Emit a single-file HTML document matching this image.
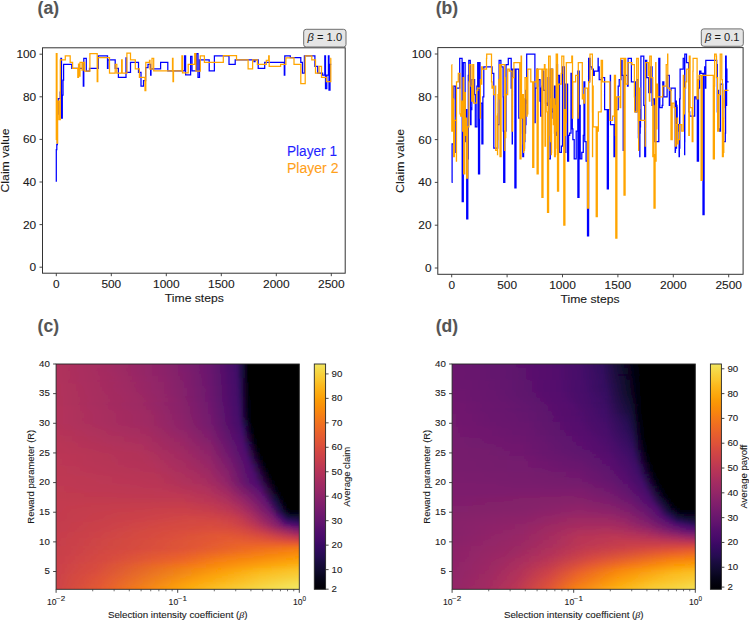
<!DOCTYPE html>
<html><head><meta charset="utf-8"><title>Figure</title>
<style>html,body{margin:0;padding:0;background:#fff;width:749px;height:620px;overflow:hidden}svg{display:block}</style>
</head><body><svg width="749" height="620" viewBox="0 0 749 620" font-family='"Liberation Sans", sans-serif'><defs><filter id="hblur" x="-5%" y="-5%" width="110%" height="110%"><feGaussianBlur stdDeviation="1.1"/></filter><clipPath id="clip0"><rect x="56.10" y="364.00" width="243.20" height="225.30"/></clipPath><linearGradient id="g1" gradientUnits="userSpaceOnUse" x1="56.10" y1="0" x2="299.30" y2="0"><stop offset="0.0021" stop-color="#b0315b"/><stop offset="0.2119" stop-color="#a32c61"/><stop offset="0.4342" stop-color="#8c2369"/><stop offset="0.5453" stop-color="#7a1d6d"/><stop offset="0.6317" stop-color="#69166e"/><stop offset="0.7428" stop-color="#400a67"/><stop offset="0.7675" stop-color="#180c3c"/><stop offset="0.7922" stop-color="#000004"/><stop offset="0.9979" stop-color="#000004"/></linearGradient><linearGradient id="g2" gradientUnits="userSpaceOnUse" x1="56.10" y1="0" x2="299.30" y2="0"><stop offset="0.0021" stop-color="#b0315b"/><stop offset="0.2119" stop-color="#a32c61"/><stop offset="0.4342" stop-color="#8c2369"/><stop offset="0.5453" stop-color="#7a1d6d"/><stop offset="0.6317" stop-color="#69166e"/><stop offset="0.7428" stop-color="#400a67"/><stop offset="0.7675" stop-color="#180c3c"/><stop offset="0.7922" stop-color="#000004"/><stop offset="0.9979" stop-color="#000004"/></linearGradient><linearGradient id="g3" gradientUnits="userSpaceOnUse" x1="56.10" y1="0" x2="299.30" y2="0"><stop offset="0.0021" stop-color="#b0315b"/><stop offset="0.2243" stop-color="#a22b62"/><stop offset="0.4342" stop-color="#8d2369"/><stop offset="0.5453" stop-color="#7c1d6d"/><stop offset="0.6317" stop-color="#69166e"/><stop offset="0.7428" stop-color="#400a67"/><stop offset="0.7675" stop-color="#180c3c"/><stop offset="0.7922" stop-color="#000004"/><stop offset="0.9979" stop-color="#000004"/></linearGradient><linearGradient id="g4" gradientUnits="userSpaceOnUse" x1="56.10" y1="0" x2="299.30" y2="0"><stop offset="0.0021" stop-color="#b0315b"/><stop offset="0.2243" stop-color="#a22b62"/><stop offset="0.4342" stop-color="#8d2369"/><stop offset="0.5329" stop-color="#7d1e6d"/><stop offset="0.6317" stop-color="#69166e"/><stop offset="0.7428" stop-color="#400a67"/><stop offset="0.7675" stop-color="#190c3e"/><stop offset="0.7922" stop-color="#000004"/><stop offset="0.9979" stop-color="#000004"/></linearGradient><linearGradient id="g5" gradientUnits="userSpaceOnUse" x1="56.10" y1="0" x2="299.30" y2="0"><stop offset="0.0021" stop-color="#b0315b"/><stop offset="0.2366" stop-color="#a22b62"/><stop offset="0.4342" stop-color="#8d2369"/><stop offset="0.5329" stop-color="#7f1e6c"/><stop offset="0.6317" stop-color="#69166e"/><stop offset="0.7428" stop-color="#420a68"/><stop offset="0.7675" stop-color="#190c3e"/><stop offset="0.7922" stop-color="#000004"/><stop offset="0.9979" stop-color="#000004"/></linearGradient><linearGradient id="g6" gradientUnits="userSpaceOnUse" x1="56.10" y1="0" x2="299.30" y2="0"><stop offset="0.0021" stop-color="#b0315b"/><stop offset="0.2366" stop-color="#a22b62"/><stop offset="0.4342" stop-color="#8d2369"/><stop offset="0.5329" stop-color="#7f1e6c"/><stop offset="0.6317" stop-color="#6a176e"/><stop offset="0.7428" stop-color="#420a68"/><stop offset="0.7675" stop-color="#190c3e"/><stop offset="0.7922" stop-color="#000004"/><stop offset="0.9979" stop-color="#000004"/></linearGradient><linearGradient id="g7" gradientUnits="userSpaceOnUse" x1="56.10" y1="0" x2="299.30" y2="0"><stop offset="0.0021" stop-color="#b0315b"/><stop offset="0.2490" stop-color="#a22b62"/><stop offset="0.4342" stop-color="#8f2469"/><stop offset="0.5329" stop-color="#7f1e6c"/><stop offset="0.6317" stop-color="#6a176e"/><stop offset="0.7428" stop-color="#420a68"/><stop offset="0.7675" stop-color="#190c3e"/><stop offset="0.7922" stop-color="#000004"/><stop offset="0.9979" stop-color="#000004"/></linearGradient><linearGradient id="g8" gradientUnits="userSpaceOnUse" x1="56.10" y1="0" x2="299.30" y2="0"><stop offset="0.0021" stop-color="#b0315b"/><stop offset="0.2490" stop-color="#a22b62"/><stop offset="0.4342" stop-color="#8f2469"/><stop offset="0.5329" stop-color="#7f1e6c"/><stop offset="0.6317" stop-color="#6a176e"/><stop offset="0.7428" stop-color="#420a68"/><stop offset="0.7551" stop-color="#2f0a5b"/><stop offset="0.7922" stop-color="#000004"/><stop offset="0.9979" stop-color="#000004"/></linearGradient><linearGradient id="g9" gradientUnits="userSpaceOnUse" x1="56.10" y1="0" x2="299.30" y2="0"><stop offset="0.0021" stop-color="#b0315b"/><stop offset="0.2613" stop-color="#a02a63"/><stop offset="0.4342" stop-color="#8f2469"/><stop offset="0.5329" stop-color="#801f6c"/><stop offset="0.6317" stop-color="#6a176e"/><stop offset="0.7428" stop-color="#420a68"/><stop offset="0.7551" stop-color="#2f0a5b"/><stop offset="0.7922" stop-color="#000004"/><stop offset="0.9979" stop-color="#000004"/></linearGradient><linearGradient id="g10" gradientUnits="userSpaceOnUse" x1="56.10" y1="0" x2="299.30" y2="0"><stop offset="0.0021" stop-color="#b0315b"/><stop offset="0.2613" stop-color="#a22b62"/><stop offset="0.4342" stop-color="#902568"/><stop offset="0.5329" stop-color="#801f6c"/><stop offset="0.6317" stop-color="#6a176e"/><stop offset="0.7428" stop-color="#420a68"/><stop offset="0.7551" stop-color="#310a5c"/><stop offset="0.7922" stop-color="#000004"/><stop offset="0.9979" stop-color="#000004"/></linearGradient><linearGradient id="g11" gradientUnits="userSpaceOnUse" x1="56.10" y1="0" x2="299.30" y2="0"><stop offset="0.0021" stop-color="#b1325a"/><stop offset="0.2737" stop-color="#a02a63"/><stop offset="0.4342" stop-color="#902568"/><stop offset="0.5329" stop-color="#801f6c"/><stop offset="0.6317" stop-color="#6a176e"/><stop offset="0.7428" stop-color="#440a68"/><stop offset="0.7551" stop-color="#310a5c"/><stop offset="0.7922" stop-color="#010005"/><stop offset="0.9979" stop-color="#000004"/></linearGradient><linearGradient id="g12" gradientUnits="userSpaceOnUse" x1="56.10" y1="0" x2="299.30" y2="0"><stop offset="0.0021" stop-color="#b1325a"/><stop offset="0.2737" stop-color="#a02a63"/><stop offset="0.4342" stop-color="#902568"/><stop offset="0.5329" stop-color="#801f6c"/><stop offset="0.6317" stop-color="#6c186e"/><stop offset="0.7428" stop-color="#440a68"/><stop offset="0.7551" stop-color="#310a5c"/><stop offset="0.7922" stop-color="#010005"/><stop offset="0.8169" stop-color="#000004"/><stop offset="0.9979" stop-color="#000004"/></linearGradient><linearGradient id="g13" gradientUnits="userSpaceOnUse" x1="56.10" y1="0" x2="299.30" y2="0"><stop offset="0.0021" stop-color="#b1325a"/><stop offset="0.2860" stop-color="#a02a63"/><stop offset="0.4342" stop-color="#902568"/><stop offset="0.5329" stop-color="#82206c"/><stop offset="0.6317" stop-color="#6c186e"/><stop offset="0.7428" stop-color="#440a68"/><stop offset="0.7551" stop-color="#320a5e"/><stop offset="0.7922" stop-color="#010005"/><stop offset="0.8045" stop-color="#000004"/><stop offset="0.9979" stop-color="#000004"/></linearGradient><linearGradient id="g14" gradientUnits="userSpaceOnUse" x1="56.10" y1="0" x2="299.30" y2="0"><stop offset="0.0021" stop-color="#b1325a"/><stop offset="0.2860" stop-color="#a02a63"/><stop offset="0.4342" stop-color="#922568"/><stop offset="0.5329" stop-color="#82206c"/><stop offset="0.6317" stop-color="#6c186e"/><stop offset="0.7428" stop-color="#440a68"/><stop offset="0.7551" stop-color="#320a5e"/><stop offset="0.7922" stop-color="#010005"/><stop offset="0.8045" stop-color="#000004"/><stop offset="0.9979" stop-color="#000004"/></linearGradient><linearGradient id="g15" gradientUnits="userSpaceOnUse" x1="56.10" y1="0" x2="299.30" y2="0"><stop offset="0.0021" stop-color="#b1325a"/><stop offset="0.2984" stop-color="#a02a63"/><stop offset="0.4342" stop-color="#922568"/><stop offset="0.5329" stop-color="#82206c"/><stop offset="0.6317" stop-color="#6c186e"/><stop offset="0.7428" stop-color="#440a68"/><stop offset="0.7551" stop-color="#320a5e"/><stop offset="0.7922" stop-color="#010106"/><stop offset="0.8045" stop-color="#000004"/><stop offset="0.9979" stop-color="#000004"/></linearGradient><linearGradient id="g16" gradientUnits="userSpaceOnUse" x1="56.10" y1="0" x2="299.30" y2="0"><stop offset="0.0021" stop-color="#b1325a"/><stop offset="0.3107" stop-color="#9f2a63"/><stop offset="0.4465" stop-color="#902568"/><stop offset="0.5329" stop-color="#82206c"/><stop offset="0.6317" stop-color="#6c186e"/><stop offset="0.7428" stop-color="#440a68"/><stop offset="0.7551" stop-color="#340a5f"/><stop offset="0.7922" stop-color="#010106"/><stop offset="0.8045" stop-color="#000004"/><stop offset="0.9979" stop-color="#000004"/></linearGradient><linearGradient id="g17" gradientUnits="userSpaceOnUse" x1="56.10" y1="0" x2="299.30" y2="0"><stop offset="0.0021" stop-color="#b1325a"/><stop offset="0.3230" stop-color="#9f2a63"/><stop offset="0.4835" stop-color="#8c2369"/><stop offset="0.6317" stop-color="#6d186e"/><stop offset="0.7428" stop-color="#450a69"/><stop offset="0.7551" stop-color="#340a5f"/><stop offset="0.7922" stop-color="#010108"/><stop offset="0.8045" stop-color="#000004"/><stop offset="0.9979" stop-color="#000004"/></linearGradient><linearGradient id="g18" gradientUnits="userSpaceOnUse" x1="56.10" y1="0" x2="299.30" y2="0"><stop offset="0.0021" stop-color="#b1325a"/><stop offset="0.3230" stop-color="#9f2a63"/><stop offset="0.4712" stop-color="#8f2469"/><stop offset="0.6070" stop-color="#741a6e"/><stop offset="0.6564" stop-color="#64156e"/><stop offset="0.7428" stop-color="#450a69"/><stop offset="0.7551" stop-color="#360961"/><stop offset="0.7922" stop-color="#010108"/><stop offset="0.8045" stop-color="#000004"/><stop offset="0.9979" stop-color="#000004"/></linearGradient><linearGradient id="g19" gradientUnits="userSpaceOnUse" x1="56.10" y1="0" x2="299.30" y2="0"><stop offset="0.0021" stop-color="#b1325a"/><stop offset="0.3354" stop-color="#9f2a63"/><stop offset="0.4959" stop-color="#8c2369"/><stop offset="0.6317" stop-color="#6d186e"/><stop offset="0.7428" stop-color="#450a69"/><stop offset="0.7551" stop-color="#380962"/><stop offset="0.7922" stop-color="#02010a"/><stop offset="0.8045" stop-color="#000004"/><stop offset="0.9979" stop-color="#000004"/></linearGradient><linearGradient id="g20" gradientUnits="userSpaceOnUse" x1="56.10" y1="0" x2="299.30" y2="0"><stop offset="0.0021" stop-color="#b1325a"/><stop offset="0.3477" stop-color="#9d2964"/><stop offset="0.5206" stop-color="#87216b"/><stop offset="0.6317" stop-color="#6f196e"/><stop offset="0.7428" stop-color="#450a69"/><stop offset="0.7551" stop-color="#380962"/><stop offset="0.7922" stop-color="#02010a"/><stop offset="0.8045" stop-color="#000004"/><stop offset="0.9979" stop-color="#000004"/></linearGradient><linearGradient id="g21" gradientUnits="userSpaceOnUse" x1="56.10" y1="0" x2="299.30" y2="0"><stop offset="0.0021" stop-color="#b1325a"/><stop offset="0.3477" stop-color="#9d2964"/><stop offset="0.5206" stop-color="#87216b"/><stop offset="0.6317" stop-color="#6f196e"/><stop offset="0.7428" stop-color="#450a69"/><stop offset="0.7551" stop-color="#390963"/><stop offset="0.7922" stop-color="#02020c"/><stop offset="0.8045" stop-color="#000004"/><stop offset="0.9979" stop-color="#000004"/></linearGradient><linearGradient id="g22" gradientUnits="userSpaceOnUse" x1="56.10" y1="0" x2="299.30" y2="0"><stop offset="0.0021" stop-color="#b3325a"/><stop offset="0.3601" stop-color="#9d2964"/><stop offset="0.5206" stop-color="#88226a"/><stop offset="0.6317" stop-color="#6f196e"/><stop offset="0.7428" stop-color="#470b6a"/><stop offset="0.7551" stop-color="#390963"/><stop offset="0.7922" stop-color="#02020c"/><stop offset="0.8045" stop-color="#000004"/><stop offset="0.9979" stop-color="#000004"/></linearGradient><linearGradient id="g23" gradientUnits="userSpaceOnUse" x1="56.10" y1="0" x2="299.30" y2="0"><stop offset="0.0021" stop-color="#b3325a"/><stop offset="0.3601" stop-color="#9d2964"/><stop offset="0.5206" stop-color="#88226a"/><stop offset="0.6317" stop-color="#71196e"/><stop offset="0.7428" stop-color="#470b6a"/><stop offset="0.7551" stop-color="#3b0964"/><stop offset="0.7922" stop-color="#02020e"/><stop offset="0.8045" stop-color="#000004"/><stop offset="0.9979" stop-color="#000004"/></linearGradient><linearGradient id="g24" gradientUnits="userSpaceOnUse" x1="56.10" y1="0" x2="299.30" y2="0"><stop offset="0.0021" stop-color="#b3325a"/><stop offset="0.3601" stop-color="#9f2a63"/><stop offset="0.5206" stop-color="#88226a"/><stop offset="0.6317" stop-color="#71196e"/><stop offset="0.7428" stop-color="#470b6a"/><stop offset="0.7551" stop-color="#3b0964"/><stop offset="0.7922" stop-color="#02020e"/><stop offset="0.8045" stop-color="#000004"/><stop offset="0.9979" stop-color="#000004"/></linearGradient><linearGradient id="g25" gradientUnits="userSpaceOnUse" x1="56.10" y1="0" x2="299.30" y2="0"><stop offset="0.0021" stop-color="#b3325a"/><stop offset="0.3601" stop-color="#9f2a63"/><stop offset="0.5206" stop-color="#88226a"/><stop offset="0.6317" stop-color="#71196e"/><stop offset="0.7428" stop-color="#470b6a"/><stop offset="0.7551" stop-color="#3d0965"/><stop offset="0.7922" stop-color="#030210"/><stop offset="0.8045" stop-color="#000004"/><stop offset="0.9979" stop-color="#000004"/></linearGradient><linearGradient id="g26" gradientUnits="userSpaceOnUse" x1="56.10" y1="0" x2="299.30" y2="0"><stop offset="0.0021" stop-color="#b3325a"/><stop offset="0.3724" stop-color="#9f2a63"/><stop offset="0.5206" stop-color="#8a226a"/><stop offset="0.6317" stop-color="#721a6e"/><stop offset="0.7428" stop-color="#470b6a"/><stop offset="0.7551" stop-color="#3d0965"/><stop offset="0.7922" stop-color="#040312"/><stop offset="0.8045" stop-color="#000004"/><stop offset="0.9979" stop-color="#000004"/></linearGradient><linearGradient id="g27" gradientUnits="userSpaceOnUse" x1="56.10" y1="0" x2="299.30" y2="0"><stop offset="0.0021" stop-color="#b3325a"/><stop offset="0.3724" stop-color="#9f2a63"/><stop offset="0.5206" stop-color="#8a226a"/><stop offset="0.6317" stop-color="#721a6e"/><stop offset="0.7428" stop-color="#490b6a"/><stop offset="0.7551" stop-color="#3e0966"/><stop offset="0.7922" stop-color="#040312"/><stop offset="0.8045" stop-color="#000004"/><stop offset="0.9979" stop-color="#000004"/></linearGradient><linearGradient id="g28" gradientUnits="userSpaceOnUse" x1="56.10" y1="0" x2="299.30" y2="0"><stop offset="0.0021" stop-color="#b3325a"/><stop offset="0.3724" stop-color="#9f2a63"/><stop offset="0.5206" stop-color="#8a226a"/><stop offset="0.6317" stop-color="#741a6e"/><stop offset="0.7428" stop-color="#490b6a"/><stop offset="0.7551" stop-color="#400a67"/><stop offset="0.7922" stop-color="#050417"/><stop offset="0.8045" stop-color="#000004"/><stop offset="0.9979" stop-color="#000004"/></linearGradient><linearGradient id="g29" gradientUnits="userSpaceOnUse" x1="56.10" y1="0" x2="299.30" y2="0"><stop offset="0.0021" stop-color="#b3325a"/><stop offset="0.3724" stop-color="#9f2a63"/><stop offset="0.5206" stop-color="#8c2369"/><stop offset="0.6317" stop-color="#741a6e"/><stop offset="0.7428" stop-color="#490b6a"/><stop offset="0.7551" stop-color="#420a68"/><stop offset="0.7798" stop-color="#160b39"/><stop offset="0.7922" stop-color="#07051b"/><stop offset="0.8045" stop-color="#000004"/><stop offset="0.9979" stop-color="#000004"/></linearGradient><linearGradient id="g30" gradientUnits="userSpaceOnUse" x1="56.10" y1="0" x2="299.30" y2="0"><stop offset="0.0021" stop-color="#b3325a"/><stop offset="0.3724" stop-color="#a02a63"/><stop offset="0.5206" stop-color="#8c2369"/><stop offset="0.6317" stop-color="#741a6e"/><stop offset="0.7551" stop-color="#440a68"/><stop offset="0.7798" stop-color="#190c3e"/><stop offset="0.8045" stop-color="#000004"/><stop offset="0.9979" stop-color="#000004"/></linearGradient><linearGradient id="g31" gradientUnits="userSpaceOnUse" x1="56.10" y1="0" x2="299.30" y2="0"><stop offset="0.0021" stop-color="#b43359"/><stop offset="0.3724" stop-color="#a02a63"/><stop offset="0.5206" stop-color="#8d2369"/><stop offset="0.6317" stop-color="#751b6e"/><stop offset="0.7551" stop-color="#450a69"/><stop offset="0.7798" stop-color="#1c0c43"/><stop offset="0.8045" stop-color="#010005"/><stop offset="0.8169" stop-color="#000004"/><stop offset="0.9979" stop-color="#000004"/></linearGradient><linearGradient id="g32" gradientUnits="userSpaceOnUse" x1="56.10" y1="0" x2="299.30" y2="0"><stop offset="0.0021" stop-color="#b43359"/><stop offset="0.3724" stop-color="#a22b62"/><stop offset="0.5206" stop-color="#8d2369"/><stop offset="0.6317" stop-color="#771c6d"/><stop offset="0.7551" stop-color="#470b6a"/><stop offset="0.7675" stop-color="#360961"/><stop offset="0.8045" stop-color="#010108"/><stop offset="0.8169" stop-color="#000004"/><stop offset="0.9979" stop-color="#000004"/></linearGradient><linearGradient id="g33" gradientUnits="userSpaceOnUse" x1="56.10" y1="0" x2="299.30" y2="0"><stop offset="0.0021" stop-color="#b43359"/><stop offset="0.3724" stop-color="#a32c61"/><stop offset="0.5329" stop-color="#8d2369"/><stop offset="0.6317" stop-color="#781c6d"/><stop offset="0.7551" stop-color="#490b6a"/><stop offset="0.7675" stop-color="#380962"/><stop offset="0.8045" stop-color="#02020c"/><stop offset="0.8169" stop-color="#000004"/><stop offset="0.9979" stop-color="#000004"/></linearGradient><linearGradient id="g34" gradientUnits="userSpaceOnUse" x1="56.10" y1="0" x2="299.30" y2="0"><stop offset="0.0021" stop-color="#b63458"/><stop offset="0.3724" stop-color="#a32c61"/><stop offset="0.5329" stop-color="#8f2469"/><stop offset="0.6317" stop-color="#7a1d6d"/><stop offset="0.7551" stop-color="#4a0c6b"/><stop offset="0.7675" stop-color="#3b0964"/><stop offset="0.8045" stop-color="#030210"/><stop offset="0.8169" stop-color="#000004"/><stop offset="0.9979" stop-color="#000004"/></linearGradient><linearGradient id="g35" gradientUnits="userSpaceOnUse" x1="56.10" y1="0" x2="299.30" y2="0"><stop offset="0.0021" stop-color="#b63458"/><stop offset="0.3724" stop-color="#a52c60"/><stop offset="0.5329" stop-color="#902568"/><stop offset="0.6317" stop-color="#7c1d6d"/><stop offset="0.7551" stop-color="#4c0c6b"/><stop offset="0.7675" stop-color="#3e0966"/><stop offset="0.8045" stop-color="#050417"/><stop offset="0.8169" stop-color="#000004"/><stop offset="0.9979" stop-color="#000004"/></linearGradient><linearGradient id="g36" gradientUnits="userSpaceOnUse" x1="56.10" y1="0" x2="299.30" y2="0"><stop offset="0.0021" stop-color="#b63458"/><stop offset="0.3601" stop-color="#a62d60"/><stop offset="0.5206" stop-color="#932667"/><stop offset="0.6317" stop-color="#7d1e6d"/><stop offset="0.7551" stop-color="#4d0d6c"/><stop offset="0.7675" stop-color="#420a68"/><stop offset="0.8169" stop-color="#000004"/><stop offset="0.9979" stop-color="#000004"/></linearGradient><linearGradient id="g37" gradientUnits="userSpaceOnUse" x1="56.10" y1="0" x2="299.30" y2="0"><stop offset="0.0021" stop-color="#b73557"/><stop offset="0.3601" stop-color="#a82e5f"/><stop offset="0.5206" stop-color="#952667"/><stop offset="0.6317" stop-color="#7f1e6c"/><stop offset="0.7551" stop-color="#4d0d6c"/><stop offset="0.7675" stop-color="#450a69"/><stop offset="0.8169" stop-color="#010106"/><stop offset="0.8292" stop-color="#000004"/><stop offset="0.9979" stop-color="#000004"/></linearGradient><linearGradient id="g38" gradientUnits="userSpaceOnUse" x1="56.10" y1="0" x2="299.30" y2="0"><stop offset="0.0021" stop-color="#b73557"/><stop offset="0.3601" stop-color="#a92e5e"/><stop offset="0.5206" stop-color="#972766"/><stop offset="0.6317" stop-color="#801f6c"/><stop offset="0.7551" stop-color="#4f0d6c"/><stop offset="0.7675" stop-color="#490b6a"/><stop offset="0.8169" stop-color="#02010a"/><stop offset="0.8292" stop-color="#000004"/><stop offset="0.9979" stop-color="#000004"/></linearGradient><linearGradient id="g39" gradientUnits="userSpaceOnUse" x1="56.10" y1="0" x2="299.30" y2="0"><stop offset="0.0021" stop-color="#b73557"/><stop offset="0.3601" stop-color="#a92e5e"/><stop offset="0.5206" stop-color="#982766"/><stop offset="0.6317" stop-color="#82206c"/><stop offset="0.7305" stop-color="#5c126e"/><stop offset="0.7675" stop-color="#4c0c6b"/><stop offset="0.8169" stop-color="#02020e"/><stop offset="0.8292" stop-color="#000004"/><stop offset="0.9979" stop-color="#000004"/></linearGradient><linearGradient id="g40" gradientUnits="userSpaceOnUse" x1="56.10" y1="0" x2="299.30" y2="0"><stop offset="0.0021" stop-color="#b93556"/><stop offset="0.3601" stop-color="#ab2f5e"/><stop offset="0.5206" stop-color="#9a2865"/><stop offset="0.6317" stop-color="#84206b"/><stop offset="0.7305" stop-color="#5c126e"/><stop offset="0.7675" stop-color="#4d0d6c"/><stop offset="0.7922" stop-color="#240c4f"/><stop offset="0.8169" stop-color="#040314"/><stop offset="0.8292" stop-color="#000004"/><stop offset="0.9979" stop-color="#000004"/></linearGradient><linearGradient id="g41" gradientUnits="userSpaceOnUse" x1="56.10" y1="0" x2="299.30" y2="0"><stop offset="0.0021" stop-color="#b93556"/><stop offset="0.3477" stop-color="#ad305d"/><stop offset="0.5206" stop-color="#9a2865"/><stop offset="0.6317" stop-color="#87216b"/><stop offset="0.7181" stop-color="#64156e"/><stop offset="0.7675" stop-color="#4f0d6c"/><stop offset="0.7798" stop-color="#3e0966"/><stop offset="0.8292" stop-color="#000004"/><stop offset="0.9979" stop-color="#000004"/></linearGradient><linearGradient id="g42" gradientUnits="userSpaceOnUse" x1="56.10" y1="0" x2="299.30" y2="0"><stop offset="0.0021" stop-color="#b93556"/><stop offset="0.3477" stop-color="#ae305c"/><stop offset="0.5206" stop-color="#9b2964"/><stop offset="0.6317" stop-color="#88226a"/><stop offset="0.7181" stop-color="#65156e"/><stop offset="0.7675" stop-color="#510e6c"/><stop offset="0.7798" stop-color="#420a68"/><stop offset="0.8292" stop-color="#010106"/><stop offset="0.8416" stop-color="#000004"/><stop offset="0.9979" stop-color="#000004"/></linearGradient><linearGradient id="g43" gradientUnits="userSpaceOnUse" x1="56.10" y1="0" x2="299.30" y2="0"><stop offset="0.0021" stop-color="#ba3655"/><stop offset="0.3477" stop-color="#ae305c"/><stop offset="0.5206" stop-color="#9d2964"/><stop offset="0.6317" stop-color="#8a226a"/><stop offset="0.7181" stop-color="#67166e"/><stop offset="0.7675" stop-color="#510e6c"/><stop offset="0.7798" stop-color="#450a69"/><stop offset="0.8292" stop-color="#02020c"/><stop offset="0.8416" stop-color="#000004"/><stop offset="0.9979" stop-color="#000004"/></linearGradient><linearGradient id="g44" gradientUnits="userSpaceOnUse" x1="56.10" y1="0" x2="299.30" y2="0"><stop offset="0.0021" stop-color="#ba3655"/><stop offset="0.3477" stop-color="#b0315b"/><stop offset="0.5206" stop-color="#9f2a63"/><stop offset="0.6317" stop-color="#8c2369"/><stop offset="0.7181" stop-color="#69166e"/><stop offset="0.7675" stop-color="#520e6d"/><stop offset="0.7798" stop-color="#4a0c6b"/><stop offset="0.8292" stop-color="#040312"/><stop offset="0.8416" stop-color="#000004"/><stop offset="0.9979" stop-color="#000004"/></linearGradient><linearGradient id="g45" gradientUnits="userSpaceOnUse" x1="56.10" y1="0" x2="299.30" y2="0"><stop offset="0.0021" stop-color="#ba3655"/><stop offset="0.3477" stop-color="#b1325a"/><stop offset="0.5206" stop-color="#a02a63"/><stop offset="0.6317" stop-color="#8d2369"/><stop offset="0.7181" stop-color="#6a176e"/><stop offset="0.7798" stop-color="#4d0d6c"/><stop offset="0.8416" stop-color="#000004"/><stop offset="0.9979" stop-color="#000004"/></linearGradient><linearGradient id="g46" gradientUnits="userSpaceOnUse" x1="56.10" y1="0" x2="299.30" y2="0"><stop offset="0.0021" stop-color="#bc3754"/><stop offset="0.3601" stop-color="#b1325a"/><stop offset="0.5206" stop-color="#a22b62"/><stop offset="0.6317" stop-color="#8f2469"/><stop offset="0.7181" stop-color="#6c186e"/><stop offset="0.7798" stop-color="#4f0d6c"/><stop offset="0.8416" stop-color="#010106"/><stop offset="0.8539" stop-color="#000004"/><stop offset="0.9979" stop-color="#000004"/></linearGradient><linearGradient id="g47" gradientUnits="userSpaceOnUse" x1="56.10" y1="0" x2="299.30" y2="0"><stop offset="0.0021" stop-color="#bc3754"/><stop offset="0.3724" stop-color="#b1325a"/><stop offset="0.5329" stop-color="#a02a63"/><stop offset="0.6317" stop-color="#902568"/><stop offset="0.7058" stop-color="#741a6e"/><stop offset="0.7798" stop-color="#510e6c"/><stop offset="0.7922" stop-color="#420a68"/><stop offset="0.8416" stop-color="#02020c"/><stop offset="0.8539" stop-color="#000004"/><stop offset="0.9979" stop-color="#000004"/></linearGradient><linearGradient id="g48" gradientUnits="userSpaceOnUse" x1="56.10" y1="0" x2="299.30" y2="0"><stop offset="0.0021" stop-color="#bc3754"/><stop offset="0.3724" stop-color="#b1325a"/><stop offset="0.5329" stop-color="#a22b62"/><stop offset="0.6317" stop-color="#922568"/><stop offset="0.7058" stop-color="#771c6d"/><stop offset="0.7798" stop-color="#520e6d"/><stop offset="0.7922" stop-color="#450a69"/><stop offset="0.8416" stop-color="#040312"/><stop offset="0.8539" stop-color="#000004"/><stop offset="0.9979" stop-color="#000004"/></linearGradient><linearGradient id="g49" gradientUnits="userSpaceOnUse" x1="56.10" y1="0" x2="299.30" y2="0"><stop offset="0.0021" stop-color="#bc3754"/><stop offset="0.3848" stop-color="#b1325a"/><stop offset="0.5329" stop-color="#a32c61"/><stop offset="0.6317" stop-color="#932667"/><stop offset="0.7058" stop-color="#781c6d"/><stop offset="0.7798" stop-color="#540f6d"/><stop offset="0.7922" stop-color="#4a0c6b"/><stop offset="0.8539" stop-color="#010005"/><stop offset="0.9979" stop-color="#000004"/></linearGradient><linearGradient id="g50" gradientUnits="userSpaceOnUse" x1="56.10" y1="0" x2="299.30" y2="0"><stop offset="0.0021" stop-color="#bc3754"/><stop offset="0.3848" stop-color="#b3325a"/><stop offset="0.5453" stop-color="#a32c61"/><stop offset="0.6317" stop-color="#952667"/><stop offset="0.7058" stop-color="#7a1d6d"/><stop offset="0.7922" stop-color="#4d0d6c"/><stop offset="0.8539" stop-color="#02010a"/><stop offset="0.8663" stop-color="#000004"/><stop offset="0.9979" stop-color="#000004"/></linearGradient><linearGradient id="g51" gradientUnits="userSpaceOnUse" x1="56.10" y1="0" x2="299.30" y2="0"><stop offset="0.0021" stop-color="#bc3754"/><stop offset="0.3971" stop-color="#b3325a"/><stop offset="0.5453" stop-color="#a32c61"/><stop offset="0.6317" stop-color="#972766"/><stop offset="0.7058" stop-color="#7d1e6d"/><stop offset="0.7922" stop-color="#510e6c"/><stop offset="0.8169" stop-color="#2f0a5b"/><stop offset="0.8539" stop-color="#030210"/><stop offset="0.8663" stop-color="#000004"/><stop offset="0.9979" stop-color="#000004"/></linearGradient><linearGradient id="g52" gradientUnits="userSpaceOnUse" x1="56.10" y1="0" x2="299.30" y2="0"><stop offset="0.0021" stop-color="#bd3853"/><stop offset="0.3971" stop-color="#b3325a"/><stop offset="0.5453" stop-color="#a52c60"/><stop offset="0.6317" stop-color="#982766"/><stop offset="0.7058" stop-color="#7f1e6c"/><stop offset="0.7922" stop-color="#520e6d"/><stop offset="0.8045" stop-color="#470b6a"/><stop offset="0.8663" stop-color="#000004"/><stop offset="0.9979" stop-color="#000004"/></linearGradient><linearGradient id="g53" gradientUnits="userSpaceOnUse" x1="56.10" y1="0" x2="299.30" y2="0"><stop offset="0.0021" stop-color="#bd3853"/><stop offset="0.3971" stop-color="#b43359"/><stop offset="0.5576" stop-color="#a52c60"/><stop offset="0.6317" stop-color="#9a2865"/><stop offset="0.7058" stop-color="#801f6c"/><stop offset="0.7922" stop-color="#520e6d"/><stop offset="0.8045" stop-color="#4a0c6b"/><stop offset="0.8663" stop-color="#010108"/><stop offset="0.8786" stop-color="#000004"/><stop offset="0.9979" stop-color="#000004"/></linearGradient><linearGradient id="g54" gradientUnits="userSpaceOnUse" x1="56.10" y1="0" x2="299.30" y2="0"><stop offset="0.0021" stop-color="#bd3853"/><stop offset="0.3971" stop-color="#b43359"/><stop offset="0.5576" stop-color="#a62d60"/><stop offset="0.6317" stop-color="#9b2964"/><stop offset="0.7058" stop-color="#84206b"/><stop offset="0.7922" stop-color="#540f6d"/><stop offset="0.8045" stop-color="#4f0d6c"/><stop offset="0.8663" stop-color="#030210"/><stop offset="0.8786" stop-color="#000004"/><stop offset="0.9979" stop-color="#000004"/></linearGradient><linearGradient id="g55" gradientUnits="userSpaceOnUse" x1="56.10" y1="0" x2="299.30" y2="0"><stop offset="0.0021" stop-color="#bd3853"/><stop offset="0.3971" stop-color="#b63458"/><stop offset="0.5576" stop-color="#a82e5f"/><stop offset="0.6317" stop-color="#9d2964"/><stop offset="0.7058" stop-color="#85216b"/><stop offset="0.7922" stop-color="#550f6d"/><stop offset="0.8045" stop-color="#510e6c"/><stop offset="0.8169" stop-color="#440a68"/><stop offset="0.8786" stop-color="#000004"/><stop offset="0.9979" stop-color="#000004"/></linearGradient><linearGradient id="g56" gradientUnits="userSpaceOnUse" x1="56.10" y1="0" x2="299.30" y2="0"><stop offset="0.0021" stop-color="#bd3853"/><stop offset="0.3971" stop-color="#b73557"/><stop offset="0.5700" stop-color="#a82e5f"/><stop offset="0.6317" stop-color="#9f2a63"/><stop offset="0.7058" stop-color="#87216b"/><stop offset="0.7922" stop-color="#57106e"/><stop offset="0.8045" stop-color="#510e6c"/><stop offset="0.8169" stop-color="#470b6a"/><stop offset="0.8786" stop-color="#010108"/><stop offset="0.8909" stop-color="#000004"/><stop offset="0.9979" stop-color="#000004"/></linearGradient><linearGradient id="g57" gradientUnits="userSpaceOnUse" x1="56.10" y1="0" x2="299.30" y2="0"><stop offset="0.0021" stop-color="#bf3952"/><stop offset="0.3971" stop-color="#b73557"/><stop offset="0.5700" stop-color="#a92e5e"/><stop offset="0.6317" stop-color="#a02a63"/><stop offset="0.6934" stop-color="#8f2469"/><stop offset="0.7922" stop-color="#57106e"/><stop offset="0.8045" stop-color="#520e6d"/><stop offset="0.8169" stop-color="#4c0c6b"/><stop offset="0.8786" stop-color="#030210"/><stop offset="0.8909" stop-color="#000004"/><stop offset="0.9979" stop-color="#000004"/></linearGradient><linearGradient id="g58" gradientUnits="userSpaceOnUse" x1="56.10" y1="0" x2="299.30" y2="0"><stop offset="0.0021" stop-color="#bf3952"/><stop offset="0.4095" stop-color="#b73557"/><stop offset="0.5947" stop-color="#a82e5f"/><stop offset="0.6440" stop-color="#9f2a63"/><stop offset="0.6934" stop-color="#902568"/><stop offset="0.8045" stop-color="#540f6d"/><stop offset="0.8169" stop-color="#4f0d6c"/><stop offset="0.8909" stop-color="#000004"/><stop offset="0.9979" stop-color="#000004"/></linearGradient><linearGradient id="g59" gradientUnits="userSpaceOnUse" x1="56.10" y1="0" x2="299.30" y2="0"><stop offset="0.0021" stop-color="#bf3952"/><stop offset="0.4095" stop-color="#b93556"/><stop offset="0.6070" stop-color="#a82e5f"/><stop offset="0.6564" stop-color="#9d2964"/><stop offset="0.7058" stop-color="#8d2369"/><stop offset="0.7922" stop-color="#5a116e"/><stop offset="0.8169" stop-color="#510e6c"/><stop offset="0.8292" stop-color="#450a69"/><stop offset="0.8909" stop-color="#02010a"/><stop offset="0.9033" stop-color="#000004"/><stop offset="0.9979" stop-color="#000004"/></linearGradient><linearGradient id="g60" gradientUnits="userSpaceOnUse" x1="56.10" y1="0" x2="299.30" y2="0"><stop offset="0.0021" stop-color="#bf3952"/><stop offset="0.4095" stop-color="#b93556"/><stop offset="0.6070" stop-color="#a92e5e"/><stop offset="0.6564" stop-color="#a02a63"/><stop offset="0.7058" stop-color="#902568"/><stop offset="0.7922" stop-color="#5d126e"/><stop offset="0.8169" stop-color="#520e6d"/><stop offset="0.8292" stop-color="#4a0c6b"/><stop offset="0.8909" stop-color="#030210"/><stop offset="0.9033" stop-color="#000004"/><stop offset="0.9979" stop-color="#000004"/></linearGradient><linearGradient id="g61" gradientUnits="userSpaceOnUse" x1="56.10" y1="0" x2="299.30" y2="0"><stop offset="0.0021" stop-color="#bf3952"/><stop offset="0.4095" stop-color="#ba3655"/><stop offset="0.5947" stop-color="#ad305d"/><stop offset="0.6440" stop-color="#a52c60"/><stop offset="0.6934" stop-color="#982766"/><stop offset="0.7428" stop-color="#7d1e6d"/><stop offset="0.8045" stop-color="#5c126e"/><stop offset="0.8292" stop-color="#510e6c"/><stop offset="0.9033" stop-color="#010005"/><stop offset="0.9156" stop-color="#000004"/><stop offset="0.9979" stop-color="#000004"/></linearGradient><linearGradient id="g62" gradientUnits="userSpaceOnUse" x1="56.10" y1="0" x2="299.30" y2="0"><stop offset="0.0021" stop-color="#c03a51"/><stop offset="0.4218" stop-color="#ba3655"/><stop offset="0.5947" stop-color="#b0315b"/><stop offset="0.6440" stop-color="#a82e5f"/><stop offset="0.7058" stop-color="#972766"/><stop offset="0.8045" stop-color="#61136e"/><stop offset="0.8292" stop-color="#57106e"/><stop offset="0.8416" stop-color="#490b6a"/><stop offset="0.9033" stop-color="#02010a"/><stop offset="0.9156" stop-color="#000004"/><stop offset="0.9979" stop-color="#000004"/></linearGradient><linearGradient id="g63" gradientUnits="userSpaceOnUse" x1="56.10" y1="0" x2="299.30" y2="0"><stop offset="0.0021" stop-color="#c03a51"/><stop offset="0.4218" stop-color="#bc3754"/><stop offset="0.5700" stop-color="#b3325a"/><stop offset="0.6317" stop-color="#ad305d"/><stop offset="0.7058" stop-color="#9a2865"/><stop offset="0.8169" stop-color="#61136e"/><stop offset="0.8292" stop-color="#5a116e"/><stop offset="0.8416" stop-color="#510e6c"/><stop offset="0.9033" stop-color="#040312"/><stop offset="0.9156" stop-color="#000004"/><stop offset="0.9979" stop-color="#000004"/></linearGradient><linearGradient id="g64" gradientUnits="userSpaceOnUse" x1="56.10" y1="0" x2="299.30" y2="0"><stop offset="0.0021" stop-color="#c03a51"/><stop offset="0.4465" stop-color="#bc3754"/><stop offset="0.6070" stop-color="#b3325a"/><stop offset="0.6811" stop-color="#a52c60"/><stop offset="0.7058" stop-color="#9d2964"/><stop offset="0.8292" stop-color="#5f136e"/><stop offset="0.8416" stop-color="#57106e"/><stop offset="0.9033" stop-color="#060419"/><stop offset="0.9156" stop-color="#010106"/><stop offset="0.9280" stop-color="#000004"/><stop offset="0.9979" stop-color="#000004"/></linearGradient><linearGradient id="g65" gradientUnits="userSpaceOnUse" x1="56.10" y1="0" x2="299.30" y2="0"><stop offset="0.0021" stop-color="#c13a50"/><stop offset="0.4588" stop-color="#bd3853"/><stop offset="0.6193" stop-color="#b3325a"/><stop offset="0.7058" stop-color="#a22b62"/><stop offset="0.8169" stop-color="#6a176e"/><stop offset="0.8416" stop-color="#5d126e"/><stop offset="0.9156" stop-color="#02020c"/><stop offset="0.9280" stop-color="#000004"/><stop offset="0.9979" stop-color="#000004"/></linearGradient><linearGradient id="g66" gradientUnits="userSpaceOnUse" x1="56.10" y1="0" x2="299.30" y2="0"><stop offset="0.0021" stop-color="#c13a50"/><stop offset="0.4959" stop-color="#bf3952"/><stop offset="0.6317" stop-color="#b43359"/><stop offset="0.7058" stop-color="#a52c60"/><stop offset="0.7798" stop-color="#82206c"/><stop offset="0.8416" stop-color="#62146e"/><stop offset="0.8539" stop-color="#540f6d"/><stop offset="0.9033" stop-color="#0d0829"/><stop offset="0.9280" stop-color="#000004"/><stop offset="0.9979" stop-color="#000004"/></linearGradient><linearGradient id="g67" gradientUnits="userSpaceOnUse" x1="56.10" y1="0" x2="299.30" y2="0"><stop offset="0.0021" stop-color="#c13a50"/><stop offset="0.5082" stop-color="#bf3952"/><stop offset="0.6317" stop-color="#b63458"/><stop offset="0.7058" stop-color="#a82e5f"/><stop offset="0.7675" stop-color="#8f2469"/><stop offset="0.8416" stop-color="#65156e"/><stop offset="0.8539" stop-color="#5c126e"/><stop offset="0.9033" stop-color="#120a32"/><stop offset="0.9280" stop-color="#010108"/><stop offset="0.9403" stop-color="#000004"/><stop offset="0.9979" stop-color="#000004"/></linearGradient><linearGradient id="g68" gradientUnits="userSpaceOnUse" x1="56.10" y1="0" x2="299.30" y2="0"><stop offset="0.0021" stop-color="#c13a50"/><stop offset="0.5206" stop-color="#c03a51"/><stop offset="0.6440" stop-color="#b73557"/><stop offset="0.7058" stop-color="#ab2f5e"/><stop offset="0.7675" stop-color="#932667"/><stop offset="0.8292" stop-color="#71196e"/><stop offset="0.8539" stop-color="#62146e"/><stop offset="0.9033" stop-color="#160b39"/><stop offset="0.9280" stop-color="#02020e"/><stop offset="0.9403" stop-color="#000004"/><stop offset="0.9979" stop-color="#000004"/></linearGradient><linearGradient id="g69" gradientUnits="userSpaceOnUse" x1="56.10" y1="0" x2="299.30" y2="0"><stop offset="0.0021" stop-color="#c33b4f"/><stop offset="0.5206" stop-color="#c13a50"/><stop offset="0.6440" stop-color="#b93556"/><stop offset="0.7058" stop-color="#ae305c"/><stop offset="0.7675" stop-color="#982766"/><stop offset="0.8169" stop-color="#7d1e6d"/><stop offset="0.8539" stop-color="#67166e"/><stop offset="0.8663" stop-color="#59106e"/><stop offset="0.9033" stop-color="#1c0c43"/><stop offset="0.9403" stop-color="#000004"/><stop offset="0.9979" stop-color="#000004"/></linearGradient><linearGradient id="g70" gradientUnits="userSpaceOnUse" x1="56.10" y1="0" x2="299.30" y2="0"><stop offset="0.0021" stop-color="#c33b4f"/><stop offset="0.5206" stop-color="#c43c4e"/><stop offset="0.6440" stop-color="#bc3754"/><stop offset="0.7058" stop-color="#b1325a"/><stop offset="0.7551" stop-color="#a22b62"/><stop offset="0.8045" stop-color="#8a226a"/><stop offset="0.8539" stop-color="#6a176e"/><stop offset="0.8663" stop-color="#61136e"/><stop offset="0.9033" stop-color="#230c4c"/><stop offset="0.9403" stop-color="#010108"/><stop offset="0.9527" stop-color="#000004"/><stop offset="0.9979" stop-color="#000004"/></linearGradient><linearGradient id="g71" gradientUnits="userSpaceOnUse" x1="56.10" y1="0" x2="299.30" y2="0"><stop offset="0.0021" stop-color="#c33b4f"/><stop offset="0.5206" stop-color="#c63d4d"/><stop offset="0.6440" stop-color="#bf3952"/><stop offset="0.7058" stop-color="#b63458"/><stop offset="0.7551" stop-color="#a62d60"/><stop offset="0.8045" stop-color="#8f2469"/><stop offset="0.8663" stop-color="#67166e"/><stop offset="0.9156" stop-color="#190c3e"/><stop offset="0.9403" stop-color="#02020e"/><stop offset="0.9527" stop-color="#000004"/><stop offset="0.9979" stop-color="#000004"/></linearGradient><linearGradient id="g72" gradientUnits="userSpaceOnUse" x1="56.10" y1="0" x2="299.30" y2="0"><stop offset="0.0021" stop-color="#c33b4f"/><stop offset="0.5206" stop-color="#c73e4c"/><stop offset="0.6440" stop-color="#c13a50"/><stop offset="0.7058" stop-color="#b93556"/><stop offset="0.7551" stop-color="#ab2f5e"/><stop offset="0.8045" stop-color="#932667"/><stop offset="0.8663" stop-color="#6c186e"/><stop offset="0.8786" stop-color="#5d126e"/><stop offset="0.9156" stop-color="#1f0c48"/><stop offset="0.9527" stop-color="#000004"/><stop offset="0.9979" stop-color="#000004"/></linearGradient><linearGradient id="g73" gradientUnits="userSpaceOnUse" x1="56.10" y1="0" x2="299.30" y2="0"><stop offset="0.0021" stop-color="#c33b4f"/><stop offset="0.5206" stop-color="#ca404a"/><stop offset="0.6440" stop-color="#c33b4f"/><stop offset="0.7181" stop-color="#b93556"/><stop offset="0.7675" stop-color="#a92e5e"/><stop offset="0.8045" stop-color="#982766"/><stop offset="0.8663" stop-color="#71196e"/><stop offset="0.8786" stop-color="#67166e"/><stop offset="0.9156" stop-color="#260c51"/><stop offset="0.9403" stop-color="#08051d"/><stop offset="0.9527" stop-color="#02010a"/><stop offset="0.9650" stop-color="#000004"/><stop offset="0.9979" stop-color="#000004"/></linearGradient><linearGradient id="g74" gradientUnits="userSpaceOnUse" x1="56.10" y1="0" x2="299.30" y2="0"><stop offset="0.0021" stop-color="#c33b4f"/><stop offset="0.5329" stop-color="#cb4149"/><stop offset="0.6440" stop-color="#c63d4d"/><stop offset="0.7181" stop-color="#bd3853"/><stop offset="0.7675" stop-color="#ae305c"/><stop offset="0.8045" stop-color="#9d2964"/><stop offset="0.8786" stop-color="#6d186e"/><stop offset="0.9280" stop-color="#1b0c41"/><stop offset="0.9403" stop-color="#0c0826"/><stop offset="0.9650" stop-color="#010108"/><stop offset="0.9979" stop-color="#010108"/></linearGradient><linearGradient id="g75" gradientUnits="userSpaceOnUse" x1="56.10" y1="0" x2="299.30" y2="0"><stop offset="0.0021" stop-color="#c33b4f"/><stop offset="0.4712" stop-color="#cc4248"/><stop offset="0.6317" stop-color="#ca404a"/><stop offset="0.7181" stop-color="#c03a51"/><stop offset="0.7675" stop-color="#b3325a"/><stop offset="0.8045" stop-color="#a32c61"/><stop offset="0.8786" stop-color="#741a6e"/><stop offset="0.8909" stop-color="#65156e"/><stop offset="0.9280" stop-color="#230c4c"/><stop offset="0.9527" stop-color="#0a0722"/><stop offset="0.9650" stop-color="#050417"/><stop offset="0.9979" stop-color="#040314"/></linearGradient><linearGradient id="g76" gradientUnits="userSpaceOnUse" x1="56.10" y1="0" x2="299.30" y2="0"><stop offset="0.0021" stop-color="#c33b4f"/><stop offset="0.5329" stop-color="#cf4446"/><stop offset="0.6440" stop-color="#cc4248"/><stop offset="0.7181" stop-color="#c43c4e"/><stop offset="0.7551" stop-color="#bc3754"/><stop offset="0.8045" stop-color="#a82e5f"/><stop offset="0.8786" stop-color="#7a1d6d"/><stop offset="0.8909" stop-color="#6f196e"/><stop offset="0.9156" stop-color="#440a68"/><stop offset="0.9403" stop-color="#1f0c48"/><stop offset="0.9527" stop-color="#120a32"/><stop offset="0.9650" stop-color="#0d0829"/><stop offset="0.9979" stop-color="#0b0724"/></linearGradient><linearGradient id="g77" gradientUnits="userSpaceOnUse" x1="56.10" y1="0" x2="299.30" y2="0"><stop offset="0.0021" stop-color="#c33b4f"/><stop offset="0.5453" stop-color="#d04545"/><stop offset="0.6564" stop-color="#ce4347"/><stop offset="0.7305" stop-color="#c63d4d"/><stop offset="0.7675" stop-color="#bc3754"/><stop offset="0.8169" stop-color="#a62d60"/><stop offset="0.8909" stop-color="#781c6d"/><stop offset="0.9280" stop-color="#3e0966"/><stop offset="0.9527" stop-color="#1b0c41"/><stop offset="0.9979" stop-color="#140b34"/></linearGradient><linearGradient id="g78" gradientUnits="userSpaceOnUse" x1="56.10" y1="0" x2="299.30" y2="0"><stop offset="0.0021" stop-color="#c33b4f"/><stop offset="0.5453" stop-color="#d24644"/><stop offset="0.6564" stop-color="#d04545"/><stop offset="0.7305" stop-color="#ca404a"/><stop offset="0.7675" stop-color="#c03a51"/><stop offset="0.8169" stop-color="#ab2f5e"/><stop offset="0.8909" stop-color="#7f1e6c"/><stop offset="0.9033" stop-color="#721a6e"/><stop offset="0.9403" stop-color="#390963"/><stop offset="0.9527" stop-color="#290b55"/><stop offset="0.9979" stop-color="#1e0c45"/></linearGradient><linearGradient id="g79" gradientUnits="userSpaceOnUse" x1="56.10" y1="0" x2="299.30" y2="0"><stop offset="0.0021" stop-color="#c33b4f"/><stop offset="0.5576" stop-color="#d44842"/><stop offset="0.6564" stop-color="#d34743"/><stop offset="0.7305" stop-color="#cc4248"/><stop offset="0.7675" stop-color="#c43c4e"/><stop offset="0.8169" stop-color="#b0315b"/><stop offset="0.8786" stop-color="#8d2369"/><stop offset="0.9033" stop-color="#7d1e6d"/><stop offset="0.9156" stop-color="#6c186e"/><stop offset="0.9403" stop-color="#470b6a"/><stop offset="0.9527" stop-color="#390963"/><stop offset="0.9979" stop-color="#290b55"/></linearGradient><linearGradient id="g80" gradientUnits="userSpaceOnUse" x1="56.10" y1="0" x2="299.30" y2="0"><stop offset="0.0021" stop-color="#c43c4e"/><stop offset="0.4588" stop-color="#d34743"/><stop offset="0.6440" stop-color="#d54a41"/><stop offset="0.7181" stop-color="#d04545"/><stop offset="0.7675" stop-color="#c73e4c"/><stop offset="0.8169" stop-color="#b63458"/><stop offset="0.8663" stop-color="#9b2964"/><stop offset="0.9156" stop-color="#7a1d6d"/><stop offset="0.9403" stop-color="#550f6d"/><stop offset="0.9527" stop-color="#4a0c6b"/><stop offset="0.9979" stop-color="#390963"/></linearGradient><linearGradient id="g81" gradientUnits="userSpaceOnUse" x1="56.10" y1="0" x2="299.30" y2="0"><stop offset="0.0021" stop-color="#c43c4e"/><stop offset="0.4342" stop-color="#d34743"/><stop offset="0.6317" stop-color="#d74b3f"/><stop offset="0.7181" stop-color="#d34743"/><stop offset="0.7675" stop-color="#cb4149"/><stop offset="0.8169" stop-color="#bc3754"/><stop offset="0.8663" stop-color="#a32c61"/><stop offset="0.9156" stop-color="#84206b"/><stop offset="0.9280" stop-color="#781c6d"/><stop offset="0.9403" stop-color="#69166e"/><stop offset="0.9527" stop-color="#5f136e"/><stop offset="0.9979" stop-color="#4c0c6b"/></linearGradient><linearGradient id="g82" gradientUnits="userSpaceOnUse" x1="56.10" y1="0" x2="299.30" y2="0"><stop offset="0.0021" stop-color="#c43c4e"/><stop offset="0.4342" stop-color="#d44842"/><stop offset="0.6317" stop-color="#d94d3d"/><stop offset="0.7181" stop-color="#d54a41"/><stop offset="0.7675" stop-color="#cf4446"/><stop offset="0.8169" stop-color="#c13a50"/><stop offset="0.8663" stop-color="#ad305d"/><stop offset="0.9403" stop-color="#7f1e6c"/><stop offset="0.9650" stop-color="#71196e"/><stop offset="0.9979" stop-color="#62146e"/></linearGradient><linearGradient id="g83" gradientUnits="userSpaceOnUse" x1="56.10" y1="0" x2="299.30" y2="0"><stop offset="0.0021" stop-color="#c43c4e"/><stop offset="0.4465" stop-color="#d54a41"/><stop offset="0.6564" stop-color="#da4e3c"/><stop offset="0.7305" stop-color="#d84c3e"/><stop offset="0.7922" stop-color="#cf4446"/><stop offset="0.8539" stop-color="#bc3754"/><stop offset="0.9897" stop-color="#781c6d"/><stop offset="0.9979" stop-color="#751b6e"/></linearGradient><linearGradient id="g84" gradientUnits="userSpaceOnUse" x1="56.10" y1="0" x2="299.30" y2="0"><stop offset="0.0021" stop-color="#c43c4e"/><stop offset="0.4465" stop-color="#d74b3f"/><stop offset="0.6564" stop-color="#dd513a"/><stop offset="0.7428" stop-color="#da4e3c"/><stop offset="0.8169" stop-color="#ce4347"/><stop offset="0.8663" stop-color="#bf3952"/><stop offset="0.9979" stop-color="#87216b"/></linearGradient><linearGradient id="g85" gradientUnits="userSpaceOnUse" x1="56.10" y1="0" x2="299.30" y2="0"><stop offset="0.0021" stop-color="#c63d4d"/><stop offset="0.4465" stop-color="#d84c3e"/><stop offset="0.6687" stop-color="#df5337"/><stop offset="0.7551" stop-color="#db503b"/><stop offset="0.8416" stop-color="#cf4446"/><stop offset="0.9979" stop-color="#9a2865"/></linearGradient><linearGradient id="g86" gradientUnits="userSpaceOnUse" x1="56.10" y1="0" x2="299.30" y2="0"><stop offset="0.0021" stop-color="#c63d4d"/><stop offset="0.4342" stop-color="#d84c3e"/><stop offset="0.6687" stop-color="#e15635"/><stop offset="0.7551" stop-color="#df5337"/><stop offset="0.8539" stop-color="#d34743"/><stop offset="0.9979" stop-color="#ab2f5e"/></linearGradient><linearGradient id="g87" gradientUnits="userSpaceOnUse" x1="56.10" y1="0" x2="299.30" y2="0"><stop offset="0.0021" stop-color="#c63d4d"/><stop offset="0.4465" stop-color="#d94d3d"/><stop offset="0.6934" stop-color="#e35933"/><stop offset="0.7798" stop-color="#e05536"/><stop offset="0.8663" stop-color="#d74b3f"/><stop offset="0.9979" stop-color="#bc3754"/></linearGradient><linearGradient id="g88" gradientUnits="userSpaceOnUse" x1="56.10" y1="0" x2="299.30" y2="0"><stop offset="0.0021" stop-color="#c73e4c"/><stop offset="0.5082" stop-color="#dd513a"/><stop offset="0.7181" stop-color="#e45a31"/><stop offset="0.8292" stop-color="#e05536"/><stop offset="0.9280" stop-color="#d44842"/><stop offset="0.9979" stop-color="#ca404a"/></linearGradient><linearGradient id="g89" gradientUnits="userSpaceOnUse" x1="56.10" y1="0" x2="299.30" y2="0"><stop offset="0.0021" stop-color="#c73e4c"/><stop offset="0.5947" stop-color="#e15635"/><stop offset="0.7428" stop-color="#e65d2f"/><stop offset="0.8786" stop-color="#e15635"/><stop offset="0.9979" stop-color="#d74b3f"/></linearGradient><linearGradient id="g90" gradientUnits="userSpaceOnUse" x1="56.10" y1="0" x2="299.30" y2="0"><stop offset="0.0021" stop-color="#c73e4c"/><stop offset="0.5823" stop-color="#e15635"/><stop offset="0.7428" stop-color="#e8602d"/><stop offset="0.8909" stop-color="#e65d2f"/><stop offset="0.9979" stop-color="#e25734"/></linearGradient><linearGradient id="g91" gradientUnits="userSpaceOnUse" x1="56.10" y1="0" x2="299.30" y2="0"><stop offset="0.0021" stop-color="#c73e4c"/><stop offset="0.5576" stop-color="#e05536"/><stop offset="0.7551" stop-color="#ea632a"/><stop offset="0.9527" stop-color="#eb6429"/><stop offset="0.9979" stop-color="#eb6429"/></linearGradient><linearGradient id="g92" gradientUnits="userSpaceOnUse" x1="56.10" y1="0" x2="299.30" y2="0"><stop offset="0.0021" stop-color="#c83f4b"/><stop offset="0.5453" stop-color="#e05536"/><stop offset="0.7798" stop-color="#ec6726"/><stop offset="0.9979" stop-color="#f1731d"/></linearGradient><linearGradient id="g93" gradientUnits="userSpaceOnUse" x1="56.10" y1="0" x2="299.30" y2="0"><stop offset="0.0021" stop-color="#c83f4b"/><stop offset="0.4835" stop-color="#de5238"/><stop offset="0.8292" stop-color="#f06f20"/><stop offset="0.9979" stop-color="#f57d15"/></linearGradient><linearGradient id="g94" gradientUnits="userSpaceOnUse" x1="56.10" y1="0" x2="299.30" y2="0"><stop offset="0.0021" stop-color="#c83f4b"/><stop offset="0.2737" stop-color="#d74b3f"/><stop offset="0.5329" stop-color="#e35933"/><stop offset="0.8045" stop-color="#f1731d"/><stop offset="0.9979" stop-color="#f78410"/></linearGradient><linearGradient id="g95" gradientUnits="userSpaceOnUse" x1="56.10" y1="0" x2="299.30" y2="0"><stop offset="0.0021" stop-color="#c83f4b"/><stop offset="0.2119" stop-color="#d44842"/><stop offset="0.5329" stop-color="#e55c30"/><stop offset="0.7675" stop-color="#f2741c"/><stop offset="0.9979" stop-color="#f98b0b"/></linearGradient><linearGradient id="g96" gradientUnits="userSpaceOnUse" x1="56.10" y1="0" x2="299.30" y2="0"><stop offset="0.0021" stop-color="#c83f4b"/><stop offset="0.1872" stop-color="#d44842"/><stop offset="0.5206" stop-color="#e75e2e"/><stop offset="0.7181" stop-color="#f3761b"/><stop offset="0.9979" stop-color="#fa9008"/></linearGradient><linearGradient id="g97" gradientUnits="userSpaceOnUse" x1="56.10" y1="0" x2="299.30" y2="0"><stop offset="0.0021" stop-color="#ca404a"/><stop offset="0.1749" stop-color="#d44842"/><stop offset="0.5206" stop-color="#e9612b"/><stop offset="0.6934" stop-color="#f37819"/><stop offset="0.9897" stop-color="#fb9706"/><stop offset="0.9979" stop-color="#fb9706"/></linearGradient><linearGradient id="g98" gradientUnits="userSpaceOnUse" x1="56.10" y1="0" x2="299.30" y2="0"><stop offset="0.0021" stop-color="#ca404a"/><stop offset="0.1749" stop-color="#d44842"/><stop offset="0.5206" stop-color="#eb6429"/><stop offset="0.6811" stop-color="#f57d15"/><stop offset="0.9527" stop-color="#fb9906"/><stop offset="0.9979" stop-color="#fb9d07"/></linearGradient><linearGradient id="g99" gradientUnits="userSpaceOnUse" x1="56.10" y1="0" x2="299.30" y2="0"><stop offset="0.0021" stop-color="#ca404a"/><stop offset="0.1626" stop-color="#d44842"/><stop offset="0.5206" stop-color="#ed6925"/><stop offset="0.6687" stop-color="#f68013"/><stop offset="0.9280" stop-color="#fb9d07"/><stop offset="0.9979" stop-color="#fca50a"/></linearGradient><linearGradient id="g100" gradientUnits="userSpaceOnUse" x1="56.10" y1="0" x2="299.30" y2="0"><stop offset="0.0021" stop-color="#ca404a"/><stop offset="0.1626" stop-color="#d54a41"/><stop offset="0.5329" stop-color="#f06f20"/><stop offset="0.6687" stop-color="#f8850f"/><stop offset="0.9156" stop-color="#fca309"/><stop offset="0.9979" stop-color="#fcaa0f"/></linearGradient><linearGradient id="g101" gradientUnits="userSpaceOnUse" x1="56.10" y1="0" x2="299.30" y2="0"><stop offset="0.0021" stop-color="#cb4149"/><stop offset="0.1626" stop-color="#d74b3f"/><stop offset="0.5453" stop-color="#f37819"/><stop offset="0.6811" stop-color="#f98c0a"/><stop offset="0.8909" stop-color="#fca60c"/><stop offset="0.9979" stop-color="#fcb216"/></linearGradient><linearGradient id="g102" gradientUnits="userSpaceOnUse" x1="56.10" y1="0" x2="299.30" y2="0"><stop offset="0.0021" stop-color="#cb4149"/><stop offset="0.1626" stop-color="#d74b3f"/><stop offset="0.5700" stop-color="#f68013"/><stop offset="0.8292" stop-color="#fca60c"/><stop offset="0.9979" stop-color="#fbb81d"/></linearGradient><linearGradient id="g103" gradientUnits="userSpaceOnUse" x1="56.10" y1="0" x2="299.30" y2="0"><stop offset="0.0021" stop-color="#cb4149"/><stop offset="0.1626" stop-color="#d84c3e"/><stop offset="0.6687" stop-color="#fb9606"/><stop offset="0.8416" stop-color="#fcb014"/><stop offset="0.9979" stop-color="#fac026"/></linearGradient><linearGradient id="g104" gradientUnits="userSpaceOnUse" x1="56.10" y1="0" x2="299.30" y2="0"><stop offset="0.0021" stop-color="#cb4149"/><stop offset="0.1626" stop-color="#d94d3d"/><stop offset="0.6564" stop-color="#fb9906"/><stop offset="0.8416" stop-color="#fbb61a"/><stop offset="0.9979" stop-color="#fac62d"/></linearGradient><linearGradient id="g105" gradientUnits="userSpaceOnUse" x1="56.10" y1="0" x2="299.30" y2="0"><stop offset="0.0021" stop-color="#cb4149"/><stop offset="0.1626" stop-color="#da4e3c"/><stop offset="0.6564" stop-color="#fb9d07"/><stop offset="0.8292" stop-color="#fbba1f"/><stop offset="0.9979" stop-color="#f9c932"/></linearGradient><linearGradient id="g106" gradientUnits="userSpaceOnUse" x1="56.10" y1="0" x2="299.30" y2="0"><stop offset="0.0021" stop-color="#cc4248"/><stop offset="0.1749" stop-color="#dd513a"/><stop offset="0.6440" stop-color="#fca108"/><stop offset="0.8416" stop-color="#fac026"/><stop offset="0.9979" stop-color="#f8cd37"/></linearGradient><linearGradient id="g107" gradientUnits="userSpaceOnUse" x1="56.10" y1="0" x2="299.30" y2="0"><stop offset="0.0021" stop-color="#cc4248"/><stop offset="0.1749" stop-color="#de5238"/><stop offset="0.6193" stop-color="#fca108"/><stop offset="0.8416" stop-color="#fac42a"/><stop offset="0.9979" stop-color="#f7d13d"/></linearGradient><linearGradient id="g108" gradientUnits="userSpaceOnUse" x1="56.10" y1="0" x2="299.30" y2="0"><stop offset="0.0021" stop-color="#cc4248"/><stop offset="0.1749" stop-color="#df5337"/><stop offset="0.5947" stop-color="#fca108"/><stop offset="0.8416" stop-color="#f9c72f"/><stop offset="0.9979" stop-color="#f6d543"/></linearGradient><linearGradient id="g109" gradientUnits="userSpaceOnUse" x1="56.10" y1="0" x2="299.30" y2="0"><stop offset="0.0021" stop-color="#cc4248"/><stop offset="0.1749" stop-color="#e05536"/><stop offset="0.5576" stop-color="#fc9f07"/><stop offset="0.6811" stop-color="#fcb216"/><stop offset="0.8416" stop-color="#f9cb35"/><stop offset="0.9979" stop-color="#f5db4c"/></linearGradient><linearGradient id="g110" gradientUnits="userSpaceOnUse" x1="56.10" y1="0" x2="299.30" y2="0"><stop offset="0.0021" stop-color="#cc4248"/><stop offset="0.1749" stop-color="#e05536"/><stop offset="0.5453" stop-color="#fca108"/><stop offset="0.6811" stop-color="#fbb81d"/><stop offset="0.8539" stop-color="#f8cf3a"/><stop offset="0.9979" stop-color="#f4df53"/></linearGradient><linearGradient id="g111" gradientUnits="userSpaceOnUse" x1="56.10" y1="0" x2="299.30" y2="0"><stop offset="0.0021" stop-color="#cc4248"/><stop offset="0.1872" stop-color="#e35933"/><stop offset="0.5329" stop-color="#fca309"/><stop offset="0.6687" stop-color="#fbba1f"/><stop offset="0.8539" stop-color="#f7d340"/><stop offset="0.9979" stop-color="#f3e35a"/></linearGradient><linearGradient id="g112" gradientUnits="userSpaceOnUse" x1="56.10" y1="0" x2="299.30" y2="0"><stop offset="0.0021" stop-color="#ce4347"/><stop offset="0.1872" stop-color="#e45a31"/><stop offset="0.3601" stop-color="#f67e14"/><stop offset="0.5453" stop-color="#fca80d"/><stop offset="0.6811" stop-color="#fac026"/><stop offset="0.8663" stop-color="#f5d949"/><stop offset="0.9979" stop-color="#f3e55d"/></linearGradient><linearGradient id="g113" gradientUnits="userSpaceOnUse" x1="56.10" y1="0" x2="299.30" y2="0"><stop offset="0.0021" stop-color="#ce4347"/><stop offset="0.1872" stop-color="#e45a31"/><stop offset="0.3477" stop-color="#f57d15"/><stop offset="0.5329" stop-color="#fca80d"/><stop offset="0.6687" stop-color="#fac026"/><stop offset="0.7922" stop-color="#f7d13d"/><stop offset="0.9979" stop-color="#f2e661"/></linearGradient><linearGradient id="cb0" x1="0" y1="0" x2="0" y2="1"><stop offset="0.0000" stop-color="#f2e661"/><stop offset="0.0179" stop-color="#f4dd4f"/><stop offset="0.0357" stop-color="#f6d543"/><stop offset="0.0536" stop-color="#f8cd37"/><stop offset="0.0714" stop-color="#fac62d"/><stop offset="0.0893" stop-color="#fbbc21"/><stop offset="0.1071" stop-color="#fcb418"/><stop offset="0.1250" stop-color="#fcac11"/><stop offset="0.1429" stop-color="#fca50a"/><stop offset="0.1607" stop-color="#fb9b06"/><stop offset="0.1786" stop-color="#fa9407"/><stop offset="0.1964" stop-color="#f98c0a"/><stop offset="0.2143" stop-color="#f8850f"/><stop offset="0.2321" stop-color="#f57d15"/><stop offset="0.2500" stop-color="#f3761b"/><stop offset="0.2679" stop-color="#f06f20"/><stop offset="0.2857" stop-color="#ed6925"/><stop offset="0.3036" stop-color="#e9612b"/><stop offset="0.3214" stop-color="#e55c30"/><stop offset="0.3393" stop-color="#e15635"/><stop offset="0.3571" stop-color="#dd513a"/><stop offset="0.3750" stop-color="#d74b3f"/><stop offset="0.3929" stop-color="#d24644"/><stop offset="0.4107" stop-color="#cc4248"/><stop offset="0.4286" stop-color="#c73e4c"/><stop offset="0.4464" stop-color="#c03a51"/><stop offset="0.4643" stop-color="#ba3655"/><stop offset="0.4821" stop-color="#b43359"/><stop offset="0.5000" stop-color="#ae305c"/><stop offset="0.5179" stop-color="#a62d60"/><stop offset="0.5357" stop-color="#a02a63"/><stop offset="0.5536" stop-color="#9a2865"/><stop offset="0.5714" stop-color="#932667"/><stop offset="0.5893" stop-color="#8c2369"/><stop offset="0.6071" stop-color="#85216b"/><stop offset="0.6250" stop-color="#7f1e6c"/><stop offset="0.6429" stop-color="#781c6d"/><stop offset="0.6607" stop-color="#71196e"/><stop offset="0.6786" stop-color="#6a176e"/><stop offset="0.6964" stop-color="#64156e"/><stop offset="0.7143" stop-color="#5d126e"/><stop offset="0.7321" stop-color="#550f6d"/><stop offset="0.7500" stop-color="#4f0d6c"/><stop offset="0.7679" stop-color="#490b6a"/><stop offset="0.7857" stop-color="#420a68"/><stop offset="0.8036" stop-color="#390963"/><stop offset="0.8214" stop-color="#320a5e"/><stop offset="0.8393" stop-color="#2b0b57"/><stop offset="0.8571" stop-color="#240c4f"/><stop offset="0.8750" stop-color="#1c0c43"/><stop offset="0.8929" stop-color="#160b39"/><stop offset="0.9107" stop-color="#110a30"/><stop offset="0.9286" stop-color="#0c0826"/><stop offset="0.9464" stop-color="#07051b"/><stop offset="0.9643" stop-color="#040312"/><stop offset="0.9821" stop-color="#02010a"/><stop offset="1.0000" stop-color="#000004"/></linearGradient><clipPath id="clip115"><rect x="452.10" y="364.00" width="243.20" height="225.30"/></clipPath><linearGradient id="g116" gradientUnits="userSpaceOnUse" x1="452.10" y1="0" x2="695.30" y2="0"><stop offset="0.0021" stop-color="#6a176e"/><stop offset="0.2119" stop-color="#61136e"/><stop offset="0.4465" stop-color="#4f0d6c"/><stop offset="0.5206" stop-color="#450a69"/><stop offset="0.6193" stop-color="#310a5c"/><stop offset="0.7181" stop-color="#09061f"/><stop offset="0.7675" stop-color="#010005"/><stop offset="0.7922" stop-color="#000004"/><stop offset="0.9979" stop-color="#000004"/></linearGradient><linearGradient id="g117" gradientUnits="userSpaceOnUse" x1="452.10" y1="0" x2="695.30" y2="0"><stop offset="0.0021" stop-color="#6a176e"/><stop offset="0.2119" stop-color="#61136e"/><stop offset="0.4465" stop-color="#4f0d6c"/><stop offset="0.5329" stop-color="#440a68"/><stop offset="0.6193" stop-color="#310a5c"/><stop offset="0.7181" stop-color="#09061f"/><stop offset="0.7675" stop-color="#010106"/><stop offset="0.7922" stop-color="#000004"/><stop offset="0.9979" stop-color="#000004"/></linearGradient><linearGradient id="g118" gradientUnits="userSpaceOnUse" x1="452.10" y1="0" x2="695.30" y2="0"><stop offset="0.0021" stop-color="#6c186e"/><stop offset="0.2119" stop-color="#62146e"/><stop offset="0.4465" stop-color="#510e6c"/><stop offset="0.5329" stop-color="#440a68"/><stop offset="0.6193" stop-color="#320a5e"/><stop offset="0.7181" stop-color="#0a0722"/><stop offset="0.7675" stop-color="#010106"/><stop offset="0.7922" stop-color="#000004"/><stop offset="0.9979" stop-color="#000004"/></linearGradient><linearGradient id="g119" gradientUnits="userSpaceOnUse" x1="452.10" y1="0" x2="695.30" y2="0"><stop offset="0.0021" stop-color="#6c186e"/><stop offset="0.2119" stop-color="#62146e"/><stop offset="0.4465" stop-color="#510e6c"/><stop offset="0.5329" stop-color="#450a69"/><stop offset="0.6193" stop-color="#320a5e"/><stop offset="0.7181" stop-color="#0a0722"/><stop offset="0.7675" stop-color="#010106"/><stop offset="0.7922" stop-color="#000004"/><stop offset="0.9979" stop-color="#000004"/></linearGradient><linearGradient id="g120" gradientUnits="userSpaceOnUse" x1="452.10" y1="0" x2="695.30" y2="0"><stop offset="0.0021" stop-color="#6c186e"/><stop offset="0.2119" stop-color="#62146e"/><stop offset="0.4465" stop-color="#510e6c"/><stop offset="0.5329" stop-color="#450a69"/><stop offset="0.6193" stop-color="#320a5e"/><stop offset="0.7181" stop-color="#0b0724"/><stop offset="0.7675" stop-color="#010106"/><stop offset="0.7922" stop-color="#000004"/><stop offset="0.9979" stop-color="#000004"/></linearGradient><linearGradient id="g121" gradientUnits="userSpaceOnUse" x1="452.10" y1="0" x2="695.30" y2="0"><stop offset="0.0021" stop-color="#6c186e"/><stop offset="0.2119" stop-color="#62146e"/><stop offset="0.4465" stop-color="#510e6c"/><stop offset="0.5329" stop-color="#450a69"/><stop offset="0.6193" stop-color="#340a5f"/><stop offset="0.7428" stop-color="#040314"/><stop offset="0.7798" stop-color="#000004"/><stop offset="0.9979" stop-color="#000004"/></linearGradient><linearGradient id="g122" gradientUnits="userSpaceOnUse" x1="452.10" y1="0" x2="695.30" y2="0"><stop offset="0.0021" stop-color="#6c186e"/><stop offset="0.2119" stop-color="#62146e"/><stop offset="0.4465" stop-color="#510e6c"/><stop offset="0.5329" stop-color="#450a69"/><stop offset="0.6193" stop-color="#340a5f"/><stop offset="0.7305" stop-color="#09061f"/><stop offset="0.7675" stop-color="#010106"/><stop offset="0.7922" stop-color="#000004"/><stop offset="0.9979" stop-color="#000004"/></linearGradient><linearGradient id="g123" gradientUnits="userSpaceOnUse" x1="452.10" y1="0" x2="695.30" y2="0"><stop offset="0.0021" stop-color="#6c186e"/><stop offset="0.2119" stop-color="#62146e"/><stop offset="0.4465" stop-color="#510e6c"/><stop offset="0.5329" stop-color="#450a69"/><stop offset="0.6193" stop-color="#340a5f"/><stop offset="0.7305" stop-color="#09061f"/><stop offset="0.7675" stop-color="#010106"/><stop offset="0.7922" stop-color="#000004"/><stop offset="0.9979" stop-color="#000004"/></linearGradient><linearGradient id="g124" gradientUnits="userSpaceOnUse" x1="452.10" y1="0" x2="695.30" y2="0"><stop offset="0.0021" stop-color="#6d186e"/><stop offset="0.2119" stop-color="#64156e"/><stop offset="0.4465" stop-color="#520e6d"/><stop offset="0.5329" stop-color="#470b6a"/><stop offset="0.6193" stop-color="#360961"/><stop offset="0.7305" stop-color="#0a0722"/><stop offset="0.7675" stop-color="#010106"/><stop offset="0.7798" stop-color="#000004"/><stop offset="0.9979" stop-color="#000004"/></linearGradient><linearGradient id="g125" gradientUnits="userSpaceOnUse" x1="452.10" y1="0" x2="695.30" y2="0"><stop offset="0.0021" stop-color="#6d186e"/><stop offset="0.2119" stop-color="#64156e"/><stop offset="0.4465" stop-color="#520e6d"/><stop offset="0.5329" stop-color="#470b6a"/><stop offset="0.6193" stop-color="#360961"/><stop offset="0.7305" stop-color="#0a0722"/><stop offset="0.7675" stop-color="#010108"/><stop offset="0.7798" stop-color="#000004"/><stop offset="0.9979" stop-color="#000004"/></linearGradient><linearGradient id="g126" gradientUnits="userSpaceOnUse" x1="452.10" y1="0" x2="695.30" y2="0"><stop offset="0.0021" stop-color="#6d186e"/><stop offset="0.2119" stop-color="#64156e"/><stop offset="0.4465" stop-color="#520e6d"/><stop offset="0.5453" stop-color="#450a69"/><stop offset="0.6317" stop-color="#320a5e"/><stop offset="0.7305" stop-color="#0b0724"/><stop offset="0.7675" stop-color="#010108"/><stop offset="0.7798" stop-color="#000004"/><stop offset="0.9979" stop-color="#000004"/></linearGradient><linearGradient id="g127" gradientUnits="userSpaceOnUse" x1="452.10" y1="0" x2="695.30" y2="0"><stop offset="0.0021" stop-color="#6d186e"/><stop offset="0.2119" stop-color="#64156e"/><stop offset="0.4465" stop-color="#520e6d"/><stop offset="0.5453" stop-color="#450a69"/><stop offset="0.6317" stop-color="#320a5e"/><stop offset="0.7305" stop-color="#0b0724"/><stop offset="0.7675" stop-color="#010108"/><stop offset="0.7798" stop-color="#000004"/><stop offset="0.9979" stop-color="#000004"/></linearGradient><linearGradient id="g128" gradientUnits="userSpaceOnUse" x1="452.10" y1="0" x2="695.30" y2="0"><stop offset="0.0021" stop-color="#6d186e"/><stop offset="0.2119" stop-color="#64156e"/><stop offset="0.4465" stop-color="#520e6d"/><stop offset="0.5453" stop-color="#450a69"/><stop offset="0.6317" stop-color="#340a5f"/><stop offset="0.7305" stop-color="#0b0724"/><stop offset="0.7675" stop-color="#010108"/><stop offset="0.7798" stop-color="#000004"/><stop offset="0.9979" stop-color="#000004"/></linearGradient><linearGradient id="g129" gradientUnits="userSpaceOnUse" x1="452.10" y1="0" x2="695.30" y2="0"><stop offset="0.0021" stop-color="#6f196e"/><stop offset="0.2119" stop-color="#65156e"/><stop offset="0.4465" stop-color="#520e6d"/><stop offset="0.5453" stop-color="#450a69"/><stop offset="0.6317" stop-color="#340a5f"/><stop offset="0.7305" stop-color="#0c0826"/><stop offset="0.7675" stop-color="#010108"/><stop offset="0.7798" stop-color="#000004"/><stop offset="0.9979" stop-color="#000004"/></linearGradient><linearGradient id="g130" gradientUnits="userSpaceOnUse" x1="452.10" y1="0" x2="695.30" y2="0"><stop offset="0.0021" stop-color="#6f196e"/><stop offset="0.2119" stop-color="#65156e"/><stop offset="0.4465" stop-color="#540f6d"/><stop offset="0.5576" stop-color="#440a68"/><stop offset="0.6317" stop-color="#360961"/><stop offset="0.7305" stop-color="#0c0826"/><stop offset="0.7675" stop-color="#010108"/><stop offset="0.7798" stop-color="#000004"/><stop offset="0.9979" stop-color="#000004"/></linearGradient><linearGradient id="g131" gradientUnits="userSpaceOnUse" x1="452.10" y1="0" x2="695.30" y2="0"><stop offset="0.0021" stop-color="#6f196e"/><stop offset="0.2119" stop-color="#65156e"/><stop offset="0.4465" stop-color="#540f6d"/><stop offset="0.5576" stop-color="#450a69"/><stop offset="0.6317" stop-color="#360961"/><stop offset="0.7305" stop-color="#0d0829"/><stop offset="0.7675" stop-color="#02010a"/><stop offset="0.7798" stop-color="#000004"/><stop offset="0.9979" stop-color="#000004"/></linearGradient><linearGradient id="g132" gradientUnits="userSpaceOnUse" x1="452.10" y1="0" x2="695.30" y2="0"><stop offset="0.0021" stop-color="#6f196e"/><stop offset="0.2243" stop-color="#65156e"/><stop offset="0.4465" stop-color="#540f6d"/><stop offset="0.5576" stop-color="#450a69"/><stop offset="0.6317" stop-color="#380962"/><stop offset="0.7305" stop-color="#0e092b"/><stop offset="0.7675" stop-color="#02010a"/><stop offset="0.7798" stop-color="#000004"/><stop offset="0.9979" stop-color="#000004"/></linearGradient><linearGradient id="g133" gradientUnits="userSpaceOnUse" x1="452.10" y1="0" x2="695.30" y2="0"><stop offset="0.0021" stop-color="#6f196e"/><stop offset="0.2490" stop-color="#64156e"/><stop offset="0.4588" stop-color="#540f6d"/><stop offset="0.6070" stop-color="#3e0966"/><stop offset="0.6440" stop-color="#320a5e"/><stop offset="0.7305" stop-color="#10092d"/><stop offset="0.7675" stop-color="#02010a"/><stop offset="0.7798" stop-color="#010005"/><stop offset="0.9979" stop-color="#000004"/></linearGradient><linearGradient id="g134" gradientUnits="userSpaceOnUse" x1="452.10" y1="0" x2="695.30" y2="0"><stop offset="0.0021" stop-color="#6f196e"/><stop offset="0.2613" stop-color="#64156e"/><stop offset="0.4712" stop-color="#520e6d"/><stop offset="0.6193" stop-color="#3d0965"/><stop offset="0.7305" stop-color="#110a30"/><stop offset="0.7675" stop-color="#02020c"/><stop offset="0.7798" stop-color="#010005"/><stop offset="0.8169" stop-color="#000004"/><stop offset="0.9979" stop-color="#000004"/></linearGradient><linearGradient id="g135" gradientUnits="userSpaceOnUse" x1="452.10" y1="0" x2="695.30" y2="0"><stop offset="0.0021" stop-color="#71196e"/><stop offset="0.2737" stop-color="#64156e"/><stop offset="0.4835" stop-color="#520e6d"/><stop offset="0.6317" stop-color="#390963"/><stop offset="0.7305" stop-color="#120a32"/><stop offset="0.7675" stop-color="#02020c"/><stop offset="0.7798" stop-color="#010005"/><stop offset="0.8045" stop-color="#000004"/><stop offset="0.9979" stop-color="#000004"/></linearGradient><linearGradient id="g136" gradientUnits="userSpaceOnUse" x1="452.10" y1="0" x2="695.30" y2="0"><stop offset="0.0021" stop-color="#71196e"/><stop offset="0.2860" stop-color="#64156e"/><stop offset="0.4959" stop-color="#520e6d"/><stop offset="0.6317" stop-color="#3b0964"/><stop offset="0.7305" stop-color="#140b34"/><stop offset="0.7798" stop-color="#010005"/><stop offset="0.7922" stop-color="#000004"/><stop offset="0.9979" stop-color="#000004"/></linearGradient><linearGradient id="g137" gradientUnits="userSpaceOnUse" x1="452.10" y1="0" x2="695.30" y2="0"><stop offset="0.0021" stop-color="#71196e"/><stop offset="0.2984" stop-color="#64156e"/><stop offset="0.4959" stop-color="#520e6d"/><stop offset="0.6317" stop-color="#3b0964"/><stop offset="0.7305" stop-color="#150b37"/><stop offset="0.7428" stop-color="#0e092b"/><stop offset="0.7675" stop-color="#02020e"/><stop offset="0.7798" stop-color="#010005"/><stop offset="0.7922" stop-color="#000004"/><stop offset="0.9979" stop-color="#000004"/></linearGradient><linearGradient id="g138" gradientUnits="userSpaceOnUse" x1="452.10" y1="0" x2="695.30" y2="0"><stop offset="0.0021" stop-color="#71196e"/><stop offset="0.3107" stop-color="#62146e"/><stop offset="0.5082" stop-color="#510e6c"/><stop offset="0.6317" stop-color="#3d0965"/><stop offset="0.7305" stop-color="#160b39"/><stop offset="0.7428" stop-color="#10092d"/><stop offset="0.7675" stop-color="#02020e"/><stop offset="0.7798" stop-color="#010005"/><stop offset="0.7922" stop-color="#000004"/><stop offset="0.9979" stop-color="#000004"/></linearGradient><linearGradient id="g139" gradientUnits="userSpaceOnUse" x1="452.10" y1="0" x2="695.30" y2="0"><stop offset="0.0021" stop-color="#71196e"/><stop offset="0.3230" stop-color="#62146e"/><stop offset="0.5206" stop-color="#510e6c"/><stop offset="0.6317" stop-color="#3e0966"/><stop offset="0.7305" stop-color="#180c3c"/><stop offset="0.7428" stop-color="#110a30"/><stop offset="0.7675" stop-color="#030210"/><stop offset="0.7798" stop-color="#010005"/><stop offset="0.7922" stop-color="#000004"/><stop offset="0.9979" stop-color="#000004"/></linearGradient><linearGradient id="g140" gradientUnits="userSpaceOnUse" x1="452.10" y1="0" x2="695.30" y2="0"><stop offset="0.0021" stop-color="#71196e"/><stop offset="0.3230" stop-color="#64156e"/><stop offset="0.5329" stop-color="#4f0d6c"/><stop offset="0.6317" stop-color="#3e0966"/><stop offset="0.7305" stop-color="#190c3e"/><stop offset="0.7428" stop-color="#120a32"/><stop offset="0.7675" stop-color="#030210"/><stop offset="0.7798" stop-color="#010005"/><stop offset="0.7922" stop-color="#000004"/><stop offset="0.9979" stop-color="#000004"/></linearGradient><linearGradient id="g141" gradientUnits="userSpaceOnUse" x1="452.10" y1="0" x2="695.30" y2="0"><stop offset="0.0021" stop-color="#721a6e"/><stop offset="0.3230" stop-color="#64156e"/><stop offset="0.5329" stop-color="#4f0d6c"/><stop offset="0.6317" stop-color="#400a67"/><stop offset="0.7181" stop-color="#210c4a"/><stop offset="0.7305" stop-color="#1b0c41"/><stop offset="0.7428" stop-color="#140b34"/><stop offset="0.7675" stop-color="#040312"/><stop offset="0.7798" stop-color="#010106"/><stop offset="0.7922" stop-color="#000004"/><stop offset="0.9979" stop-color="#000004"/></linearGradient><linearGradient id="g142" gradientUnits="userSpaceOnUse" x1="452.10" y1="0" x2="695.30" y2="0"><stop offset="0.0021" stop-color="#721a6e"/><stop offset="0.3230" stop-color="#64156e"/><stop offset="0.5329" stop-color="#510e6c"/><stop offset="0.6317" stop-color="#400a67"/><stop offset="0.7181" stop-color="#230c4c"/><stop offset="0.7305" stop-color="#1c0c43"/><stop offset="0.7428" stop-color="#150b37"/><stop offset="0.7675" stop-color="#040312"/><stop offset="0.7798" stop-color="#010106"/><stop offset="0.7922" stop-color="#000004"/><stop offset="0.9979" stop-color="#000004"/></linearGradient><linearGradient id="g143" gradientUnits="userSpaceOnUse" x1="452.10" y1="0" x2="695.30" y2="0"><stop offset="0.0021" stop-color="#721a6e"/><stop offset="0.3107" stop-color="#65156e"/><stop offset="0.5206" stop-color="#520e6d"/><stop offset="0.6317" stop-color="#420a68"/><stop offset="0.7181" stop-color="#240c4f"/><stop offset="0.7305" stop-color="#1e0c45"/><stop offset="0.7428" stop-color="#160b39"/><stop offset="0.7675" stop-color="#040314"/><stop offset="0.7798" stop-color="#010106"/><stop offset="0.7922" stop-color="#000004"/><stop offset="0.9979" stop-color="#000004"/></linearGradient><linearGradient id="g144" gradientUnits="userSpaceOnUse" x1="452.10" y1="0" x2="695.30" y2="0"><stop offset="0.0021" stop-color="#721a6e"/><stop offset="0.3107" stop-color="#65156e"/><stop offset="0.5206" stop-color="#520e6d"/><stop offset="0.6317" stop-color="#420a68"/><stop offset="0.7181" stop-color="#260c51"/><stop offset="0.7305" stop-color="#1f0c48"/><stop offset="0.7428" stop-color="#180c3c"/><stop offset="0.7675" stop-color="#040314"/><stop offset="0.7798" stop-color="#010108"/><stop offset="0.7922" stop-color="#000004"/><stop offset="0.9979" stop-color="#000004"/></linearGradient><linearGradient id="g145" gradientUnits="userSpaceOnUse" x1="452.10" y1="0" x2="695.30" y2="0"><stop offset="0.0021" stop-color="#721a6e"/><stop offset="0.3107" stop-color="#67166e"/><stop offset="0.5206" stop-color="#540f6d"/><stop offset="0.6317" stop-color="#440a68"/><stop offset="0.7181" stop-color="#280b53"/><stop offset="0.7305" stop-color="#210c4a"/><stop offset="0.7428" stop-color="#190c3e"/><stop offset="0.7798" stop-color="#010108"/><stop offset="0.7922" stop-color="#000004"/><stop offset="0.9979" stop-color="#000004"/></linearGradient><linearGradient id="g146" gradientUnits="userSpaceOnUse" x1="452.10" y1="0" x2="695.30" y2="0"><stop offset="0.0021" stop-color="#721a6e"/><stop offset="0.3107" stop-color="#67166e"/><stop offset="0.5206" stop-color="#540f6d"/><stop offset="0.6317" stop-color="#450a69"/><stop offset="0.7181" stop-color="#290b55"/><stop offset="0.7305" stop-color="#230c4c"/><stop offset="0.7428" stop-color="#1b0c41"/><stop offset="0.7798" stop-color="#02010a"/><stop offset="0.7922" stop-color="#000004"/><stop offset="0.9979" stop-color="#000004"/></linearGradient><linearGradient id="g147" gradientUnits="userSpaceOnUse" x1="452.10" y1="0" x2="695.30" y2="0"><stop offset="0.0021" stop-color="#741a6e"/><stop offset="0.3107" stop-color="#67166e"/><stop offset="0.5329" stop-color="#540f6d"/><stop offset="0.6317" stop-color="#450a69"/><stop offset="0.7181" stop-color="#2b0b57"/><stop offset="0.7305" stop-color="#240c4f"/><stop offset="0.7428" stop-color="#1c0c43"/><stop offset="0.7798" stop-color="#02010a"/><stop offset="0.7922" stop-color="#000004"/><stop offset="0.9979" stop-color="#000004"/></linearGradient><linearGradient id="g148" gradientUnits="userSpaceOnUse" x1="452.10" y1="0" x2="695.30" y2="0"><stop offset="0.0021" stop-color="#741a6e"/><stop offset="0.2984" stop-color="#69166e"/><stop offset="0.5206" stop-color="#550f6d"/><stop offset="0.6317" stop-color="#470b6a"/><stop offset="0.7181" stop-color="#2b0b57"/><stop offset="0.7305" stop-color="#260c51"/><stop offset="0.7428" stop-color="#1e0c45"/><stop offset="0.7798" stop-color="#02020c"/><stop offset="0.7922" stop-color="#000004"/><stop offset="0.9979" stop-color="#000004"/></linearGradient><linearGradient id="g149" gradientUnits="userSpaceOnUse" x1="452.10" y1="0" x2="695.30" y2="0"><stop offset="0.0021" stop-color="#741a6e"/><stop offset="0.2984" stop-color="#6a176e"/><stop offset="0.5329" stop-color="#550f6d"/><stop offset="0.6317" stop-color="#490b6a"/><stop offset="0.7181" stop-color="#2d0b59"/><stop offset="0.7305" stop-color="#280b53"/><stop offset="0.7428" stop-color="#1f0c48"/><stop offset="0.7798" stop-color="#02020c"/><stop offset="0.7922" stop-color="#000004"/><stop offset="0.9979" stop-color="#000004"/></linearGradient><linearGradient id="g150" gradientUnits="userSpaceOnUse" x1="452.10" y1="0" x2="695.30" y2="0"><stop offset="0.0021" stop-color="#741a6e"/><stop offset="0.2984" stop-color="#6a176e"/><stop offset="0.5453" stop-color="#550f6d"/><stop offset="0.6317" stop-color="#490b6a"/><stop offset="0.7181" stop-color="#2f0a5b"/><stop offset="0.7305" stop-color="#290b55"/><stop offset="0.7428" stop-color="#230c4c"/><stop offset="0.7798" stop-color="#02020e"/><stop offset="0.7922" stop-color="#000004"/><stop offset="0.9979" stop-color="#000004"/></linearGradient><linearGradient id="g151" gradientUnits="userSpaceOnUse" x1="452.10" y1="0" x2="695.30" y2="0"><stop offset="0.0021" stop-color="#741a6e"/><stop offset="0.2984" stop-color="#6a176e"/><stop offset="0.5453" stop-color="#550f6d"/><stop offset="0.6317" stop-color="#4a0c6b"/><stop offset="0.7181" stop-color="#310a5c"/><stop offset="0.7305" stop-color="#2b0b57"/><stop offset="0.7428" stop-color="#240c4f"/><stop offset="0.7798" stop-color="#030210"/><stop offset="0.7922" stop-color="#000004"/><stop offset="0.9979" stop-color="#000004"/></linearGradient><linearGradient id="g152" gradientUnits="userSpaceOnUse" x1="452.10" y1="0" x2="695.30" y2="0"><stop offset="0.0021" stop-color="#741a6e"/><stop offset="0.2984" stop-color="#6c186e"/><stop offset="0.5453" stop-color="#57106e"/><stop offset="0.6317" stop-color="#4c0c6b"/><stop offset="0.7181" stop-color="#320a5e"/><stop offset="0.7305" stop-color="#2d0b59"/><stop offset="0.7428" stop-color="#260c51"/><stop offset="0.7798" stop-color="#040312"/><stop offset="0.7922" stop-color="#010005"/><stop offset="0.9979" stop-color="#000004"/></linearGradient><linearGradient id="g153" gradientUnits="userSpaceOnUse" x1="452.10" y1="0" x2="695.30" y2="0"><stop offset="0.0021" stop-color="#751b6e"/><stop offset="0.2984" stop-color="#6c186e"/><stop offset="0.5453" stop-color="#57106e"/><stop offset="0.6317" stop-color="#4d0d6c"/><stop offset="0.7181" stop-color="#340a5f"/><stop offset="0.7428" stop-color="#280b53"/><stop offset="0.7798" stop-color="#040314"/><stop offset="0.7922" stop-color="#010005"/><stop offset="0.8045" stop-color="#000004"/><stop offset="0.9979" stop-color="#000004"/></linearGradient><linearGradient id="g154" gradientUnits="userSpaceOnUse" x1="452.10" y1="0" x2="695.30" y2="0"><stop offset="0.0021" stop-color="#751b6e"/><stop offset="0.2984" stop-color="#6c186e"/><stop offset="0.5453" stop-color="#59106e"/><stop offset="0.6317" stop-color="#4d0d6c"/><stop offset="0.7181" stop-color="#360961"/><stop offset="0.7428" stop-color="#290b55"/><stop offset="0.7922" stop-color="#010106"/><stop offset="0.8045" stop-color="#000004"/><stop offset="0.9979" stop-color="#000004"/></linearGradient><linearGradient id="g155" gradientUnits="userSpaceOnUse" x1="452.10" y1="0" x2="695.30" y2="0"><stop offset="0.0021" stop-color="#751b6e"/><stop offset="0.2984" stop-color="#6d186e"/><stop offset="0.5576" stop-color="#59106e"/><stop offset="0.6440" stop-color="#4c0c6b"/><stop offset="0.7181" stop-color="#380962"/><stop offset="0.7428" stop-color="#2d0b59"/><stop offset="0.7922" stop-color="#010108"/><stop offset="0.8045" stop-color="#000004"/><stop offset="0.9979" stop-color="#000004"/></linearGradient><linearGradient id="g156" gradientUnits="userSpaceOnUse" x1="452.10" y1="0" x2="695.30" y2="0"><stop offset="0.0021" stop-color="#751b6e"/><stop offset="0.2860" stop-color="#6f196e"/><stop offset="0.5576" stop-color="#59106e"/><stop offset="0.6440" stop-color="#4d0d6c"/><stop offset="0.7181" stop-color="#390963"/><stop offset="0.7428" stop-color="#2f0a5b"/><stop offset="0.7922" stop-color="#02010a"/><stop offset="0.8045" stop-color="#000004"/><stop offset="0.9979" stop-color="#000004"/></linearGradient><linearGradient id="g157" gradientUnits="userSpaceOnUse" x1="452.10" y1="0" x2="695.30" y2="0"><stop offset="0.0021" stop-color="#751b6e"/><stop offset="0.2860" stop-color="#6f196e"/><stop offset="0.5576" stop-color="#5a116e"/><stop offset="0.6440" stop-color="#4f0d6c"/><stop offset="0.7181" stop-color="#3b0964"/><stop offset="0.7428" stop-color="#310a5c"/><stop offset="0.7922" stop-color="#02020c"/><stop offset="0.8045" stop-color="#000004"/><stop offset="0.9979" stop-color="#000004"/></linearGradient><linearGradient id="g158" gradientUnits="userSpaceOnUse" x1="452.10" y1="0" x2="695.30" y2="0"><stop offset="0.0021" stop-color="#771c6d"/><stop offset="0.2860" stop-color="#6f196e"/><stop offset="0.5576" stop-color="#5a116e"/><stop offset="0.6440" stop-color="#4f0d6c"/><stop offset="0.7181" stop-color="#3d0965"/><stop offset="0.7428" stop-color="#340a5f"/><stop offset="0.7922" stop-color="#030210"/><stop offset="0.8045" stop-color="#000004"/><stop offset="0.9979" stop-color="#000004"/></linearGradient><linearGradient id="g159" gradientUnits="userSpaceOnUse" x1="452.10" y1="0" x2="695.30" y2="0"><stop offset="0.0021" stop-color="#771c6d"/><stop offset="0.2860" stop-color="#71196e"/><stop offset="0.5576" stop-color="#5c126e"/><stop offset="0.6440" stop-color="#510e6c"/><stop offset="0.7181" stop-color="#3e0966"/><stop offset="0.7428" stop-color="#360961"/><stop offset="0.7551" stop-color="#280b53"/><stop offset="0.7922" stop-color="#040312"/><stop offset="0.8045" stop-color="#000004"/><stop offset="0.9979" stop-color="#000004"/></linearGradient><linearGradient id="g160" gradientUnits="userSpaceOnUse" x1="452.10" y1="0" x2="695.30" y2="0"><stop offset="0.0021" stop-color="#771c6d"/><stop offset="0.2243" stop-color="#721a6e"/><stop offset="0.5453" stop-color="#5f136e"/><stop offset="0.6440" stop-color="#520e6d"/><stop offset="0.7181" stop-color="#400a67"/><stop offset="0.7428" stop-color="#380962"/><stop offset="0.7551" stop-color="#2b0b57"/><stop offset="0.8045" stop-color="#010005"/><stop offset="0.8169" stop-color="#000004"/><stop offset="0.9979" stop-color="#000004"/></linearGradient><linearGradient id="g161" gradientUnits="userSpaceOnUse" x1="452.10" y1="0" x2="695.30" y2="0"><stop offset="0.0021" stop-color="#771c6d"/><stop offset="0.2860" stop-color="#71196e"/><stop offset="0.5576" stop-color="#5f136e"/><stop offset="0.6440" stop-color="#540f6d"/><stop offset="0.7181" stop-color="#420a68"/><stop offset="0.7428" stop-color="#390963"/><stop offset="0.7551" stop-color="#2f0a5b"/><stop offset="0.8045" stop-color="#010108"/><stop offset="0.8169" stop-color="#000004"/><stop offset="0.9979" stop-color="#000004"/></linearGradient><linearGradient id="g162" gradientUnits="userSpaceOnUse" x1="452.10" y1="0" x2="695.30" y2="0"><stop offset="0.0021" stop-color="#771c6d"/><stop offset="0.2860" stop-color="#721a6e"/><stop offset="0.5453" stop-color="#61136e"/><stop offset="0.6440" stop-color="#550f6d"/><stop offset="0.7181" stop-color="#440a68"/><stop offset="0.7428" stop-color="#3b0964"/><stop offset="0.7551" stop-color="#310a5c"/><stop offset="0.8045" stop-color="#02010a"/><stop offset="0.8169" stop-color="#000004"/><stop offset="0.9979" stop-color="#000004"/></linearGradient><linearGradient id="g163" gradientUnits="userSpaceOnUse" x1="452.10" y1="0" x2="695.30" y2="0"><stop offset="0.0021" stop-color="#771c6d"/><stop offset="0.2860" stop-color="#721a6e"/><stop offset="0.5453" stop-color="#62146e"/><stop offset="0.6440" stop-color="#57106e"/><stop offset="0.7181" stop-color="#450a69"/><stop offset="0.7428" stop-color="#3d0965"/><stop offset="0.7551" stop-color="#340a5f"/><stop offset="0.8045" stop-color="#02020e"/><stop offset="0.8169" stop-color="#000004"/><stop offset="0.9979" stop-color="#000004"/></linearGradient><linearGradient id="g164" gradientUnits="userSpaceOnUse" x1="452.10" y1="0" x2="695.30" y2="0"><stop offset="0.0021" stop-color="#781c6d"/><stop offset="0.2860" stop-color="#741a6e"/><stop offset="0.5453" stop-color="#64156e"/><stop offset="0.6440" stop-color="#59106e"/><stop offset="0.7181" stop-color="#470b6a"/><stop offset="0.7551" stop-color="#380962"/><stop offset="0.8045" stop-color="#040312"/><stop offset="0.8169" stop-color="#000004"/><stop offset="0.9979" stop-color="#000004"/></linearGradient><linearGradient id="g165" gradientUnits="userSpaceOnUse" x1="452.10" y1="0" x2="695.30" y2="0"><stop offset="0.0021" stop-color="#781c6d"/><stop offset="0.2984" stop-color="#741a6e"/><stop offset="0.5329" stop-color="#67166e"/><stop offset="0.6440" stop-color="#59106e"/><stop offset="0.7181" stop-color="#490b6a"/><stop offset="0.7551" stop-color="#3b0964"/><stop offset="0.8169" stop-color="#010106"/><stop offset="0.8292" stop-color="#000004"/><stop offset="0.9979" stop-color="#000004"/></linearGradient><linearGradient id="g166" gradientUnits="userSpaceOnUse" x1="452.10" y1="0" x2="695.30" y2="0"><stop offset="0.0021" stop-color="#781c6d"/><stop offset="0.2984" stop-color="#741a6e"/><stop offset="0.5329" stop-color="#67166e"/><stop offset="0.6440" stop-color="#5a116e"/><stop offset="0.7181" stop-color="#4a0c6b"/><stop offset="0.7551" stop-color="#3d0965"/><stop offset="0.7675" stop-color="#310a5c"/><stop offset="0.8169" stop-color="#02010a"/><stop offset="0.8292" stop-color="#000004"/><stop offset="0.9979" stop-color="#000004"/></linearGradient><linearGradient id="g167" gradientUnits="userSpaceOnUse" x1="452.10" y1="0" x2="695.30" y2="0"><stop offset="0.0021" stop-color="#781c6d"/><stop offset="0.2984" stop-color="#741a6e"/><stop offset="0.5329" stop-color="#69166e"/><stop offset="0.6440" stop-color="#5c126e"/><stop offset="0.7181" stop-color="#4c0c6b"/><stop offset="0.7551" stop-color="#3e0966"/><stop offset="0.7675" stop-color="#340a5f"/><stop offset="0.8169" stop-color="#02020e"/><stop offset="0.8292" stop-color="#000004"/><stop offset="0.9979" stop-color="#000004"/></linearGradient><linearGradient id="g168" gradientUnits="userSpaceOnUse" x1="452.10" y1="0" x2="695.30" y2="0"><stop offset="0.0021" stop-color="#781c6d"/><stop offset="0.2984" stop-color="#751b6e"/><stop offset="0.5329" stop-color="#6a176e"/><stop offset="0.6440" stop-color="#5d126e"/><stop offset="0.7181" stop-color="#4d0d6c"/><stop offset="0.7551" stop-color="#400a67"/><stop offset="0.7675" stop-color="#380962"/><stop offset="0.8169" stop-color="#040312"/><stop offset="0.8292" stop-color="#000004"/><stop offset="0.9979" stop-color="#000004"/></linearGradient><linearGradient id="g169" gradientUnits="userSpaceOnUse" x1="452.10" y1="0" x2="695.30" y2="0"><stop offset="0.0021" stop-color="#781c6d"/><stop offset="0.2984" stop-color="#751b6e"/><stop offset="0.5206" stop-color="#6d186e"/><stop offset="0.6440" stop-color="#5f136e"/><stop offset="0.7181" stop-color="#4f0d6c"/><stop offset="0.7551" stop-color="#420a68"/><stop offset="0.7675" stop-color="#3b0964"/><stop offset="0.8169" stop-color="#050417"/><stop offset="0.8292" stop-color="#010106"/><stop offset="0.8416" stop-color="#000004"/><stop offset="0.9979" stop-color="#000004"/></linearGradient><linearGradient id="g170" gradientUnits="userSpaceOnUse" x1="452.10" y1="0" x2="695.30" y2="0"><stop offset="0.0021" stop-color="#7a1d6d"/><stop offset="0.2984" stop-color="#771c6d"/><stop offset="0.5206" stop-color="#6f196e"/><stop offset="0.6440" stop-color="#61136e"/><stop offset="0.7181" stop-color="#510e6c"/><stop offset="0.7675" stop-color="#3e0966"/><stop offset="0.8292" stop-color="#02010a"/><stop offset="0.8416" stop-color="#000004"/><stop offset="0.9979" stop-color="#000004"/></linearGradient><linearGradient id="g171" gradientUnits="userSpaceOnUse" x1="452.10" y1="0" x2="695.30" y2="0"><stop offset="0.0021" stop-color="#7a1d6d"/><stop offset="0.2984" stop-color="#771c6d"/><stop offset="0.5206" stop-color="#6f196e"/><stop offset="0.6440" stop-color="#62146e"/><stop offset="0.7058" stop-color="#550f6d"/><stop offset="0.7675" stop-color="#420a68"/><stop offset="0.7922" stop-color="#240c4f"/><stop offset="0.8292" stop-color="#030210"/><stop offset="0.8416" stop-color="#000004"/><stop offset="0.9979" stop-color="#000004"/></linearGradient><linearGradient id="g172" gradientUnits="userSpaceOnUse" x1="452.10" y1="0" x2="695.30" y2="0"><stop offset="0.0021" stop-color="#7a1d6d"/><stop offset="0.2984" stop-color="#771c6d"/><stop offset="0.5206" stop-color="#71196e"/><stop offset="0.6564" stop-color="#61136e"/><stop offset="0.7181" stop-color="#540f6d"/><stop offset="0.7675" stop-color="#440a68"/><stop offset="0.7798" stop-color="#390963"/><stop offset="0.8292" stop-color="#040314"/><stop offset="0.8416" stop-color="#010106"/><stop offset="0.8539" stop-color="#000004"/><stop offset="0.9979" stop-color="#000004"/></linearGradient><linearGradient id="g173" gradientUnits="userSpaceOnUse" x1="452.10" y1="0" x2="695.30" y2="0"><stop offset="0.0021" stop-color="#7a1d6d"/><stop offset="0.3107" stop-color="#781c6d"/><stop offset="0.5206" stop-color="#721a6e"/><stop offset="0.6564" stop-color="#62146e"/><stop offset="0.7181" stop-color="#550f6d"/><stop offset="0.7675" stop-color="#450a69"/><stop offset="0.7798" stop-color="#3e0966"/><stop offset="0.8292" stop-color="#07051b"/><stop offset="0.8416" stop-color="#02010a"/><stop offset="0.8539" stop-color="#000004"/><stop offset="0.9979" stop-color="#000004"/></linearGradient><linearGradient id="g174" gradientUnits="userSpaceOnUse" x1="452.10" y1="0" x2="695.30" y2="0"><stop offset="0.0021" stop-color="#7a1d6d"/><stop offset="0.3107" stop-color="#781c6d"/><stop offset="0.5206" stop-color="#741a6e"/><stop offset="0.6564" stop-color="#64156e"/><stop offset="0.7181" stop-color="#57106e"/><stop offset="0.7798" stop-color="#420a68"/><stop offset="0.8416" stop-color="#02020e"/><stop offset="0.8539" stop-color="#000004"/><stop offset="0.9979" stop-color="#000004"/></linearGradient><linearGradient id="g175" gradientUnits="userSpaceOnUse" x1="452.10" y1="0" x2="695.30" y2="0"><stop offset="0.0021" stop-color="#7c1d6d"/><stop offset="0.3107" stop-color="#781c6d"/><stop offset="0.5206" stop-color="#751b6e"/><stop offset="0.6564" stop-color="#67166e"/><stop offset="0.7181" stop-color="#59106e"/><stop offset="0.7798" stop-color="#450a69"/><stop offset="0.7922" stop-color="#380962"/><stop offset="0.8416" stop-color="#040314"/><stop offset="0.8539" stop-color="#010005"/><stop offset="0.8663" stop-color="#000004"/><stop offset="0.9979" stop-color="#000004"/></linearGradient><linearGradient id="g176" gradientUnits="userSpaceOnUse" x1="452.10" y1="0" x2="695.30" y2="0"><stop offset="0.0021" stop-color="#7c1d6d"/><stop offset="0.3354" stop-color="#7a1d6d"/><stop offset="0.5206" stop-color="#771c6d"/><stop offset="0.6564" stop-color="#69166e"/><stop offset="0.7181" stop-color="#5c126e"/><stop offset="0.7798" stop-color="#470b6a"/><stop offset="0.7922" stop-color="#3d0965"/><stop offset="0.8416" stop-color="#07051b"/><stop offset="0.8539" stop-color="#02010a"/><stop offset="0.8663" stop-color="#000004"/><stop offset="0.9979" stop-color="#000004"/></linearGradient><linearGradient id="g177" gradientUnits="userSpaceOnUse" x1="452.10" y1="0" x2="695.30" y2="0"><stop offset="0.0021" stop-color="#7c1d6d"/><stop offset="0.3477" stop-color="#7a1d6d"/><stop offset="0.5206" stop-color="#781c6d"/><stop offset="0.6564" stop-color="#6a176e"/><stop offset="0.7181" stop-color="#5d126e"/><stop offset="0.7798" stop-color="#4a0c6b"/><stop offset="0.7922" stop-color="#420a68"/><stop offset="0.8416" stop-color="#0a0722"/><stop offset="0.8663" stop-color="#000004"/><stop offset="0.9979" stop-color="#000004"/></linearGradient><linearGradient id="g178" gradientUnits="userSpaceOnUse" x1="452.10" y1="0" x2="695.30" y2="0"><stop offset="0.0021" stop-color="#7c1d6d"/><stop offset="0.5206" stop-color="#7c1d6d"/><stop offset="0.6440" stop-color="#6f196e"/><stop offset="0.7181" stop-color="#61136e"/><stop offset="0.7922" stop-color="#470b6a"/><stop offset="0.8539" stop-color="#050417"/><stop offset="0.8663" stop-color="#010108"/><stop offset="0.8786" stop-color="#000004"/><stop offset="0.9979" stop-color="#000004"/></linearGradient><linearGradient id="g179" gradientUnits="userSpaceOnUse" x1="452.10" y1="0" x2="695.30" y2="0"><stop offset="0.0021" stop-color="#7d1e6d"/><stop offset="0.5206" stop-color="#7d1e6d"/><stop offset="0.6440" stop-color="#71196e"/><stop offset="0.7181" stop-color="#62146e"/><stop offset="0.7922" stop-color="#4a0c6b"/><stop offset="0.8045" stop-color="#3e0966"/><stop offset="0.8539" stop-color="#08051d"/><stop offset="0.8786" stop-color="#000004"/><stop offset="0.9979" stop-color="#000004"/></linearGradient><linearGradient id="g180" gradientUnits="userSpaceOnUse" x1="452.10" y1="0" x2="695.30" y2="0"><stop offset="0.0021" stop-color="#7d1e6d"/><stop offset="0.5206" stop-color="#7f1e6c"/><stop offset="0.6440" stop-color="#741a6e"/><stop offset="0.7181" stop-color="#65156e"/><stop offset="0.7922" stop-color="#4c0c6b"/><stop offset="0.8045" stop-color="#440a68"/><stop offset="0.8539" stop-color="#0b0724"/><stop offset="0.8786" stop-color="#010005"/><stop offset="0.8909" stop-color="#000004"/><stop offset="0.9979" stop-color="#000004"/></linearGradient><linearGradient id="g181" gradientUnits="userSpaceOnUse" x1="452.10" y1="0" x2="695.30" y2="0"><stop offset="0.0021" stop-color="#7d1e6d"/><stop offset="0.5206" stop-color="#801f6c"/><stop offset="0.6440" stop-color="#751b6e"/><stop offset="0.7181" stop-color="#67166e"/><stop offset="0.7798" stop-color="#540f6d"/><stop offset="0.8045" stop-color="#4a0c6b"/><stop offset="0.8663" stop-color="#060419"/><stop offset="0.8786" stop-color="#02010a"/><stop offset="0.8909" stop-color="#000004"/><stop offset="0.9979" stop-color="#000004"/></linearGradient><linearGradient id="g182" gradientUnits="userSpaceOnUse" x1="452.10" y1="0" x2="695.30" y2="0"><stop offset="0.0021" stop-color="#7f1e6c"/><stop offset="0.4835" stop-color="#84206b"/><stop offset="0.6317" stop-color="#7a1d6d"/><stop offset="0.7181" stop-color="#6a176e"/><stop offset="0.7798" stop-color="#57106e"/><stop offset="0.8045" stop-color="#4c0c6b"/><stop offset="0.8169" stop-color="#400a67"/><stop offset="0.8663" stop-color="#09061f"/><stop offset="0.8909" stop-color="#000004"/><stop offset="0.9979" stop-color="#000004"/></linearGradient><linearGradient id="g183" gradientUnits="userSpaceOnUse" x1="452.10" y1="0" x2="695.30" y2="0"><stop offset="0.0021" stop-color="#7f1e6c"/><stop offset="0.4588" stop-color="#85216b"/><stop offset="0.5329" stop-color="#84206b"/><stop offset="0.6440" stop-color="#7a1d6d"/><stop offset="0.7305" stop-color="#6a176e"/><stop offset="0.7922" stop-color="#540f6d"/><stop offset="0.8045" stop-color="#4f0d6c"/><stop offset="0.8169" stop-color="#470b6a"/><stop offset="0.8663" stop-color="#0d0829"/><stop offset="0.8909" stop-color="#02010a"/><stop offset="0.9033" stop-color="#000004"/><stop offset="0.9979" stop-color="#000004"/></linearGradient><linearGradient id="g184" gradientUnits="userSpaceOnUse" x1="452.10" y1="0" x2="695.30" y2="0"><stop offset="0.0021" stop-color="#7f1e6c"/><stop offset="0.4095" stop-color="#85216b"/><stop offset="0.5206" stop-color="#87216b"/><stop offset="0.6440" stop-color="#7d1e6d"/><stop offset="0.7305" stop-color="#6d186e"/><stop offset="0.7922" stop-color="#57106e"/><stop offset="0.8169" stop-color="#4c0c6b"/><stop offset="0.8663" stop-color="#120a32"/><stop offset="0.9033" stop-color="#010005"/><stop offset="0.9979" stop-color="#000004"/></linearGradient><linearGradient id="g185" gradientUnits="userSpaceOnUse" x1="452.10" y1="0" x2="695.30" y2="0"><stop offset="0.0021" stop-color="#801f6c"/><stop offset="0.3724" stop-color="#85216b"/><stop offset="0.5206" stop-color="#88226a"/><stop offset="0.6440" stop-color="#801f6c"/><stop offset="0.7305" stop-color="#71196e"/><stop offset="0.7922" stop-color="#5a116e"/><stop offset="0.8169" stop-color="#510e6c"/><stop offset="0.8292" stop-color="#450a69"/><stop offset="0.8786" stop-color="#0d0829"/><stop offset="0.9033" stop-color="#02010a"/><stop offset="0.9156" stop-color="#000004"/><stop offset="0.9979" stop-color="#000004"/></linearGradient><linearGradient id="g186" gradientUnits="userSpaceOnUse" x1="452.10" y1="0" x2="695.30" y2="0"><stop offset="0.0021" stop-color="#801f6c"/><stop offset="0.3230" stop-color="#85216b"/><stop offset="0.5206" stop-color="#8c2369"/><stop offset="0.6440" stop-color="#82206c"/><stop offset="0.7181" stop-color="#771c6d"/><stop offset="0.7798" stop-color="#64156e"/><stop offset="0.8169" stop-color="#540f6d"/><stop offset="0.8292" stop-color="#4d0d6c"/><stop offset="0.8786" stop-color="#120a32"/><stop offset="0.9156" stop-color="#010005"/><stop offset="0.9979" stop-color="#000004"/></linearGradient><linearGradient id="g187" gradientUnits="userSpaceOnUse" x1="452.10" y1="0" x2="695.30" y2="0"><stop offset="0.0021" stop-color="#82206c"/><stop offset="0.3107" stop-color="#85216b"/><stop offset="0.5206" stop-color="#8d2369"/><stop offset="0.6440" stop-color="#85216b"/><stop offset="0.7181" stop-color="#7a1d6d"/><stop offset="0.7798" stop-color="#67166e"/><stop offset="0.8292" stop-color="#520e6d"/><stop offset="0.8416" stop-color="#470b6a"/><stop offset="0.8909" stop-color="#0d0829"/><stop offset="0.9033" stop-color="#050417"/><stop offset="0.9280" stop-color="#000004"/><stop offset="0.9979" stop-color="#000004"/></linearGradient><linearGradient id="g188" gradientUnits="userSpaceOnUse" x1="452.10" y1="0" x2="695.30" y2="0"><stop offset="0.0021" stop-color="#82206c"/><stop offset="0.2984" stop-color="#85216b"/><stop offset="0.5206" stop-color="#8f2469"/><stop offset="0.6440" stop-color="#88226a"/><stop offset="0.7181" stop-color="#7d1e6d"/><stop offset="0.7922" stop-color="#67166e"/><stop offset="0.8292" stop-color="#57106e"/><stop offset="0.8416" stop-color="#4f0d6c"/><stop offset="0.8909" stop-color="#120a32"/><stop offset="0.9033" stop-color="#09061f"/><stop offset="0.9403" stop-color="#010005"/><stop offset="0.9979" stop-color="#010005"/></linearGradient><linearGradient id="g189" gradientUnits="userSpaceOnUse" x1="452.10" y1="0" x2="695.30" y2="0"><stop offset="0.0021" stop-color="#82206c"/><stop offset="0.2860" stop-color="#87216b"/><stop offset="0.5206" stop-color="#922568"/><stop offset="0.6440" stop-color="#8c2369"/><stop offset="0.7181" stop-color="#801f6c"/><stop offset="0.7922" stop-color="#6a176e"/><stop offset="0.8416" stop-color="#540f6d"/><stop offset="0.8539" stop-color="#470b6a"/><stop offset="0.8909" stop-color="#180c3c"/><stop offset="0.9156" stop-color="#09061f"/><stop offset="0.9403" stop-color="#02020e"/><stop offset="0.9979" stop-color="#02010a"/></linearGradient><linearGradient id="g190" gradientUnits="userSpaceOnUse" x1="452.10" y1="0" x2="695.30" y2="0"><stop offset="0.0021" stop-color="#84206b"/><stop offset="0.2984" stop-color="#88226a"/><stop offset="0.5206" stop-color="#932667"/><stop offset="0.6440" stop-color="#8f2469"/><stop offset="0.7181" stop-color="#85216b"/><stop offset="0.7922" stop-color="#6f196e"/><stop offset="0.8416" stop-color="#59106e"/><stop offset="0.8539" stop-color="#4f0d6c"/><stop offset="0.8909" stop-color="#1f0c48"/><stop offset="0.9280" stop-color="#09061f"/><stop offset="0.9403" stop-color="#050417"/><stop offset="0.9979" stop-color="#040312"/></linearGradient><linearGradient id="g191" gradientUnits="userSpaceOnUse" x1="452.10" y1="0" x2="695.30" y2="0"><stop offset="0.0021" stop-color="#84206b"/><stop offset="0.2984" stop-color="#8a226a"/><stop offset="0.5206" stop-color="#972766"/><stop offset="0.6440" stop-color="#932667"/><stop offset="0.7181" stop-color="#88226a"/><stop offset="0.7922" stop-color="#721a6e"/><stop offset="0.8539" stop-color="#550f6d"/><stop offset="0.8909" stop-color="#2b0b57"/><stop offset="0.9280" stop-color="#0e092b"/><stop offset="0.9403" stop-color="#0b0724"/><stop offset="0.9979" stop-color="#07051b"/></linearGradient><linearGradient id="g192" gradientUnits="userSpaceOnUse" x1="452.10" y1="0" x2="695.30" y2="0"><stop offset="0.0021" stop-color="#85216b"/><stop offset="0.2984" stop-color="#8c2369"/><stop offset="0.5206" stop-color="#9a2865"/><stop offset="0.6440" stop-color="#972766"/><stop offset="0.7181" stop-color="#8d2369"/><stop offset="0.7922" stop-color="#771c6d"/><stop offset="0.8539" stop-color="#5a116e"/><stop offset="0.8663" stop-color="#520e6d"/><stop offset="0.9033" stop-color="#2b0b57"/><stop offset="0.9280" stop-color="#150b37"/><stop offset="0.9650" stop-color="#0e092b"/><stop offset="0.9979" stop-color="#0b0724"/></linearGradient><linearGradient id="g193" gradientUnits="userSpaceOnUse" x1="452.10" y1="0" x2="695.30" y2="0"><stop offset="0.0021" stop-color="#85216b"/><stop offset="0.2984" stop-color="#8d2369"/><stop offset="0.4835" stop-color="#9b2964"/><stop offset="0.6317" stop-color="#9b2964"/><stop offset="0.7058" stop-color="#932667"/><stop offset="0.7922" stop-color="#7c1d6d"/><stop offset="0.8663" stop-color="#5a116e"/><stop offset="0.8909" stop-color="#440a68"/><stop offset="0.9280" stop-color="#1f0c48"/><stop offset="0.9774" stop-color="#140b34"/><stop offset="0.9979" stop-color="#110a30"/></linearGradient><linearGradient id="g194" gradientUnits="userSpaceOnUse" x1="452.10" y1="0" x2="695.30" y2="0"><stop offset="0.0021" stop-color="#87216b"/><stop offset="0.2860" stop-color="#8d2369"/><stop offset="0.5206" stop-color="#a02a63"/><stop offset="0.6440" stop-color="#9f2a63"/><stop offset="0.7058" stop-color="#982766"/><stop offset="0.8045" stop-color="#7d1e6d"/><stop offset="0.8786" stop-color="#5a116e"/><stop offset="0.8909" stop-color="#510e6c"/><stop offset="0.9280" stop-color="#2d0b59"/><stop offset="0.9774" stop-color="#1e0c45"/><stop offset="0.9979" stop-color="#190c3e"/></linearGradient><linearGradient id="g195" gradientUnits="userSpaceOnUse" x1="452.10" y1="0" x2="695.30" y2="0"><stop offset="0.0021" stop-color="#87216b"/><stop offset="0.2860" stop-color="#8f2469"/><stop offset="0.5206" stop-color="#a22b62"/><stop offset="0.6440" stop-color="#a22b62"/><stop offset="0.7058" stop-color="#9b2964"/><stop offset="0.8045" stop-color="#82206c"/><stop offset="0.8909" stop-color="#5c126e"/><stop offset="0.9033" stop-color="#520e6d"/><stop offset="0.9280" stop-color="#3d0965"/><stop offset="0.9897" stop-color="#260c51"/><stop offset="0.9979" stop-color="#240c4f"/></linearGradient><linearGradient id="g196" gradientUnits="userSpaceOnUse" x1="452.10" y1="0" x2="695.30" y2="0"><stop offset="0.0021" stop-color="#87216b"/><stop offset="0.2737" stop-color="#902568"/><stop offset="0.5206" stop-color="#a52c60"/><stop offset="0.6440" stop-color="#a52c60"/><stop offset="0.7058" stop-color="#a02a63"/><stop offset="0.8045" stop-color="#88226a"/><stop offset="0.8909" stop-color="#64156e"/><stop offset="0.9156" stop-color="#57106e"/><stop offset="0.9403" stop-color="#490b6a"/><stop offset="0.9979" stop-color="#320a5e"/></linearGradient><linearGradient id="g197" gradientUnits="userSpaceOnUse" x1="452.10" y1="0" x2="695.30" y2="0"><stop offset="0.0021" stop-color="#87216b"/><stop offset="0.2737" stop-color="#922568"/><stop offset="0.4835" stop-color="#a52c60"/><stop offset="0.6317" stop-color="#a92e5e"/><stop offset="0.7058" stop-color="#a52c60"/><stop offset="0.8045" stop-color="#8f2469"/><stop offset="0.8909" stop-color="#6d186e"/><stop offset="0.9650" stop-color="#4d0d6c"/><stop offset="0.9979" stop-color="#440a68"/></linearGradient><linearGradient id="g198" gradientUnits="userSpaceOnUse" x1="452.10" y1="0" x2="695.30" y2="0"><stop offset="0.0021" stop-color="#87216b"/><stop offset="0.2737" stop-color="#922568"/><stop offset="0.4342" stop-color="#a22b62"/><stop offset="0.5206" stop-color="#ab2f5e"/><stop offset="0.6440" stop-color="#ad305d"/><stop offset="0.7181" stop-color="#a62d60"/><stop offset="0.8045" stop-color="#972766"/><stop offset="0.8909" stop-color="#771c6d"/><stop offset="0.9650" stop-color="#5a116e"/><stop offset="0.9979" stop-color="#520e6d"/></linearGradient><linearGradient id="g199" gradientUnits="userSpaceOnUse" x1="452.10" y1="0" x2="695.30" y2="0"><stop offset="0.0021" stop-color="#87216b"/><stop offset="0.2860" stop-color="#952667"/><stop offset="0.4342" stop-color="#a32c61"/><stop offset="0.5206" stop-color="#ae305c"/><stop offset="0.6440" stop-color="#b1325a"/><stop offset="0.7181" stop-color="#ab2f5e"/><stop offset="0.8045" stop-color="#9f2a63"/><stop offset="0.8909" stop-color="#82206c"/><stop offset="0.9650" stop-color="#69166e"/><stop offset="0.9979" stop-color="#61136e"/></linearGradient><linearGradient id="g200" gradientUnits="userSpaceOnUse" x1="452.10" y1="0" x2="695.30" y2="0"><stop offset="0.0021" stop-color="#87216b"/><stop offset="0.2860" stop-color="#952667"/><stop offset="0.4218" stop-color="#a52c60"/><stop offset="0.5206" stop-color="#b0315b"/><stop offset="0.6440" stop-color="#b43359"/><stop offset="0.7305" stop-color="#b0315b"/><stop offset="0.8169" stop-color="#a32c61"/><stop offset="0.9156" stop-color="#87216b"/><stop offset="0.9774" stop-color="#751b6e"/><stop offset="0.9979" stop-color="#721a6e"/></linearGradient><linearGradient id="g201" gradientUnits="userSpaceOnUse" x1="452.10" y1="0" x2="695.30" y2="0"><stop offset="0.0021" stop-color="#87216b"/><stop offset="0.2860" stop-color="#972766"/><stop offset="0.4095" stop-color="#a52c60"/><stop offset="0.5206" stop-color="#b3325a"/><stop offset="0.6564" stop-color="#b93556"/><stop offset="0.7428" stop-color="#b43359"/><stop offset="0.8292" stop-color="#a92e5e"/><stop offset="0.9774" stop-color="#87216b"/><stop offset="0.9979" stop-color="#84206b"/></linearGradient><linearGradient id="g202" gradientUnits="userSpaceOnUse" x1="452.10" y1="0" x2="695.30" y2="0"><stop offset="0.0021" stop-color="#88226a"/><stop offset="0.2860" stop-color="#982766"/><stop offset="0.4095" stop-color="#a62d60"/><stop offset="0.5206" stop-color="#b63458"/><stop offset="0.6687" stop-color="#bc3754"/><stop offset="0.7922" stop-color="#b63458"/><stop offset="0.8786" stop-color="#a92e5e"/><stop offset="0.9774" stop-color="#972766"/><stop offset="0.9979" stop-color="#932667"/></linearGradient><linearGradient id="g203" gradientUnits="userSpaceOnUse" x1="452.10" y1="0" x2="695.30" y2="0"><stop offset="0.0021" stop-color="#88226a"/><stop offset="0.2860" stop-color="#982766"/><stop offset="0.4095" stop-color="#a62d60"/><stop offset="0.5206" stop-color="#b73557"/><stop offset="0.6811" stop-color="#bf3952"/><stop offset="0.8292" stop-color="#b93556"/><stop offset="0.9897" stop-color="#a52c60"/><stop offset="0.9979" stop-color="#a32c61"/></linearGradient><linearGradient id="g204" gradientUnits="userSpaceOnUse" x1="452.10" y1="0" x2="695.30" y2="0"><stop offset="0.0021" stop-color="#88226a"/><stop offset="0.2860" stop-color="#9a2865"/><stop offset="0.4218" stop-color="#ab2f5e"/><stop offset="0.5206" stop-color="#b93556"/><stop offset="0.7058" stop-color="#c33b4f"/><stop offset="0.8416" stop-color="#c03a51"/><stop offset="0.9979" stop-color="#b3325a"/></linearGradient><linearGradient id="g205" gradientUnits="userSpaceOnUse" x1="452.10" y1="0" x2="695.30" y2="0"><stop offset="0.0021" stop-color="#8a226a"/><stop offset="0.2737" stop-color="#9a2865"/><stop offset="0.4218" stop-color="#ab2f5e"/><stop offset="0.5329" stop-color="#ba3655"/><stop offset="0.7181" stop-color="#c63d4d"/><stop offset="0.8663" stop-color="#c63d4d"/><stop offset="0.9979" stop-color="#c13a50"/></linearGradient><linearGradient id="g206" gradientUnits="userSpaceOnUse" x1="452.10" y1="0" x2="695.30" y2="0"><stop offset="0.0021" stop-color="#8a226a"/><stop offset="0.2737" stop-color="#9a2865"/><stop offset="0.4218" stop-color="#ad305d"/><stop offset="0.5329" stop-color="#bc3754"/><stop offset="0.7428" stop-color="#ca404a"/><stop offset="0.9979" stop-color="#cf4446"/></linearGradient><linearGradient id="g207" gradientUnits="userSpaceOnUse" x1="452.10" y1="0" x2="695.30" y2="0"><stop offset="0.0021" stop-color="#8c2369"/><stop offset="0.2737" stop-color="#9b2964"/><stop offset="0.4218" stop-color="#ae305c"/><stop offset="0.5329" stop-color="#bf3952"/><stop offset="0.7798" stop-color="#d04545"/><stop offset="0.9979" stop-color="#d94d3d"/></linearGradient><linearGradient id="g208" gradientUnits="userSpaceOnUse" x1="452.10" y1="0" x2="695.30" y2="0"><stop offset="0.0021" stop-color="#8c2369"/><stop offset="0.2613" stop-color="#9b2964"/><stop offset="0.4218" stop-color="#b1325a"/><stop offset="0.5453" stop-color="#c13a50"/><stop offset="0.8292" stop-color="#d94d3d"/><stop offset="0.9979" stop-color="#e25734"/></linearGradient><linearGradient id="g209" gradientUnits="userSpaceOnUse" x1="452.10" y1="0" x2="695.30" y2="0"><stop offset="0.0021" stop-color="#8c2369"/><stop offset="0.2490" stop-color="#9b2964"/><stop offset="0.4095" stop-color="#b1325a"/><stop offset="0.5453" stop-color="#c63d4d"/><stop offset="0.8663" stop-color="#e15635"/><stop offset="0.9979" stop-color="#e8602d"/></linearGradient><linearGradient id="g210" gradientUnits="userSpaceOnUse" x1="452.10" y1="0" x2="695.30" y2="0"><stop offset="0.0021" stop-color="#8d2369"/><stop offset="0.2490" stop-color="#9d2964"/><stop offset="0.4095" stop-color="#b3325a"/><stop offset="0.5453" stop-color="#c83f4b"/><stop offset="0.8909" stop-color="#e8602d"/><stop offset="0.9979" stop-color="#ed6925"/></linearGradient><linearGradient id="g211" gradientUnits="userSpaceOnUse" x1="452.10" y1="0" x2="695.30" y2="0"><stop offset="0.0021" stop-color="#8d2369"/><stop offset="0.2366" stop-color="#9d2964"/><stop offset="0.3971" stop-color="#b3325a"/><stop offset="0.5576" stop-color="#ce4347"/><stop offset="0.9033" stop-color="#ee6a24"/><stop offset="0.9979" stop-color="#f1731d"/></linearGradient><linearGradient id="g212" gradientUnits="userSpaceOnUse" x1="452.10" y1="0" x2="695.30" y2="0"><stop offset="0.0021" stop-color="#8d2369"/><stop offset="0.2243" stop-color="#9d2964"/><stop offset="0.3971" stop-color="#b63458"/><stop offset="0.5700" stop-color="#d34743"/><stop offset="0.9033" stop-color="#f1731d"/><stop offset="0.9979" stop-color="#f57b17"/></linearGradient><linearGradient id="g213" gradientUnits="userSpaceOnUse" x1="452.10" y1="0" x2="695.30" y2="0"><stop offset="0.0021" stop-color="#8d2369"/><stop offset="0.1996" stop-color="#9d2964"/><stop offset="0.3601" stop-color="#b1325a"/><stop offset="0.6070" stop-color="#dd513a"/><stop offset="0.9156" stop-color="#f67e14"/><stop offset="0.9979" stop-color="#f8850f"/></linearGradient><linearGradient id="g214" gradientUnits="userSpaceOnUse" x1="452.10" y1="0" x2="695.30" y2="0"><stop offset="0.0021" stop-color="#8d2369"/><stop offset="0.1872" stop-color="#9d2964"/><stop offset="0.3230" stop-color="#ae305c"/><stop offset="0.4095" stop-color="#bd3853"/><stop offset="0.5823" stop-color="#dd513a"/><stop offset="0.8909" stop-color="#f78410"/><stop offset="0.9979" stop-color="#f98e09"/></linearGradient><linearGradient id="g215" gradientUnits="userSpaceOnUse" x1="452.10" y1="0" x2="695.30" y2="0"><stop offset="0.0021" stop-color="#8f2469"/><stop offset="0.1749" stop-color="#9b2964"/><stop offset="0.2984" stop-color="#ad305d"/><stop offset="0.3971" stop-color="#bf3952"/><stop offset="0.5700" stop-color="#e05536"/><stop offset="0.7551" stop-color="#f2741c"/><stop offset="0.9156" stop-color="#fa9008"/><stop offset="0.9979" stop-color="#fb9706"/></linearGradient><linearGradient id="g216" gradientUnits="userSpaceOnUse" x1="452.10" y1="0" x2="695.30" y2="0"><stop offset="0.0021" stop-color="#8f2469"/><stop offset="0.1749" stop-color="#9d2964"/><stop offset="0.2860" stop-color="#ad305d"/><stop offset="0.3971" stop-color="#c13a50"/><stop offset="0.5576" stop-color="#e25734"/><stop offset="0.7181" stop-color="#f3761b"/><stop offset="0.9156" stop-color="#fb9706"/><stop offset="0.9979" stop-color="#fc9f07"/></linearGradient><linearGradient id="g217" gradientUnits="userSpaceOnUse" x1="452.10" y1="0" x2="695.30" y2="0"><stop offset="0.0021" stop-color="#8f2469"/><stop offset="0.1626" stop-color="#9d2964"/><stop offset="0.2860" stop-color="#ae305c"/><stop offset="0.3971" stop-color="#c43c4e"/><stop offset="0.5453" stop-color="#e45a31"/><stop offset="0.7058" stop-color="#f57b17"/><stop offset="0.9156" stop-color="#fca108"/><stop offset="0.9979" stop-color="#fca80d"/></linearGradient><linearGradient id="g218" gradientUnits="userSpaceOnUse" x1="452.10" y1="0" x2="695.30" y2="0"><stop offset="0.0021" stop-color="#8f2469"/><stop offset="0.1626" stop-color="#9d2964"/><stop offset="0.2737" stop-color="#ae305c"/><stop offset="0.3971" stop-color="#c83f4b"/><stop offset="0.5329" stop-color="#e55c30"/><stop offset="0.6934" stop-color="#f78212"/><stop offset="0.9156" stop-color="#fcaa0f"/><stop offset="0.9979" stop-color="#fcb216"/></linearGradient><linearGradient id="g219" gradientUnits="userSpaceOnUse" x1="452.10" y1="0" x2="695.30" y2="0"><stop offset="0.0021" stop-color="#902568"/><stop offset="0.1502" stop-color="#9d2964"/><stop offset="0.2737" stop-color="#b0315b"/><stop offset="0.3971" stop-color="#cb4149"/><stop offset="0.5329" stop-color="#e9612b"/><stop offset="0.6934" stop-color="#f8890c"/><stop offset="0.9156" stop-color="#fcb216"/><stop offset="0.9979" stop-color="#fbba1f"/></linearGradient><linearGradient id="g220" gradientUnits="userSpaceOnUse" x1="452.10" y1="0" x2="695.30" y2="0"><stop offset="0.0021" stop-color="#902568"/><stop offset="0.1502" stop-color="#9d2964"/><stop offset="0.2737" stop-color="#b1325a"/><stop offset="0.3971" stop-color="#ce4347"/><stop offset="0.5206" stop-color="#ea632a"/><stop offset="0.6811" stop-color="#f98c0a"/><stop offset="0.9156" stop-color="#fbb81d"/><stop offset="0.9979" stop-color="#fac026"/></linearGradient><linearGradient id="g221" gradientUnits="userSpaceOnUse" x1="452.10" y1="0" x2="695.30" y2="0"><stop offset="0.0021" stop-color="#902568"/><stop offset="0.1502" stop-color="#9f2a63"/><stop offset="0.2737" stop-color="#b3325a"/><stop offset="0.3971" stop-color="#d04545"/><stop offset="0.5206" stop-color="#ec6726"/><stop offset="0.6811" stop-color="#fa9008"/><stop offset="0.9033" stop-color="#fbbc21"/><stop offset="0.9979" stop-color="#fac42a"/></linearGradient><linearGradient id="g222" gradientUnits="userSpaceOnUse" x1="452.10" y1="0" x2="695.30" y2="0"><stop offset="0.0021" stop-color="#902568"/><stop offset="0.1502" stop-color="#9f2a63"/><stop offset="0.2737" stop-color="#b43359"/><stop offset="0.3971" stop-color="#d34743"/><stop offset="0.5206" stop-color="#ee6a24"/><stop offset="0.6811" stop-color="#fb9606"/><stop offset="0.8786" stop-color="#fbbc21"/><stop offset="0.9979" stop-color="#f9c72f"/></linearGradient><linearGradient id="g223" gradientUnits="userSpaceOnUse" x1="452.10" y1="0" x2="695.30" y2="0"><stop offset="0.0021" stop-color="#922568"/><stop offset="0.1502" stop-color="#a02a63"/><stop offset="0.2613" stop-color="#b3325a"/><stop offset="0.3971" stop-color="#d54a41"/><stop offset="0.5206" stop-color="#f06f20"/><stop offset="0.6811" stop-color="#fb9b06"/><stop offset="0.8539" stop-color="#fbbc21"/><stop offset="0.9979" stop-color="#f9cb35"/></linearGradient><linearGradient id="g224" gradientUnits="userSpaceOnUse" x1="452.10" y1="0" x2="695.30" y2="0"><stop offset="0.0021" stop-color="#922568"/><stop offset="0.1502" stop-color="#a22b62"/><stop offset="0.2613" stop-color="#b43359"/><stop offset="0.3971" stop-color="#d84c3e"/><stop offset="0.5082" stop-color="#f06f20"/><stop offset="0.6811" stop-color="#fc9f07"/><stop offset="0.8416" stop-color="#fbbe23"/><stop offset="0.9979" stop-color="#f8cf3a"/></linearGradient><linearGradient id="g225" gradientUnits="userSpaceOnUse" x1="452.10" y1="0" x2="695.30" y2="0"><stop offset="0.0021" stop-color="#922568"/><stop offset="0.1379" stop-color="#a02a63"/><stop offset="0.2613" stop-color="#b63458"/><stop offset="0.3971" stop-color="#da4e3c"/><stop offset="0.5082" stop-color="#f2741c"/><stop offset="0.6811" stop-color="#fca50a"/><stop offset="0.8292" stop-color="#fac228"/><stop offset="0.9979" stop-color="#f7d340"/></linearGradient><linearGradient id="g226" gradientUnits="userSpaceOnUse" x1="452.10" y1="0" x2="695.30" y2="0"><stop offset="0.0021" stop-color="#932667"/><stop offset="0.1379" stop-color="#a02a63"/><stop offset="0.2613" stop-color="#b73557"/><stop offset="0.3971" stop-color="#db503b"/><stop offset="0.5082" stop-color="#f37819"/><stop offset="0.6811" stop-color="#fca80d"/><stop offset="0.8292" stop-color="#fac62d"/><stop offset="0.9979" stop-color="#f6d746"/></linearGradient><linearGradient id="g227" gradientUnits="userSpaceOnUse" x1="452.10" y1="0" x2="695.30" y2="0"><stop offset="0.0021" stop-color="#932667"/><stop offset="0.1379" stop-color="#a22b62"/><stop offset="0.2613" stop-color="#b93556"/><stop offset="0.3971" stop-color="#de5238"/><stop offset="0.5082" stop-color="#f57d15"/><stop offset="0.6811" stop-color="#fcae12"/><stop offset="0.8169" stop-color="#f9c72f"/><stop offset="0.9979" stop-color="#f5db4c"/></linearGradient><linearGradient id="g228" gradientUnits="userSpaceOnUse" x1="452.10" y1="0" x2="695.30" y2="0"><stop offset="0.0021" stop-color="#932667"/><stop offset="0.1379" stop-color="#a22b62"/><stop offset="0.2613" stop-color="#ba3655"/><stop offset="0.3971" stop-color="#df5337"/><stop offset="0.5082" stop-color="#f67e14"/><stop offset="0.6811" stop-color="#fcb014"/><stop offset="0.8169" stop-color="#f9cb35"/><stop offset="0.9979" stop-color="#f4dd4f"/></linearGradient><linearGradient id="cb396" x1="0" y1="0" x2="0" y2="1"><stop offset="0.0000" stop-color="#f2e661"/><stop offset="0.0179" stop-color="#f4dd4f"/><stop offset="0.0357" stop-color="#f6d543"/><stop offset="0.0536" stop-color="#f8cd37"/><stop offset="0.0714" stop-color="#fac62d"/><stop offset="0.0893" stop-color="#fbbc21"/><stop offset="0.1071" stop-color="#fcb418"/><stop offset="0.1250" stop-color="#fcac11"/><stop offset="0.1429" stop-color="#fca50a"/><stop offset="0.1607" stop-color="#fb9b06"/><stop offset="0.1786" stop-color="#fa9407"/><stop offset="0.1964" stop-color="#f98c0a"/><stop offset="0.2143" stop-color="#f8850f"/><stop offset="0.2321" stop-color="#f57d15"/><stop offset="0.2500" stop-color="#f3761b"/><stop offset="0.2679" stop-color="#f06f20"/><stop offset="0.2857" stop-color="#ed6925"/><stop offset="0.3036" stop-color="#e9612b"/><stop offset="0.3214" stop-color="#e55c30"/><stop offset="0.3393" stop-color="#e15635"/><stop offset="0.3571" stop-color="#dd513a"/><stop offset="0.3750" stop-color="#d74b3f"/><stop offset="0.3929" stop-color="#d24644"/><stop offset="0.4107" stop-color="#cc4248"/><stop offset="0.4286" stop-color="#c73e4c"/><stop offset="0.4464" stop-color="#c03a51"/><stop offset="0.4643" stop-color="#ba3655"/><stop offset="0.4821" stop-color="#b43359"/><stop offset="0.5000" stop-color="#ae305c"/><stop offset="0.5179" stop-color="#a62d60"/><stop offset="0.5357" stop-color="#a02a63"/><stop offset="0.5536" stop-color="#9a2865"/><stop offset="0.5714" stop-color="#932667"/><stop offset="0.5893" stop-color="#8c2369"/><stop offset="0.6071" stop-color="#85216b"/><stop offset="0.6250" stop-color="#7f1e6c"/><stop offset="0.6429" stop-color="#781c6d"/><stop offset="0.6607" stop-color="#71196e"/><stop offset="0.6786" stop-color="#6a176e"/><stop offset="0.6964" stop-color="#64156e"/><stop offset="0.7143" stop-color="#5d126e"/><stop offset="0.7321" stop-color="#550f6d"/><stop offset="0.7500" stop-color="#4f0d6c"/><stop offset="0.7679" stop-color="#490b6a"/><stop offset="0.7857" stop-color="#420a68"/><stop offset="0.8036" stop-color="#390963"/><stop offset="0.8214" stop-color="#320a5e"/><stop offset="0.8393" stop-color="#2b0b57"/><stop offset="0.8571" stop-color="#240c4f"/><stop offset="0.8750" stop-color="#1c0c43"/><stop offset="0.8929" stop-color="#160b39"/><stop offset="0.9107" stop-color="#110a30"/><stop offset="0.9286" stop-color="#0c0826"/><stop offset="0.9464" stop-color="#07051b"/><stop offset="0.9643" stop-color="#040312"/><stop offset="0.9821" stop-color="#02010a"/><stop offset="1.0000" stop-color="#000004"/></linearGradient></defs><rect width="749" height="620" fill="#fff"/><text x="37.60" y="13.60" font-size="17.5" fill="#555555" stroke="#555555" stroke-width="0.1" font-weight="bold">(a)</text>
<text x="435.80" y="13.60" font-size="17.5" fill="#555555" stroke="#555555" stroke-width="0.1" font-weight="bold">(b)</text>
<text x="37.60" y="332.30" font-size="17.5" fill="#555555" stroke="#555555" stroke-width="0.1" font-weight="bold">(c)</text>
<text x="435.80" y="332.30" font-size="17.5" fill="#555555" stroke="#555555" stroke-width="0.1" font-weight="bold">(d)</text>
<path d="M56.3 181.8 L56.3 149.5 L56.8 149.5 L56.8 144.7 L57.4 144.7 L57.4 114.0 L58.2 114.0 L58.2 98.7 L60.2 98.7 L60.2 92.0 L60.9 92.0 L60.9 58.3 L61.5 58.3 L61.5 118.0 L62.3 118.0 L62.3 95.0 L63.0 95.0 L63.0 80.0 L63.6 80.0 L63.6 64.4 L71.8 64.4 L71.8 68.4 L83.3 68.4 L83.3 86.1 L83.8 86.1 L83.8 58.3 L86.3 58.3 L86.3 71.0 L89.5 71.0 L89.5 68.4 L98.3 68.4 L98.3 55.9 L107.5 55.9 L107.5 68.4 L108.0 68.4 L108.0 59.9 L115.2 59.9 L115.2 68.4 L118.4 68.4 L118.4 77.3 L126.0 77.3 L126.0 57.9 L126.5 57.9 L126.5 72.4 L130.5 72.4 L130.5 62.3 L138.5 62.3 L138.5 72.4 L141.0 72.4 L141.0 86.1 L143.5 86.1 L143.5 80.5 L145.6 80.5 L145.6 67.6 L148.0 67.6 L148.0 64.4 L150.6 64.4 L150.6 75.2 L151.0 75.2 L151.0 68.8 L160.6 68.8 L160.6 62.3 L167.8 62.3 L167.8 70.8 L184.5 70.8 L184.5 55.9 L185.6 55.9 L185.6 74.8 L190.6 74.8 L190.6 56.3 L192.0 56.3 L192.0 70.8 L196.5 70.8 L196.5 53.5 L198.0 53.5 L198.0 77.3 L199.5 77.3 L199.5 59.9 L209.2 59.9 L209.2 70.8 L214.4 70.8 L214.4 55.9 L229.0 55.9 L229.0 64.4 L235.2 64.4 L235.2 59.9 L254.0 59.9 L254.0 61.5 L255.0 61.5 L255.0 59.9 L258.2 59.9 L258.2 68.4 L264.7 68.4 L264.7 62.3 L284.3 62.3 L284.3 75.2 L284.8 75.2 L284.8 55.9 L290.3 55.9 L290.3 57.5 L300.8 57.5 L300.8 62.3 L302.4 62.3 L302.4 73.2 L304.4 73.2 L304.4 55.9 L314.9 55.9 L314.9 66.4 L317.7 66.4 L317.7 73.2 L322.6 73.2 L322.6 75.2 L324.8 75.2 L324.8 55.9 L325.5 55.9 L325.5 88.5 L326.8 88.5 L326.8 75.2 L328.4 75.2 L328.4 55.9 L329.0 55.9 L329.0 90.2 L330.0 90.2 L330.0 64.4 L331.2 64.4" fill="none" stroke="#0000ff" stroke-width="1.25" stroke-linejoin="miter"/>
<path d="M56.3 140.0 L56.3 53.5 L57.0 53.5 L57.0 143.0 L57.6 143.0 L57.6 101.0 L59.0 101.0 L59.0 119.7 L60.3 119.7 L60.3 59.9 L65.3 59.9 L65.3 55.9 L70.2 55.9 L70.2 62.3 L72.6 62.3 L72.6 68.4 L77.8 68.4 L77.8 77.3 L78.5 77.3 L78.5 64.0 L79.3 64.0 L79.3 76.0 L80.0 76.0 L80.0 62.3 L82.0 62.3 L82.0 70.0 L83.0 70.0 L83.0 62.3 L84.5 62.3 L84.5 71.2 L89.9 71.2 L89.9 53.5 L97.2 53.5 L97.2 81.7 L97.8 81.7 L97.8 57.5 L109.5 57.5 L109.5 73.2 L115.2 73.2 L115.2 64.4 L116.8 64.4 L116.8 73.2 L121.6 73.2 L121.6 59.9 L122.2 59.9 L122.2 73.2 L126.9 73.2 L126.9 53.0 L130.5 53.0 L130.5 59.9 L135.3 59.9 L135.3 68.8 L139.4 68.8 L139.4 77.3 L145.0 77.3 L145.0 90.6 L145.8 90.6 L145.8 62.3 L149.5 62.3 L149.5 60.3 L150.0 60.3 L150.0 69.0 L152.0 69.0 L152.0 58.3 L153.7 58.3 L153.7 70.8 L172.5 70.8 L172.5 58.3 L173.0 58.3 L173.0 81.7 L173.5 81.7 L173.5 70.8 L181.9 70.8 L181.9 55.9 L182.5 55.9 L182.5 72.8 L188.2 72.8 L188.2 64.4 L194.7 64.4 L194.7 53.5 L195.9 53.5 L195.9 71.2 L200.3 71.2 L200.3 55.9 L204.4 55.9 L204.4 62.3 L223.3 62.3 L223.3 55.5 L236.5 55.5 L236.5 59.9 L248.1 59.9 L248.1 68.8 L252.6 68.8 L252.6 59.9 L257.4 59.9 L257.4 64.4 L266.3 64.4 L266.3 60.3 L268.7 60.3 L268.7 55.9 L269.2 55.9 L269.2 66.4 L280.6 66.4 L280.6 64.4 L285.9 64.4 L285.9 57.9 L294.0 57.9 L294.0 64.4 L300.8 64.4 L300.8 83.7 L305.2 83.7 L305.2 55.9 L311.8 55.9 L311.8 59.9 L315.5 59.9 L315.5 73.2 L319.1 73.2 L319.1 66.4 L321.5 66.4 L321.5 77.3 L326.4 77.3 L326.4 81.7 L330.8 81.7 L330.8 58.3 L331.2 58.3" fill="none" stroke="#ffa500" stroke-width="1.25" stroke-linejoin="miter"/>
<rect x="42.50" y="47.80" width="302.70" height="225.40" fill="none" stroke="#333333" stroke-width="1.0"/>
<line x1="39.50" y1="267.20" x2="42.50" y2="267.20" stroke="#333333" stroke-width="0.9"/>
<text x="36.20" y="271.10" font-size="10.6" fill="#1a1a1a" stroke="#1a1a1a" stroke-width="0.1" text-anchor="end" textLength="6.60" lengthAdjust="spacingAndGlyphs">0</text>
<line x1="39.50" y1="224.60" x2="42.50" y2="224.60" stroke="#333333" stroke-width="0.9"/>
<text x="36.20" y="228.50" font-size="10.6" fill="#1a1a1a" stroke="#1a1a1a" stroke-width="0.1" text-anchor="end" textLength="13.20" lengthAdjust="spacingAndGlyphs">20</text>
<line x1="39.50" y1="182.00" x2="42.50" y2="182.00" stroke="#333333" stroke-width="0.9"/>
<text x="36.20" y="185.90" font-size="10.6" fill="#1a1a1a" stroke="#1a1a1a" stroke-width="0.1" text-anchor="end" textLength="13.20" lengthAdjust="spacingAndGlyphs">40</text>
<line x1="39.50" y1="139.40" x2="42.50" y2="139.40" stroke="#333333" stroke-width="0.9"/>
<text x="36.20" y="143.30" font-size="10.6" fill="#1a1a1a" stroke="#1a1a1a" stroke-width="0.1" text-anchor="end" textLength="13.20" lengthAdjust="spacingAndGlyphs">60</text>
<line x1="39.50" y1="96.80" x2="42.50" y2="96.80" stroke="#333333" stroke-width="0.9"/>
<text x="36.20" y="100.70" font-size="10.6" fill="#1a1a1a" stroke="#1a1a1a" stroke-width="0.1" text-anchor="end" textLength="13.20" lengthAdjust="spacingAndGlyphs">80</text>
<line x1="39.50" y1="54.20" x2="42.50" y2="54.20" stroke="#333333" stroke-width="0.9"/>
<text x="36.20" y="58.10" font-size="10.6" fill="#1a1a1a" stroke="#1a1a1a" stroke-width="0.1" text-anchor="end" textLength="19.80" lengthAdjust="spacingAndGlyphs">100</text>
<line x1="56.30" y1="273.20" x2="56.30" y2="276.20" stroke="#333333" stroke-width="0.9"/>
<text x="56.30" y="288.20" font-size="10.6" fill="#1a1a1a" stroke="#1a1a1a" stroke-width="0.1" text-anchor="middle" textLength="6.60" lengthAdjust="spacingAndGlyphs">0</text>
<line x1="111.30" y1="273.20" x2="111.30" y2="276.20" stroke="#333333" stroke-width="0.9"/>
<text x="111.30" y="288.20" font-size="10.6" fill="#1a1a1a" stroke="#1a1a1a" stroke-width="0.1" text-anchor="middle" textLength="19.80" lengthAdjust="spacingAndGlyphs">500</text>
<line x1="166.30" y1="273.20" x2="166.30" y2="276.20" stroke="#333333" stroke-width="0.9"/>
<text x="166.30" y="288.20" font-size="10.6" fill="#1a1a1a" stroke="#1a1a1a" stroke-width="0.1" text-anchor="middle" textLength="26.60" lengthAdjust="spacingAndGlyphs">1000</text>
<line x1="221.30" y1="273.20" x2="221.30" y2="276.20" stroke="#333333" stroke-width="0.9"/>
<text x="221.30" y="288.20" font-size="10.6" fill="#1a1a1a" stroke="#1a1a1a" stroke-width="0.1" text-anchor="middle" textLength="26.60" lengthAdjust="spacingAndGlyphs">1500</text>
<line x1="276.30" y1="273.20" x2="276.30" y2="276.20" stroke="#333333" stroke-width="0.9"/>
<text x="276.30" y="288.20" font-size="10.6" fill="#1a1a1a" stroke="#1a1a1a" stroke-width="0.1" text-anchor="middle" textLength="26.60" lengthAdjust="spacingAndGlyphs">2000</text>
<line x1="331.30" y1="273.20" x2="331.30" y2="276.20" stroke="#333333" stroke-width="0.9"/>
<text x="331.30" y="288.20" font-size="10.6" fill="#1a1a1a" stroke="#1a1a1a" stroke-width="0.1" text-anchor="middle" textLength="26.60" lengthAdjust="spacingAndGlyphs">2500</text>
<text x="194.35" y="301.70" font-size="11" fill="#1a1a1a" stroke="#1a1a1a" stroke-width="0.1" text-anchor="middle" textLength="59.00" lengthAdjust="spacingAndGlyphs">Time steps</text>
<text x="9.30" y="160.50" font-size="11" fill="#1a1a1a" stroke="#1a1a1a" stroke-width="0.1" text-anchor="middle" textLength="64.00" lengthAdjust="spacingAndGlyphs" transform="rotate(-90 9.30 160.50)">Claim value</text>
<rect x="303.70" y="29.30" width="42.30" height="17.70" rx="2.5" fill="#e5e5e5" stroke="#6e6e6e" stroke-width="1"/>
<text x="324.85" y="41.10" font-size="10.0" fill="#1a1a1a" text-anchor="middle" textLength="34.50" lengthAdjust="spacingAndGlyphs"><tspan font-style="italic">β</tspan> = 1.0</text>
<text x="287.00" y="155.60" font-size="14" fill="#1f1fff" stroke="#1f1fff" stroke-width="0.1" textLength="50.00" lengthAdjust="spacingAndGlyphs">Player 1</text>
<text x="287.00" y="173.30" font-size="14" fill="#ffa11a" stroke="#ffa11a" stroke-width="0.1" textLength="51.50" lengthAdjust="spacingAndGlyphs">Player 2</text>
<path d="M451.7 182.4 L452.1 182.4 L452.1 143.9 L453.8 143.9 L453.8 86.1 L455.5 86.1 L455.5 98.9 L455.7 98.9 L455.7 116.1 L455.8 116.1 L455.8 152.4 L455.9 152.4 L455.9 88.2 L459.7 88.2 L459.7 58.3 L462.1 58.3 L462.1 105.4 L462.2 105.4 L462.2 201.7 L463.3 201.7 L463.3 62.6 L465.1 62.6 L465.1 120.3 L465.2 120.3 L465.2 126.8 L465.3 126.8 L465.3 128.9 L465.4 128.9 L465.4 133.2 L465.6 133.2 L465.6 141.7 L465.7 141.7 L465.7 109.6 L466.7 109.6 L466.7 218.8 L467.8 218.8 L467.8 158.9 L468.3 158.9 L468.3 75.4 L468.8 75.4 L468.8 60.4 L470.3 60.4 L470.3 64.7 L470.4 64.7 L470.4 124.6 L471.0 124.6 L471.0 107.5 L471.6 107.5 L471.6 109.6 L471.8 109.6 L471.8 79.7 L474.6 79.7 L474.6 94.7 L475.3 94.7 L475.3 126.8 L476.9 126.8 L476.9 86.1 L477.7 86.1 L477.7 62.6 L478.5 62.6 L478.5 173.8 L479.6 173.8 L479.6 62.6 L480.0 62.6 L480.0 103.2 L481.9 103.2 L481.9 143.9 L482.9 143.9 L482.9 96.8 L483.8 96.8 L483.8 66.8 L492.1 66.8 L492.1 73.3 L493.8 73.3 L493.8 148.2 L497.7 148.2 L497.7 124.6 L499.1 124.6 L499.1 60.4 L500.9 60.4 L500.9 64.7 L501.4 64.7 L501.4 66.8 L503.1 66.8 L503.1 96.8 L503.3 96.8 L503.3 131.0 L503.7 131.0 L503.7 182.4 L504.8 182.4 L504.8 131.0 L506.0 131.0 L506.0 64.7 L508.3 64.7 L508.3 58.3 L511.2 58.3 L511.2 88.2 L512.2 88.2 L512.2 143.9 L512.4 143.9 L512.4 69.0 L514.9 69.0 L514.9 187.8 L516.0 187.8 L516.0 69.0 L518.8 69.0 L518.8 118.2 L522.8 118.2 L522.8 156.7 L523.6 156.7 L523.6 146.0 L523.7 146.0 L523.7 116.1 L523.8 116.1 L523.8 105.4 L523.9 105.4 L523.9 141.7 L524.4 141.7 L524.4 148.2 L524.5 148.2 L524.5 124.6 L524.7 124.6 L524.7 120.3 L524.8 120.3 L524.8 141.7 L524.9 141.7 L524.9 133.2 L525.5 133.2 L525.5 98.9 L525.7 98.9 L525.7 90.4 L525.9 90.4 L525.9 124.6 L526.0 124.6 L526.0 103.2 L526.7 103.2 L526.7 54.0 L534.9 54.0 L534.9 122.5 L535.2 122.5 L535.2 88.2 L537.2 88.2 L537.2 69.0 L537.5 69.0 L537.5 86.1 L538.0 86.1 L538.0 79.7 L540.0 79.7 L540.0 101.1 L540.2 101.1 L540.2 88.2 L540.7 88.2 L540.7 116.1 L542.2 116.1 L542.2 86.1 L542.6 86.1 L542.6 77.5 L543.4 77.5 L543.4 71.1 L543.7 71.1 L543.7 90.4 L545.5 90.4 L545.5 103.2 L547.2 103.2 L547.2 105.4 L548.0 105.4 L548.0 77.5 L548.6 77.5 L548.6 158.9 L550.3 158.9 L550.3 69.0 L552.2 69.0 L552.2 111.8 L553.1 111.8 L553.1 118.2 L554.4 118.2 L554.4 86.1 L555.2 86.1 L555.2 135.3 L556.6 135.3 L556.6 64.7 L557.5 64.7 L557.5 98.9 L558.1 98.9 L558.1 75.4 L559.5 75.4 L559.5 152.4 L561.4 152.4 L561.4 146.0 L562.5 146.0 L562.5 66.8 L564.4 66.8 L564.4 152.4 L565.8 152.4 L565.8 84.0 L567.6 84.0 L567.6 161.0 L568.6 161.0 L568.6 135.3 L569.6 135.3 L569.6 133.2 L571.0 133.2 L571.0 73.3 L572.3 73.3 L572.3 128.9 L572.9 128.9 L572.9 139.6 L574.2 139.6 L574.2 158.9 L576.2 158.9 L576.2 131.0 L577.8 131.0 L577.8 71.1 L577.9 71.1 L577.9 197.4 L579.0 197.4 L579.0 71.1 L579.2 71.1 L579.2 105.4 L580.2 105.4 L580.2 158.9 L581.8 158.9 L581.8 152.4 L583.3 152.4 L583.3 135.3 L584.0 135.3 L584.0 81.8 L584.8 81.8 L584.8 141.7 L586.1 141.7 L586.1 161.0 L587.5 161.0 L587.5 235.9 L588.6 235.9 L588.6 58.3 L589.0 58.3 L589.0 81.8 L589.6 81.8 L589.6 58.3 L590.1 58.3 L590.1 66.8 L592.0 66.8 L592.0 69.0 L593.4 69.0 L593.4 75.4 L594.3 75.4 L594.3 71.1 L598.1 71.1 L598.1 58.3 L598.2 58.3 L598.2 66.8 L599.2 66.8 L599.2 79.7 L601.5 79.7 L601.5 77.5 L604.6 77.5 L604.6 109.6 L607.3 109.6 L607.3 188.8 L608.4 188.8 L608.4 109.6 L610.3 109.6 L610.3 75.4 L610.5 75.4 L610.5 124.6 L614.0 124.6 L614.0 156.7 L615.1 156.7 L615.1 113.9 L615.8 113.9 L615.8 109.6 L618.2 109.6 L618.2 86.1 L619.2 86.1 L619.2 79.7 L621.0 79.7 L621.0 60.4 L622.1 60.4 L622.1 75.4 L623.2 75.4 L623.2 150.3 L624.3 150.3 L624.3 75.4 L627.5 75.4 L627.5 86.1 L628.1 86.1 L628.1 58.3 L631.4 58.3 L631.4 81.8 L635.3 81.8 L635.3 111.8 L636.8 111.8 L636.8 79.7 L638.4 79.7 L638.4 137.5 L638.5 137.5 L638.5 131.0 L638.6 131.0 L638.6 143.9 L638.7 143.9 L638.7 107.5 L638.8 107.5 L638.8 113.9 L639.0 113.9 L639.0 150.3 L639.1 150.3 L639.1 135.3 L639.2 135.3 L639.2 118.2 L639.3 118.2 L639.3 135.3 L639.4 135.3 L639.4 126.8 L639.5 126.8 L639.5 120.3 L639.6 120.3 L639.6 116.1 L639.7 116.1 L639.7 137.5 L639.8 137.5 L639.8 156.7 L639.9 156.7 L639.9 118.2 L640.1 118.2 L640.1 133.2 L640.2 133.2 L640.2 120.3 L640.3 120.3 L640.3 109.6 L640.4 109.6 L640.4 126.8 L640.5 126.8 L640.5 120.3 L640.7 120.3 L640.7 109.6 L640.8 109.6 L640.8 120.3 L640.9 120.3 L640.9 56.1 L643.8 56.1 L643.8 105.4 L644.7 105.4 L644.7 156.7 L645.6 156.7 L645.6 60.4 L646.7 60.4 L646.7 77.5 L648.6 77.5 L648.6 92.5 L650.6 92.5 L650.6 66.8 L652.1 66.8 L652.1 105.4 L653.6 105.4 L653.6 98.9 L654.8 98.9 L654.8 141.7 L658.8 141.7 L658.8 58.3 L659.8 58.3 L659.8 107.5 L662.2 107.5 L662.2 105.4 L662.8 105.4 L662.8 81.8 L663.8 81.8 L663.8 96.8 L667.1 96.8 L667.1 75.4 L669.3 75.4 L669.3 105.4 L670.2 105.4 L670.2 90.4 L671.0 90.4 L671.0 88.2 L675.2 88.2 L675.2 152.4 L675.3 152.4 L675.3 137.5 L675.4 137.5 L675.4 150.3 L675.5 150.3 L675.5 118.2 L675.6 118.2 L675.6 139.6 L675.7 139.6 L675.7 143.9 L675.8 143.9 L675.8 113.9 L676.0 113.9 L676.0 141.7 L676.1 141.7 L676.1 133.2 L676.2 133.2 L676.2 124.6 L676.3 124.6 L676.3 101.1 L676.4 101.1 L676.4 148.2 L676.5 148.2 L676.5 120.3 L676.6 120.3 L676.6 122.5 L676.7 122.5 L676.7 124.6 L676.8 124.6 L676.8 105.4 L677.0 105.4 L677.0 124.6 L677.1 124.6 L677.1 107.5 L677.2 107.5 L677.2 131.0 L677.7 131.0 L677.7 124.6 L679.1 124.6 L679.1 156.7 L679.4 156.7 L679.4 124.6 L679.5 124.6 L679.5 139.6 L679.6 139.6 L679.6 98.9 L679.7 98.9 L679.7 148.2 L679.8 148.2 L679.8 98.9 L680.1 98.9 L680.1 69.0 L683.2 69.0 L683.2 58.3 L684.6 58.3 L684.6 154.6 L684.7 154.6 L684.7 141.7 L684.8 141.7 L684.8 54.0 L686.5 54.0 L686.5 62.6 L688.7 62.6 L688.7 111.8 L689.7 111.8 L689.7 116.1 L694.7 116.1 L694.7 96.8 L696.2 96.8 L696.2 98.9 L697.3 98.9 L697.3 161.0 L698.5 161.0 L698.5 88.2 L699.6 88.2 L699.6 71.1 L700.9 71.1 L700.9 73.3 L703.0 73.3 L703.0 214.5 L704.1 214.5 L704.1 73.3 L704.7 73.3 L704.7 66.8 L705.5 66.8 L705.5 88.2 L705.8 88.2 L705.8 60.4 L716.7 60.4 L716.7 64.7 L717.3 64.7 L717.3 111.8 L718.2 111.8 L718.2 90.4 L718.5 90.4 L718.5 128.9 L719.6 128.9 L719.6 131.0 L720.5 131.0 L720.5 84.0 L722.7 84.0 L722.7 141.7 L725.3 141.7 L725.3 133.2 L725.6 133.2 L725.6 56.1 L726.2 56.1 L726.2 105.4 L726.6 105.4 L726.6 69.0 L726.9 69.0 L726.9 81.8 L728.6 81.8" fill="none" stroke="#0000ff" stroke-width="1.25" stroke-linejoin="miter"/>
<path d="M451.7 64.7 L451.8 64.7 L451.8 131.0 L452.4 131.0 L452.4 86.1 L452.9 86.1 L452.9 98.9 L453.6 98.9 L453.6 156.7 L454.4 156.7 L454.4 120.3 L456.4 120.3 L456.4 161.0 L456.5 161.0 L456.5 81.8 L458.3 81.8 L458.3 73.3 L460.0 73.3 L460.0 113.9 L460.7 113.9 L460.7 116.1 L461.6 116.1 L461.6 101.1 L462.7 101.1 L462.7 131.0 L463.1 131.0 L463.1 77.5 L463.7 77.5 L463.7 173.8 L464.8 173.8 L464.8 92.5 L465.3 92.5 L465.3 135.3 L466.5 135.3 L466.5 118.2 L466.7 118.2 L466.7 178.1 L467.8 178.1 L467.8 126.8 L468.9 126.8 L468.9 81.8 L469.4 81.8 L469.4 64.7 L471.0 64.7 L471.0 86.1 L471.8 86.1 L471.8 101.1 L472.8 101.1 L472.8 64.7 L473.7 64.7 L473.7 103.2 L476.7 103.2 L476.7 90.4 L477.8 90.4 L477.8 88.2 L480.3 88.2 L480.3 118.2 L480.4 118.2 L480.4 79.7 L480.5 79.7 L480.5 84.0 L481.7 84.0 L481.7 66.8 L482.3 66.8 L482.3 69.0 L486.5 69.0 L486.5 58.3 L486.7 58.3 L486.7 54.0 L491.5 54.0 L491.5 81.8 L492.0 81.8 L492.0 88.2 L493.1 88.2 L493.1 86.1 L493.5 86.1 L493.5 94.7 L495.6 94.7 L495.6 86.1 L495.7 86.1 L495.7 150.3 L497.3 150.3 L497.3 116.1 L497.5 116.1 L497.5 154.6 L497.6 154.6 L497.6 139.6 L497.7 139.6 L497.7 113.9 L497.8 113.9 L497.8 139.6 L497.9 139.6 L497.9 103.2 L498.0 103.2 L498.0 94.7 L498.8 94.7 L498.8 79.7 L499.3 79.7 L499.3 98.9 L499.5 98.9 L499.5 64.7 L500.0 64.7 L500.0 156.7 L501.1 156.7 L501.1 64.7 L504.8 64.7 L504.8 150.3 L504.9 150.3 L504.9 77.5 L505.5 77.5 L505.5 137.5 L505.7 137.5 L505.7 109.6 L505.8 109.6 L505.8 94.7 L507.7 94.7 L507.7 69.0 L509.3 69.0 L509.3 71.1 L512.0 71.1 L512.0 131.0 L512.6 131.0 L512.6 77.5 L513.9 77.5 L513.9 62.6 L519.8 62.6 L519.8 79.7 L520.0 79.7 L520.0 158.9 L521.0 158.9 L521.0 133.2 L521.1 133.2 L521.1 56.1 L521.5 56.1 L521.5 118.2 L522.2 118.2 L522.2 94.7 L523.4 94.7 L523.4 143.9 L523.5 143.9 L523.5 124.6 L523.6 124.6 L523.6 152.4 L523.7 152.4 L523.7 139.6 L523.8 139.6 L523.8 98.9 L523.9 98.9 L523.9 105.4 L524.1 105.4 L524.1 131.0 L524.2 131.0 L524.2 122.5 L524.3 122.5 L524.3 113.9 L524.4 113.9 L524.4 150.3 L524.5 150.3 L524.5 139.6 L525.0 139.6 L525.0 77.5 L526.5 77.5 L526.5 98.9 L526.8 98.9 L526.8 116.1 L527.2 116.1 L527.2 94.7 L527.4 94.7 L527.4 113.9 L527.8 113.9 L527.8 69.0 L530.8 69.0 L530.8 81.8 L532.7 81.8 L532.7 167.4 L533.8 167.4 L533.8 81.8 L536.4 81.8 L536.4 77.5 L536.6 77.5 L536.6 69.0 L537.1 69.0 L537.1 173.8 L538.2 173.8 L538.2 69.0 L541.9 69.0 L541.9 197.4 L543.0 197.4 L543.0 69.0 L544.4 69.0 L544.4 64.7 L545.0 64.7 L545.0 146.0 L545.5 146.0 L545.5 69.0 L546.9 69.0 L546.9 111.8 L547.5 111.8 L547.5 212.4 L548.6 212.4 L548.6 56.1 L550.2 56.1 L550.2 135.3 L550.3 135.3 L550.3 101.1 L550.4 101.1 L550.4 103.2 L550.5 103.2 L550.5 141.7 L550.6 141.7 L550.6 101.1 L550.8 101.1 L550.8 98.9 L550.9 98.9 L550.9 103.2 L551.0 103.2 L551.0 137.5 L551.1 137.5 L551.1 116.1 L551.2 116.1 L551.2 120.3 L551.3 120.3 L551.3 154.6 L551.4 154.6 L551.4 111.8 L551.5 111.8 L551.5 152.4 L551.6 152.4 L551.6 69.0 L553.0 69.0 L553.0 107.5 L553.4 107.5 L553.4 124.6 L553.5 124.6 L553.5 113.9 L553.6 113.9 L553.6 116.1 L553.7 116.1 L553.7 103.2 L554.0 103.2 L554.0 111.8 L554.1 111.8 L554.1 103.2 L554.2 103.2 L554.2 98.9 L554.3 98.9 L554.3 133.2 L554.4 133.2 L554.4 111.8 L554.5 111.8 L554.5 156.7 L554.6 156.7 L554.6 98.9 L554.7 98.9 L554.7 131.0 L554.9 131.0 L554.9 105.4 L555.1 105.4 L555.1 133.2 L555.2 133.2 L555.2 156.7 L555.3 156.7 L555.3 131.0 L555.4 131.0 L555.4 113.9 L555.5 113.9 L555.5 154.6 L555.6 154.6 L555.6 139.6 L555.7 139.6 L555.7 148.2 L555.9 148.2 L555.9 113.9 L556.0 113.9 L556.0 122.5 L556.1 122.5 L556.1 131.0 L556.2 131.0 L556.2 54.0 L557.5 54.0 L557.5 191.0 L558.6 191.0 L558.6 84.0 L561.2 84.0 L561.2 73.3 L561.8 73.3 L561.8 56.1 L563.8 56.1 L563.8 225.2 L564.9 225.2 L564.9 109.6 L565.0 109.6 L565.0 135.3 L565.9 135.3 L565.9 122.5 L566.3 122.5 L566.3 62.6 L571.8 62.6 L571.8 56.1 L572.5 56.1 L572.5 118.2 L572.8 118.2 L572.8 81.8 L575.6 81.8 L575.6 75.4 L578.0 75.4 L578.0 118.2 L578.2 118.2 L578.2 111.8 L578.3 111.8 L578.3 62.6 L582.3 62.6 L582.3 98.9 L583.4 98.9 L583.4 94.7 L584.0 94.7 L584.0 103.2 L584.7 103.2 L584.7 88.2 L587.5 88.2 L587.5 208.1 L588.6 208.1 L588.6 81.8 L589.8 81.8 L589.8 79.7 L590.0 79.7 L590.0 54.0 L592.4 54.0 L592.4 111.8 L592.5 111.8 L592.5 156.7 L592.6 156.7 L592.6 86.1 L593.2 86.1 L593.2 126.8 L596.2 126.8 L596.2 216.6 L597.3 216.6 L597.3 126.8 L597.8 126.8 L597.8 131.0 L598.4 131.0 L598.4 111.8 L601.2 111.8 L601.2 60.4 L602.5 60.4 L602.5 81.8 L609.9 81.8 L609.9 120.3 L612.6 120.3 L612.6 116.1 L614.4 116.1 L614.4 75.4 L615.5 75.4 L615.5 135.3 L615.7 135.3 L615.7 96.8 L615.8 96.8 L615.8 238.0 L616.9 238.0 L616.9 96.8 L620.1 96.8 L620.1 107.5 L620.7 107.5 L620.7 58.3 L624.0 58.3 L624.0 195.2 L625.1 195.2 L625.1 58.3 L625.7 58.3 L625.7 84.0 L627.8 84.0 L627.8 62.6 L631.9 62.6 L631.9 64.7 L634.4 64.7 L634.4 96.8 L634.6 96.8 L634.6 111.8 L636.7 111.8 L636.7 58.3 L638.3 58.3 L638.3 120.3 L638.4 120.3 L638.4 118.2 L638.5 118.2 L638.5 133.2 L638.6 133.2 L638.6 150.3 L638.7 150.3 L638.7 103.2 L638.8 103.2 L638.8 88.2 L639.8 88.2 L639.8 120.3 L645.2 120.3 L645.2 146.0 L645.3 146.0 L645.3 131.0 L645.4 131.0 L645.4 126.8 L645.5 126.8 L645.5 62.6 L648.4 62.6 L648.4 75.4 L649.3 75.4 L649.3 71.1 L649.4 71.1 L649.4 101.1 L649.8 101.1 L649.8 56.1 L651.3 56.1 L651.3 77.5 L652.8 77.5 L652.8 156.7 L652.9 156.7 L652.9 111.8 L653.0 111.8 L653.0 101.1 L653.1 101.1 L653.1 116.1 L653.2 116.1 L653.2 152.4 L653.7 152.4 L653.7 105.4 L654.0 105.4 L654.0 208.1 L655.1 208.1 L655.1 154.6 L655.7 154.6 L655.7 62.6 L655.9 62.6 L655.9 161.0 L656.1 161.0 L656.1 128.9 L656.9 128.9 L656.9 84.0 L657.6 84.0 L657.6 96.8 L662.7 96.8 L662.7 86.1 L666.2 86.1 L666.2 64.7 L667.6 64.7 L667.6 54.0 L667.8 54.0 L667.8 88.2 L669.9 88.2 L669.9 90.4 L671.0 90.4 L671.0 139.6 L672.2 139.6 L672.2 103.2 L674.1 103.2 L674.1 107.5 L675.3 107.5 L675.3 146.0 L676.2 146.0 L676.2 124.6 L677.0 124.6 L677.0 118.2 L677.6 118.2 L677.6 143.9 L678.2 143.9 L678.2 139.6 L679.6 139.6 L679.6 124.6 L681.7 124.6 L681.7 131.0 L683.3 131.0 L683.3 75.4 L683.8 75.4 L683.8 113.9 L684.4 113.9 L684.4 109.6 L684.5 109.6 L684.5 88.2 L685.7 88.2 L685.7 81.8 L686.7 81.8 L686.7 69.0 L688.8 69.0 L688.8 135.3 L689.3 135.3 L689.3 56.1 L690.1 56.1 L690.1 107.5 L692.2 107.5 L692.2 141.7 L692.9 141.7 L692.9 71.1 L693.1 71.1 L693.1 58.3 L697.1 58.3 L697.1 98.9 L698.2 98.9 L698.2 79.7 L699.0 79.7 L699.0 75.4 L701.1 75.4 L701.1 180.3 L702.2 180.3 L702.2 75.4 L713.3 75.4 L713.3 158.9 L714.4 158.9 L714.4 86.1 L714.6 86.1 L714.6 54.0 L716.2 54.0 L716.2 56.1 L716.5 56.1 L716.5 77.5 L717.6 77.5 L717.6 131.0 L718.9 131.0 L718.9 94.7 L720.2 94.7 L720.2 54.0 L721.8 54.0 L721.8 79.7 L722.4 79.7 L722.4 156.7 L723.3 156.7 L723.3 122.5 L723.5 122.5 L723.5 135.3 L723.6 135.3 L723.6 118.2 L723.7 118.2 L723.7 152.4 L723.8 152.4 L723.8 133.2 L723.9 133.2 L723.9 118.2 L724.0 118.2 L724.0 98.9 L724.2 98.9 L724.2 107.5 L724.3 107.5 L724.3 90.4 L728.6 90.4" fill="none" stroke="#ffa500" stroke-width="1.25" stroke-linejoin="miter"/>
<rect x="437.80" y="47.60" width="305.30" height="226.70" fill="none" stroke="#333333" stroke-width="1.0"/>
<line x1="434.80" y1="268.00" x2="437.80" y2="268.00" stroke="#333333" stroke-width="0.9"/>
<text x="431.50" y="271.90" font-size="10.6" fill="#1a1a1a" stroke="#1a1a1a" stroke-width="0.1" text-anchor="end" textLength="6.60" lengthAdjust="spacingAndGlyphs">0</text>
<line x1="434.80" y1="225.20" x2="437.80" y2="225.20" stroke="#333333" stroke-width="0.9"/>
<text x="431.50" y="229.10" font-size="10.6" fill="#1a1a1a" stroke="#1a1a1a" stroke-width="0.1" text-anchor="end" textLength="13.20" lengthAdjust="spacingAndGlyphs">20</text>
<line x1="434.80" y1="182.40" x2="437.80" y2="182.40" stroke="#333333" stroke-width="0.9"/>
<text x="431.50" y="186.30" font-size="10.6" fill="#1a1a1a" stroke="#1a1a1a" stroke-width="0.1" text-anchor="end" textLength="13.20" lengthAdjust="spacingAndGlyphs">40</text>
<line x1="434.80" y1="139.60" x2="437.80" y2="139.60" stroke="#333333" stroke-width="0.9"/>
<text x="431.50" y="143.50" font-size="10.6" fill="#1a1a1a" stroke="#1a1a1a" stroke-width="0.1" text-anchor="end" textLength="13.20" lengthAdjust="spacingAndGlyphs">60</text>
<line x1="434.80" y1="96.80" x2="437.80" y2="96.80" stroke="#333333" stroke-width="0.9"/>
<text x="431.50" y="100.70" font-size="10.6" fill="#1a1a1a" stroke="#1a1a1a" stroke-width="0.1" text-anchor="end" textLength="13.20" lengthAdjust="spacingAndGlyphs">80</text>
<line x1="434.80" y1="54.00" x2="437.80" y2="54.00" stroke="#333333" stroke-width="0.9"/>
<text x="431.50" y="57.90" font-size="10.6" fill="#1a1a1a" stroke="#1a1a1a" stroke-width="0.1" text-anchor="end" textLength="19.80" lengthAdjust="spacingAndGlyphs">100</text>
<line x1="451.70" y1="274.30" x2="451.70" y2="277.30" stroke="#333333" stroke-width="0.9"/>
<text x="451.70" y="289.30" font-size="10.6" fill="#1a1a1a" stroke="#1a1a1a" stroke-width="0.1" text-anchor="middle" textLength="6.60" lengthAdjust="spacingAndGlyphs">0</text>
<line x1="507.10" y1="274.30" x2="507.10" y2="277.30" stroke="#333333" stroke-width="0.9"/>
<text x="507.10" y="289.30" font-size="10.6" fill="#1a1a1a" stroke="#1a1a1a" stroke-width="0.1" text-anchor="middle" textLength="19.80" lengthAdjust="spacingAndGlyphs">500</text>
<line x1="562.50" y1="274.30" x2="562.50" y2="277.30" stroke="#333333" stroke-width="0.9"/>
<text x="562.50" y="289.30" font-size="10.6" fill="#1a1a1a" stroke="#1a1a1a" stroke-width="0.1" text-anchor="middle" textLength="26.60" lengthAdjust="spacingAndGlyphs">1000</text>
<line x1="617.90" y1="274.30" x2="617.90" y2="277.30" stroke="#333333" stroke-width="0.9"/>
<text x="617.90" y="289.30" font-size="10.6" fill="#1a1a1a" stroke="#1a1a1a" stroke-width="0.1" text-anchor="middle" textLength="26.60" lengthAdjust="spacingAndGlyphs">1500</text>
<line x1="673.30" y1="274.30" x2="673.30" y2="277.30" stroke="#333333" stroke-width="0.9"/>
<text x="673.30" y="289.30" font-size="10.6" fill="#1a1a1a" stroke="#1a1a1a" stroke-width="0.1" text-anchor="middle" textLength="26.60" lengthAdjust="spacingAndGlyphs">2000</text>
<line x1="728.70" y1="274.30" x2="728.70" y2="277.30" stroke="#333333" stroke-width="0.9"/>
<text x="728.70" y="289.30" font-size="10.6" fill="#1a1a1a" stroke="#1a1a1a" stroke-width="0.1" text-anchor="middle" textLength="26.60" lengthAdjust="spacingAndGlyphs">2500</text>
<text x="590.05" y="302.80" font-size="11" fill="#1a1a1a" stroke="#1a1a1a" stroke-width="0.1" text-anchor="middle" textLength="59.00" lengthAdjust="spacingAndGlyphs">Time steps</text>
<text x="404.30" y="160.95" font-size="11" fill="#1a1a1a" stroke="#1a1a1a" stroke-width="0.1" text-anchor="middle" textLength="64.00" lengthAdjust="spacingAndGlyphs" transform="rotate(-90 404.30 160.95)">Claim value</text>
<rect x="701.30" y="28.90" width="42.00" height="17.40" rx="2.5" fill="#e5e5e5" stroke="#6e6e6e" stroke-width="1"/>
<text x="722.30" y="40.70" font-size="10.0" fill="#1a1a1a" text-anchor="middle" textLength="34.50" lengthAdjust="spacingAndGlyphs"><tspan font-style="italic">β</tspan> = 0.1</text>
<g clip-path="url(#clip0)"><g filter="url(#hblur)">
<rect x="52.10" y="360.00" width="251.20" height="6.40" fill="url(#g1)"/>
<rect x="52.10" y="366.00" width="251.20" height="2.40" fill="url(#g2)"/>
<rect x="52.10" y="368.00" width="251.20" height="2.40" fill="url(#g3)"/>
<rect x="52.10" y="370.00" width="251.20" height="2.40" fill="url(#g4)"/>
<rect x="52.10" y="372.00" width="251.20" height="2.40" fill="url(#g5)"/>
<rect x="52.10" y="374.00" width="251.20" height="2.40" fill="url(#g6)"/>
<rect x="52.10" y="376.00" width="251.20" height="2.40" fill="url(#g7)"/>
<rect x="52.10" y="378.00" width="251.20" height="2.40" fill="url(#g8)"/>
<rect x="52.10" y="380.00" width="251.20" height="2.40" fill="url(#g9)"/>
<rect x="52.10" y="382.00" width="251.20" height="2.40" fill="url(#g10)"/>
<rect x="52.10" y="384.00" width="251.20" height="2.40" fill="url(#g11)"/>
<rect x="52.10" y="386.00" width="251.20" height="2.40" fill="url(#g12)"/>
<rect x="52.10" y="388.00" width="251.20" height="2.40" fill="url(#g13)"/>
<rect x="52.10" y="390.00" width="251.20" height="2.40" fill="url(#g14)"/>
<rect x="52.10" y="392.00" width="251.20" height="2.40" fill="url(#g15)"/>
<rect x="52.10" y="394.00" width="251.20" height="2.40" fill="url(#g16)"/>
<rect x="52.10" y="396.00" width="251.20" height="2.40" fill="url(#g17)"/>
<rect x="52.10" y="398.00" width="251.20" height="2.40" fill="url(#g18)"/>
<rect x="52.10" y="400.00" width="251.20" height="2.40" fill="url(#g19)"/>
<rect x="52.10" y="402.00" width="251.20" height="2.40" fill="url(#g20)"/>
<rect x="52.10" y="404.00" width="251.20" height="2.40" fill="url(#g21)"/>
<rect x="52.10" y="406.00" width="251.20" height="2.40" fill="url(#g22)"/>
<rect x="52.10" y="408.00" width="251.20" height="2.40" fill="url(#g23)"/>
<rect x="52.10" y="410.00" width="251.20" height="2.40" fill="url(#g24)"/>
<rect x="52.10" y="412.00" width="251.20" height="2.40" fill="url(#g25)"/>
<rect x="52.10" y="414.00" width="251.20" height="2.40" fill="url(#g26)"/>
<rect x="52.10" y="416.00" width="251.20" height="2.40" fill="url(#g27)"/>
<rect x="52.10" y="418.00" width="251.20" height="2.40" fill="url(#g28)"/>
<rect x="52.10" y="420.00" width="251.20" height="2.40" fill="url(#g29)"/>
<rect x="52.10" y="422.00" width="251.20" height="2.40" fill="url(#g30)"/>
<rect x="52.10" y="424.00" width="251.20" height="2.40" fill="url(#g31)"/>
<rect x="52.10" y="426.00" width="251.20" height="2.40" fill="url(#g32)"/>
<rect x="52.10" y="428.00" width="251.20" height="2.40" fill="url(#g33)"/>
<rect x="52.10" y="430.00" width="251.20" height="2.40" fill="url(#g34)"/>
<rect x="52.10" y="432.00" width="251.20" height="2.40" fill="url(#g35)"/>
<rect x="52.10" y="434.00" width="251.20" height="2.40" fill="url(#g36)"/>
<rect x="52.10" y="436.00" width="251.20" height="2.40" fill="url(#g37)"/>
<rect x="52.10" y="438.00" width="251.20" height="2.40" fill="url(#g38)"/>
<rect x="52.10" y="440.00" width="251.20" height="2.40" fill="url(#g39)"/>
<rect x="52.10" y="442.00" width="251.20" height="2.40" fill="url(#g40)"/>
<rect x="52.10" y="444.00" width="251.20" height="2.40" fill="url(#g41)"/>
<rect x="52.10" y="446.00" width="251.20" height="2.40" fill="url(#g42)"/>
<rect x="52.10" y="448.00" width="251.20" height="2.40" fill="url(#g43)"/>
<rect x="52.10" y="450.00" width="251.20" height="2.40" fill="url(#g44)"/>
<rect x="52.10" y="452.00" width="251.20" height="2.40" fill="url(#g45)"/>
<rect x="52.10" y="454.00" width="251.20" height="2.40" fill="url(#g46)"/>
<rect x="52.10" y="456.00" width="251.20" height="2.40" fill="url(#g47)"/>
<rect x="52.10" y="458.00" width="251.20" height="2.40" fill="url(#g48)"/>
<rect x="52.10" y="460.00" width="251.20" height="2.40" fill="url(#g49)"/>
<rect x="52.10" y="462.00" width="251.20" height="2.40" fill="url(#g50)"/>
<rect x="52.10" y="464.00" width="251.20" height="2.40" fill="url(#g51)"/>
<rect x="52.10" y="466.00" width="251.20" height="2.40" fill="url(#g52)"/>
<rect x="52.10" y="468.00" width="251.20" height="2.40" fill="url(#g53)"/>
<rect x="52.10" y="470.00" width="251.20" height="2.40" fill="url(#g54)"/>
<rect x="52.10" y="472.00" width="251.20" height="2.40" fill="url(#g55)"/>
<rect x="52.10" y="474.00" width="251.20" height="2.40" fill="url(#g56)"/>
<rect x="52.10" y="476.00" width="251.20" height="2.40" fill="url(#g57)"/>
<rect x="52.10" y="478.00" width="251.20" height="2.40" fill="url(#g58)"/>
<rect x="52.10" y="480.00" width="251.20" height="2.40" fill="url(#g59)"/>
<rect x="52.10" y="482.00" width="251.20" height="2.40" fill="url(#g60)"/>
<rect x="52.10" y="484.00" width="251.20" height="2.40" fill="url(#g61)"/>
<rect x="52.10" y="486.00" width="251.20" height="2.40" fill="url(#g62)"/>
<rect x="52.10" y="488.00" width="251.20" height="2.40" fill="url(#g63)"/>
<rect x="52.10" y="490.00" width="251.20" height="2.40" fill="url(#g64)"/>
<rect x="52.10" y="492.00" width="251.20" height="2.40" fill="url(#g65)"/>
<rect x="52.10" y="494.00" width="251.20" height="2.40" fill="url(#g66)"/>
<rect x="52.10" y="496.00" width="251.20" height="2.40" fill="url(#g67)"/>
<rect x="52.10" y="498.00" width="251.20" height="2.40" fill="url(#g68)"/>
<rect x="52.10" y="500.00" width="251.20" height="2.40" fill="url(#g69)"/>
<rect x="52.10" y="502.00" width="251.20" height="2.40" fill="url(#g70)"/>
<rect x="52.10" y="504.00" width="251.20" height="2.40" fill="url(#g71)"/>
<rect x="52.10" y="506.00" width="251.20" height="2.40" fill="url(#g72)"/>
<rect x="52.10" y="508.00" width="251.20" height="2.40" fill="url(#g73)"/>
<rect x="52.10" y="510.00" width="251.20" height="2.40" fill="url(#g74)"/>
<rect x="52.10" y="512.00" width="251.20" height="2.40" fill="url(#g75)"/>
<rect x="52.10" y="514.00" width="251.20" height="2.40" fill="url(#g76)"/>
<rect x="52.10" y="516.00" width="251.20" height="2.40" fill="url(#g77)"/>
<rect x="52.10" y="518.00" width="251.20" height="2.40" fill="url(#g78)"/>
<rect x="52.10" y="520.00" width="251.20" height="2.40" fill="url(#g79)"/>
<rect x="52.10" y="522.00" width="251.20" height="2.40" fill="url(#g80)"/>
<rect x="52.10" y="524.00" width="251.20" height="2.40" fill="url(#g81)"/>
<rect x="52.10" y="526.00" width="251.20" height="2.40" fill="url(#g82)"/>
<rect x="52.10" y="528.00" width="251.20" height="2.40" fill="url(#g83)"/>
<rect x="52.10" y="530.00" width="251.20" height="2.40" fill="url(#g84)"/>
<rect x="52.10" y="532.00" width="251.20" height="2.40" fill="url(#g85)"/>
<rect x="52.10" y="534.00" width="251.20" height="2.40" fill="url(#g86)"/>
<rect x="52.10" y="536.00" width="251.20" height="2.40" fill="url(#g87)"/>
<rect x="52.10" y="538.00" width="251.20" height="2.40" fill="url(#g88)"/>
<rect x="52.10" y="540.00" width="251.20" height="2.40" fill="url(#g89)"/>
<rect x="52.10" y="542.00" width="251.20" height="2.40" fill="url(#g90)"/>
<rect x="52.10" y="544.00" width="251.20" height="2.40" fill="url(#g91)"/>
<rect x="52.10" y="546.00" width="251.20" height="2.40" fill="url(#g92)"/>
<rect x="52.10" y="548.00" width="251.20" height="2.40" fill="url(#g93)"/>
<rect x="52.10" y="550.00" width="251.20" height="2.40" fill="url(#g94)"/>
<rect x="52.10" y="552.00" width="251.20" height="2.40" fill="url(#g95)"/>
<rect x="52.10" y="554.00" width="251.20" height="2.40" fill="url(#g96)"/>
<rect x="52.10" y="556.00" width="251.20" height="2.40" fill="url(#g97)"/>
<rect x="52.10" y="558.00" width="251.20" height="2.40" fill="url(#g98)"/>
<rect x="52.10" y="560.00" width="251.20" height="2.40" fill="url(#g99)"/>
<rect x="52.10" y="562.00" width="251.20" height="2.40" fill="url(#g100)"/>
<rect x="52.10" y="564.00" width="251.20" height="2.40" fill="url(#g101)"/>
<rect x="52.10" y="566.00" width="251.20" height="2.40" fill="url(#g102)"/>
<rect x="52.10" y="568.00" width="251.20" height="2.40" fill="url(#g103)"/>
<rect x="52.10" y="570.00" width="251.20" height="2.40" fill="url(#g104)"/>
<rect x="52.10" y="572.00" width="251.20" height="2.40" fill="url(#g105)"/>
<rect x="52.10" y="574.00" width="251.20" height="2.40" fill="url(#g106)"/>
<rect x="52.10" y="576.00" width="251.20" height="2.40" fill="url(#g107)"/>
<rect x="52.10" y="578.00" width="251.20" height="2.40" fill="url(#g108)"/>
<rect x="52.10" y="580.00" width="251.20" height="2.40" fill="url(#g109)"/>
<rect x="52.10" y="582.00" width="251.20" height="2.40" fill="url(#g110)"/>
<rect x="52.10" y="584.00" width="251.20" height="2.40" fill="url(#g111)"/>
<rect x="52.10" y="586.00" width="251.20" height="2.40" fill="url(#g112)"/>
<rect x="52.10" y="588.00" width="251.20" height="5.70" fill="url(#g113)"/>
</g></g>
<rect x="56.10" y="364.00" width="243.20" height="225.30" fill="none" stroke="#262626" stroke-width="0.9"/>
<line x1="53.10" y1="571.51" x2="56.10" y2="571.51" stroke="#333333" stroke-width="0.9"/>
<text x="49.90" y="574.21" font-size="8.8" fill="#1a1a1a" stroke="#1a1a1a" stroke-width="0.1" text-anchor="end" textLength="5.40" lengthAdjust="spacingAndGlyphs">5</text>
<line x1="53.10" y1="541.87" x2="56.10" y2="541.87" stroke="#333333" stroke-width="0.9"/>
<text x="49.90" y="544.57" font-size="8.8" fill="#1a1a1a" stroke="#1a1a1a" stroke-width="0.1" text-anchor="end" textLength="10.80" lengthAdjust="spacingAndGlyphs">10</text>
<line x1="53.10" y1="512.22" x2="56.10" y2="512.22" stroke="#333333" stroke-width="0.9"/>
<text x="49.90" y="514.92" font-size="8.8" fill="#1a1a1a" stroke="#1a1a1a" stroke-width="0.1" text-anchor="end" textLength="10.80" lengthAdjust="spacingAndGlyphs">15</text>
<line x1="53.10" y1="482.58" x2="56.10" y2="482.58" stroke="#333333" stroke-width="0.9"/>
<text x="49.90" y="485.28" font-size="8.8" fill="#1a1a1a" stroke="#1a1a1a" stroke-width="0.1" text-anchor="end" textLength="10.80" lengthAdjust="spacingAndGlyphs">20</text>
<line x1="53.10" y1="452.93" x2="56.10" y2="452.93" stroke="#333333" stroke-width="0.9"/>
<text x="49.90" y="455.63" font-size="8.8" fill="#1a1a1a" stroke="#1a1a1a" stroke-width="0.1" text-anchor="end" textLength="10.80" lengthAdjust="spacingAndGlyphs">25</text>
<line x1="53.10" y1="423.29" x2="56.10" y2="423.29" stroke="#333333" stroke-width="0.9"/>
<text x="49.90" y="425.99" font-size="8.8" fill="#1a1a1a" stroke="#1a1a1a" stroke-width="0.1" text-anchor="end" textLength="10.80" lengthAdjust="spacingAndGlyphs">30</text>
<line x1="53.10" y1="393.64" x2="56.10" y2="393.64" stroke="#333333" stroke-width="0.9"/>
<text x="49.90" y="396.34" font-size="8.8" fill="#1a1a1a" stroke="#1a1a1a" stroke-width="0.1" text-anchor="end" textLength="10.80" lengthAdjust="spacingAndGlyphs">35</text>
<line x1="53.10" y1="364.00" x2="56.10" y2="364.00" stroke="#333333" stroke-width="0.9"/>
<text x="49.90" y="366.70" font-size="8.8" fill="#1a1a1a" stroke="#1a1a1a" stroke-width="0.1" text-anchor="end" textLength="10.80" lengthAdjust="spacingAndGlyphs">40</text>
<line x1="56.10" y1="589.30" x2="56.10" y2="592.80" stroke="#333333" stroke-width="0.9"/>
<line x1="177.70" y1="589.30" x2="177.70" y2="592.80" stroke="#333333" stroke-width="0.9"/>
<line x1="299.30" y1="589.30" x2="299.30" y2="592.80" stroke="#333333" stroke-width="0.9"/>
<line x1="92.71" y1="589.30" x2="92.71" y2="591.30" stroke="#333333" stroke-width="0.7"/>
<line x1="114.12" y1="589.30" x2="114.12" y2="591.30" stroke="#333333" stroke-width="0.7"/>
<line x1="129.31" y1="589.30" x2="129.31" y2="591.30" stroke="#333333" stroke-width="0.7"/>
<line x1="141.09" y1="589.30" x2="141.09" y2="591.30" stroke="#333333" stroke-width="0.7"/>
<line x1="150.72" y1="589.30" x2="150.72" y2="591.30" stroke="#333333" stroke-width="0.7"/>
<line x1="158.86" y1="589.30" x2="158.86" y2="591.30" stroke="#333333" stroke-width="0.7"/>
<line x1="165.92" y1="589.30" x2="165.92" y2="591.30" stroke="#333333" stroke-width="0.7"/>
<line x1="172.14" y1="589.30" x2="172.14" y2="591.30" stroke="#333333" stroke-width="0.7"/>
<line x1="214.31" y1="589.30" x2="214.31" y2="591.30" stroke="#333333" stroke-width="0.7"/>
<line x1="235.72" y1="589.30" x2="235.72" y2="591.30" stroke="#333333" stroke-width="0.7"/>
<line x1="250.91" y1="589.30" x2="250.91" y2="591.30" stroke="#333333" stroke-width="0.7"/>
<line x1="262.69" y1="589.30" x2="262.69" y2="591.30" stroke="#333333" stroke-width="0.7"/>
<line x1="272.32" y1="589.30" x2="272.32" y2="591.30" stroke="#333333" stroke-width="0.7"/>
<line x1="280.46" y1="589.30" x2="280.46" y2="591.30" stroke="#333333" stroke-width="0.7"/>
<line x1="287.52" y1="589.30" x2="287.52" y2="591.30" stroke="#333333" stroke-width="0.7"/>
<line x1="293.74" y1="589.30" x2="293.74" y2="591.30" stroke="#333333" stroke-width="0.7"/>
<text x="51.80" y="604.70" font-size="8.8" fill="#1a1a1a" stroke="#1a1a1a" stroke-width="0.1" text-anchor="middle" textLength="9.60" lengthAdjust="spacingAndGlyphs">10</text>
<text x="60.70" y="600.50" font-size="6.4" fill="#1a1a1a" stroke="#1a1a1a" stroke-width="0.1" text-anchor="middle" textLength="9.20" lengthAdjust="spacingAndGlyphs">−2</text>
<text x="173.40" y="604.70" font-size="8.8" fill="#1a1a1a" stroke="#1a1a1a" stroke-width="0.1" text-anchor="middle" textLength="9.60" lengthAdjust="spacingAndGlyphs">10</text>
<text x="182.30" y="600.50" font-size="6.4" fill="#1a1a1a" stroke="#1a1a1a" stroke-width="0.1" text-anchor="middle" textLength="9.20" lengthAdjust="spacingAndGlyphs">−1</text>
<text x="297.70" y="604.70" font-size="8.8" fill="#1a1a1a" stroke="#1a1a1a" stroke-width="0.1" text-anchor="middle" textLength="9.60" lengthAdjust="spacingAndGlyphs">10</text>
<text x="304.30" y="600.50" font-size="6.4" fill="#1a1a1a" stroke="#1a1a1a" stroke-width="0.1" text-anchor="middle">0</text>
<text x="177.70" y="617.60" font-size="8.8" fill="#1a1a1a" stroke="#1a1a1a" stroke-width="0.1" text-anchor="middle" textLength="139.60" lengthAdjust="spacingAndGlyphs">Selection intensity coefficient (<tspan font-family="Liberation Serif" font-style="italic">β</tspan>)</text>
<text x="34.20" y="476.70" font-size="8.8" fill="#1a1a1a" stroke="#1a1a1a" stroke-width="0.1" text-anchor="middle" textLength="93.90" lengthAdjust="spacingAndGlyphs" transform="rotate(-90 34.20 476.70)">Reward parameter (R)</text>
<rect x="314.30" y="364.00" width="11.30" height="225.30" fill="url(#cb0)" stroke="#262626" stroke-width="0.9"/>
<line x1="325.60" y1="589.18" x2="328.60" y2="589.18" stroke="#333333" stroke-width="0.9"/>
<text x="331.60" y="592.08" font-size="8.8" fill="#1a1a1a" stroke="#1a1a1a" stroke-width="0.1" textLength="5.40" lengthAdjust="spacingAndGlyphs">2</text>
<line x1="325.60" y1="569.61" x2="328.60" y2="569.61" stroke="#333333" stroke-width="0.9"/>
<text x="331.60" y="572.51" font-size="8.8" fill="#1a1a1a" stroke="#1a1a1a" stroke-width="0.1" textLength="10.80" lengthAdjust="spacingAndGlyphs">10</text>
<line x1="325.60" y1="545.15" x2="328.60" y2="545.15" stroke="#333333" stroke-width="0.9"/>
<text x="331.60" y="548.05" font-size="8.8" fill="#1a1a1a" stroke="#1a1a1a" stroke-width="0.1" textLength="10.80" lengthAdjust="spacingAndGlyphs">20</text>
<line x1="325.60" y1="520.68" x2="328.60" y2="520.68" stroke="#333333" stroke-width="0.9"/>
<text x="331.60" y="523.58" font-size="8.8" fill="#1a1a1a" stroke="#1a1a1a" stroke-width="0.1" textLength="10.80" lengthAdjust="spacingAndGlyphs">30</text>
<line x1="325.60" y1="496.22" x2="328.60" y2="496.22" stroke="#333333" stroke-width="0.9"/>
<text x="331.60" y="499.12" font-size="8.8" fill="#1a1a1a" stroke="#1a1a1a" stroke-width="0.1" textLength="10.80" lengthAdjust="spacingAndGlyphs">40</text>
<line x1="325.60" y1="471.76" x2="328.60" y2="471.76" stroke="#333333" stroke-width="0.9"/>
<text x="331.60" y="474.66" font-size="8.8" fill="#1a1a1a" stroke="#1a1a1a" stroke-width="0.1" textLength="10.80" lengthAdjust="spacingAndGlyphs">50</text>
<line x1="325.60" y1="447.29" x2="328.60" y2="447.29" stroke="#333333" stroke-width="0.9"/>
<text x="331.60" y="450.19" font-size="8.8" fill="#1a1a1a" stroke="#1a1a1a" stroke-width="0.1" textLength="10.80" lengthAdjust="spacingAndGlyphs">60</text>
<line x1="325.60" y1="422.83" x2="328.60" y2="422.83" stroke="#333333" stroke-width="0.9"/>
<text x="331.60" y="425.73" font-size="8.8" fill="#1a1a1a" stroke="#1a1a1a" stroke-width="0.1" textLength="10.80" lengthAdjust="spacingAndGlyphs">70</text>
<line x1="325.60" y1="398.37" x2="328.60" y2="398.37" stroke="#333333" stroke-width="0.9"/>
<text x="331.60" y="401.27" font-size="8.8" fill="#1a1a1a" stroke="#1a1a1a" stroke-width="0.1" textLength="10.80" lengthAdjust="spacingAndGlyphs">80</text>
<line x1="325.60" y1="373.91" x2="328.60" y2="373.91" stroke="#333333" stroke-width="0.9"/>
<text x="331.60" y="376.81" font-size="8.8" fill="#1a1a1a" stroke="#1a1a1a" stroke-width="0.1" textLength="10.80" lengthAdjust="spacingAndGlyphs">90</text>
<text x="350.40" y="476.70" font-size="8.8" fill="#1a1a1a" stroke="#1a1a1a" stroke-width="0.1" text-anchor="middle" textLength="59.90" lengthAdjust="spacingAndGlyphs" transform="rotate(-90 350.40 476.70)">Average claim</text>
<g clip-path="url(#clip115)"><g filter="url(#hblur)">
<rect x="448.10" y="360.00" width="251.20" height="6.40" fill="url(#g116)"/>
<rect x="448.10" y="366.00" width="251.20" height="2.40" fill="url(#g117)"/>
<rect x="448.10" y="368.00" width="251.20" height="2.40" fill="url(#g118)"/>
<rect x="448.10" y="370.00" width="251.20" height="2.40" fill="url(#g119)"/>
<rect x="448.10" y="372.00" width="251.20" height="2.40" fill="url(#g120)"/>
<rect x="448.10" y="374.00" width="251.20" height="2.40" fill="url(#g121)"/>
<rect x="448.10" y="376.00" width="251.20" height="2.40" fill="url(#g122)"/>
<rect x="448.10" y="378.00" width="251.20" height="2.40" fill="url(#g123)"/>
<rect x="448.10" y="380.00" width="251.20" height="2.40" fill="url(#g124)"/>
<rect x="448.10" y="382.00" width="251.20" height="2.40" fill="url(#g125)"/>
<rect x="448.10" y="384.00" width="251.20" height="2.40" fill="url(#g126)"/>
<rect x="448.10" y="386.00" width="251.20" height="2.40" fill="url(#g127)"/>
<rect x="448.10" y="388.00" width="251.20" height="2.40" fill="url(#g128)"/>
<rect x="448.10" y="390.00" width="251.20" height="2.40" fill="url(#g129)"/>
<rect x="448.10" y="392.00" width="251.20" height="2.40" fill="url(#g130)"/>
<rect x="448.10" y="394.00" width="251.20" height="2.40" fill="url(#g131)"/>
<rect x="448.10" y="396.00" width="251.20" height="2.40" fill="url(#g132)"/>
<rect x="448.10" y="398.00" width="251.20" height="2.40" fill="url(#g133)"/>
<rect x="448.10" y="400.00" width="251.20" height="2.40" fill="url(#g134)"/>
<rect x="448.10" y="402.00" width="251.20" height="2.40" fill="url(#g135)"/>
<rect x="448.10" y="404.00" width="251.20" height="2.40" fill="url(#g136)"/>
<rect x="448.10" y="406.00" width="251.20" height="2.40" fill="url(#g137)"/>
<rect x="448.10" y="408.00" width="251.20" height="2.40" fill="url(#g138)"/>
<rect x="448.10" y="410.00" width="251.20" height="2.40" fill="url(#g139)"/>
<rect x="448.10" y="412.00" width="251.20" height="2.40" fill="url(#g140)"/>
<rect x="448.10" y="414.00" width="251.20" height="2.40" fill="url(#g141)"/>
<rect x="448.10" y="416.00" width="251.20" height="2.40" fill="url(#g142)"/>
<rect x="448.10" y="418.00" width="251.20" height="2.40" fill="url(#g143)"/>
<rect x="448.10" y="420.00" width="251.20" height="2.40" fill="url(#g144)"/>
<rect x="448.10" y="422.00" width="251.20" height="2.40" fill="url(#g145)"/>
<rect x="448.10" y="424.00" width="251.20" height="2.40" fill="url(#g146)"/>
<rect x="448.10" y="426.00" width="251.20" height="2.40" fill="url(#g147)"/>
<rect x="448.10" y="428.00" width="251.20" height="2.40" fill="url(#g148)"/>
<rect x="448.10" y="430.00" width="251.20" height="2.40" fill="url(#g149)"/>
<rect x="448.10" y="432.00" width="251.20" height="2.40" fill="url(#g150)"/>
<rect x="448.10" y="434.00" width="251.20" height="2.40" fill="url(#g151)"/>
<rect x="448.10" y="436.00" width="251.20" height="2.40" fill="url(#g152)"/>
<rect x="448.10" y="438.00" width="251.20" height="2.40" fill="url(#g153)"/>
<rect x="448.10" y="440.00" width="251.20" height="2.40" fill="url(#g154)"/>
<rect x="448.10" y="442.00" width="251.20" height="2.40" fill="url(#g155)"/>
<rect x="448.10" y="444.00" width="251.20" height="2.40" fill="url(#g156)"/>
<rect x="448.10" y="446.00" width="251.20" height="2.40" fill="url(#g157)"/>
<rect x="448.10" y="448.00" width="251.20" height="2.40" fill="url(#g158)"/>
<rect x="448.10" y="450.00" width="251.20" height="2.40" fill="url(#g159)"/>
<rect x="448.10" y="452.00" width="251.20" height="2.40" fill="url(#g160)"/>
<rect x="448.10" y="454.00" width="251.20" height="2.40" fill="url(#g161)"/>
<rect x="448.10" y="456.00" width="251.20" height="2.40" fill="url(#g162)"/>
<rect x="448.10" y="458.00" width="251.20" height="2.40" fill="url(#g163)"/>
<rect x="448.10" y="460.00" width="251.20" height="2.40" fill="url(#g164)"/>
<rect x="448.10" y="462.00" width="251.20" height="2.40" fill="url(#g165)"/>
<rect x="448.10" y="464.00" width="251.20" height="2.40" fill="url(#g166)"/>
<rect x="448.10" y="466.00" width="251.20" height="2.40" fill="url(#g167)"/>
<rect x="448.10" y="468.00" width="251.20" height="2.40" fill="url(#g168)"/>
<rect x="448.10" y="470.00" width="251.20" height="2.40" fill="url(#g169)"/>
<rect x="448.10" y="472.00" width="251.20" height="2.40" fill="url(#g170)"/>
<rect x="448.10" y="474.00" width="251.20" height="2.40" fill="url(#g171)"/>
<rect x="448.10" y="476.00" width="251.20" height="2.40" fill="url(#g172)"/>
<rect x="448.10" y="478.00" width="251.20" height="2.40" fill="url(#g173)"/>
<rect x="448.10" y="480.00" width="251.20" height="2.40" fill="url(#g174)"/>
<rect x="448.10" y="482.00" width="251.20" height="2.40" fill="url(#g175)"/>
<rect x="448.10" y="484.00" width="251.20" height="2.40" fill="url(#g176)"/>
<rect x="448.10" y="486.00" width="251.20" height="2.40" fill="url(#g177)"/>
<rect x="448.10" y="488.00" width="251.20" height="2.40" fill="url(#g178)"/>
<rect x="448.10" y="490.00" width="251.20" height="2.40" fill="url(#g179)"/>
<rect x="448.10" y="492.00" width="251.20" height="2.40" fill="url(#g180)"/>
<rect x="448.10" y="494.00" width="251.20" height="2.40" fill="url(#g181)"/>
<rect x="448.10" y="496.00" width="251.20" height="2.40" fill="url(#g182)"/>
<rect x="448.10" y="498.00" width="251.20" height="2.40" fill="url(#g183)"/>
<rect x="448.10" y="500.00" width="251.20" height="2.40" fill="url(#g184)"/>
<rect x="448.10" y="502.00" width="251.20" height="2.40" fill="url(#g185)"/>
<rect x="448.10" y="504.00" width="251.20" height="2.40" fill="url(#g186)"/>
<rect x="448.10" y="506.00" width="251.20" height="2.40" fill="url(#g187)"/>
<rect x="448.10" y="508.00" width="251.20" height="2.40" fill="url(#g188)"/>
<rect x="448.10" y="510.00" width="251.20" height="2.40" fill="url(#g189)"/>
<rect x="448.10" y="512.00" width="251.20" height="2.40" fill="url(#g190)"/>
<rect x="448.10" y="514.00" width="251.20" height="2.40" fill="url(#g191)"/>
<rect x="448.10" y="516.00" width="251.20" height="2.40" fill="url(#g192)"/>
<rect x="448.10" y="518.00" width="251.20" height="2.40" fill="url(#g193)"/>
<rect x="448.10" y="520.00" width="251.20" height="2.40" fill="url(#g194)"/>
<rect x="448.10" y="522.00" width="251.20" height="2.40" fill="url(#g195)"/>
<rect x="448.10" y="524.00" width="251.20" height="2.40" fill="url(#g196)"/>
<rect x="448.10" y="526.00" width="251.20" height="2.40" fill="url(#g197)"/>
<rect x="448.10" y="528.00" width="251.20" height="2.40" fill="url(#g198)"/>
<rect x="448.10" y="530.00" width="251.20" height="2.40" fill="url(#g199)"/>
<rect x="448.10" y="532.00" width="251.20" height="2.40" fill="url(#g200)"/>
<rect x="448.10" y="534.00" width="251.20" height="2.40" fill="url(#g201)"/>
<rect x="448.10" y="536.00" width="251.20" height="2.40" fill="url(#g202)"/>
<rect x="448.10" y="538.00" width="251.20" height="2.40" fill="url(#g203)"/>
<rect x="448.10" y="540.00" width="251.20" height="2.40" fill="url(#g204)"/>
<rect x="448.10" y="542.00" width="251.20" height="2.40" fill="url(#g205)"/>
<rect x="448.10" y="544.00" width="251.20" height="2.40" fill="url(#g206)"/>
<rect x="448.10" y="546.00" width="251.20" height="2.40" fill="url(#g207)"/>
<rect x="448.10" y="548.00" width="251.20" height="2.40" fill="url(#g208)"/>
<rect x="448.10" y="550.00" width="251.20" height="2.40" fill="url(#g209)"/>
<rect x="448.10" y="552.00" width="251.20" height="2.40" fill="url(#g210)"/>
<rect x="448.10" y="554.00" width="251.20" height="2.40" fill="url(#g211)"/>
<rect x="448.10" y="556.00" width="251.20" height="2.40" fill="url(#g212)"/>
<rect x="448.10" y="558.00" width="251.20" height="2.40" fill="url(#g213)"/>
<rect x="448.10" y="560.00" width="251.20" height="2.40" fill="url(#g214)"/>
<rect x="448.10" y="562.00" width="251.20" height="2.40" fill="url(#g215)"/>
<rect x="448.10" y="564.00" width="251.20" height="2.40" fill="url(#g216)"/>
<rect x="448.10" y="566.00" width="251.20" height="2.40" fill="url(#g217)"/>
<rect x="448.10" y="568.00" width="251.20" height="2.40" fill="url(#g218)"/>
<rect x="448.10" y="570.00" width="251.20" height="2.40" fill="url(#g219)"/>
<rect x="448.10" y="572.00" width="251.20" height="2.40" fill="url(#g220)"/>
<rect x="448.10" y="574.00" width="251.20" height="2.40" fill="url(#g221)"/>
<rect x="448.10" y="576.00" width="251.20" height="2.40" fill="url(#g222)"/>
<rect x="448.10" y="578.00" width="251.20" height="2.40" fill="url(#g223)"/>
<rect x="448.10" y="580.00" width="251.20" height="2.40" fill="url(#g224)"/>
<rect x="448.10" y="582.00" width="251.20" height="2.40" fill="url(#g225)"/>
<rect x="448.10" y="584.00" width="251.20" height="2.40" fill="url(#g226)"/>
<rect x="448.10" y="586.00" width="251.20" height="2.40" fill="url(#g227)"/>
<rect x="448.10" y="588.00" width="251.20" height="5.70" fill="url(#g228)"/>
</g></g>
<rect x="452.10" y="364.00" width="243.20" height="225.30" fill="none" stroke="#262626" stroke-width="0.9"/>
<line x1="449.10" y1="571.51" x2="452.10" y2="571.51" stroke="#333333" stroke-width="0.9"/>
<text x="445.90" y="574.21" font-size="8.8" fill="#1a1a1a" stroke="#1a1a1a" stroke-width="0.1" text-anchor="end" textLength="5.40" lengthAdjust="spacingAndGlyphs">5</text>
<line x1="449.10" y1="541.87" x2="452.10" y2="541.87" stroke="#333333" stroke-width="0.9"/>
<text x="445.90" y="544.57" font-size="8.8" fill="#1a1a1a" stroke="#1a1a1a" stroke-width="0.1" text-anchor="end" textLength="10.80" lengthAdjust="spacingAndGlyphs">10</text>
<line x1="449.10" y1="512.22" x2="452.10" y2="512.22" stroke="#333333" stroke-width="0.9"/>
<text x="445.90" y="514.92" font-size="8.8" fill="#1a1a1a" stroke="#1a1a1a" stroke-width="0.1" text-anchor="end" textLength="10.80" lengthAdjust="spacingAndGlyphs">15</text>
<line x1="449.10" y1="482.58" x2="452.10" y2="482.58" stroke="#333333" stroke-width="0.9"/>
<text x="445.90" y="485.28" font-size="8.8" fill="#1a1a1a" stroke="#1a1a1a" stroke-width="0.1" text-anchor="end" textLength="10.80" lengthAdjust="spacingAndGlyphs">20</text>
<line x1="449.10" y1="452.93" x2="452.10" y2="452.93" stroke="#333333" stroke-width="0.9"/>
<text x="445.90" y="455.63" font-size="8.8" fill="#1a1a1a" stroke="#1a1a1a" stroke-width="0.1" text-anchor="end" textLength="10.80" lengthAdjust="spacingAndGlyphs">25</text>
<line x1="449.10" y1="423.29" x2="452.10" y2="423.29" stroke="#333333" stroke-width="0.9"/>
<text x="445.90" y="425.99" font-size="8.8" fill="#1a1a1a" stroke="#1a1a1a" stroke-width="0.1" text-anchor="end" textLength="10.80" lengthAdjust="spacingAndGlyphs">30</text>
<line x1="449.10" y1="393.64" x2="452.10" y2="393.64" stroke="#333333" stroke-width="0.9"/>
<text x="445.90" y="396.34" font-size="8.8" fill="#1a1a1a" stroke="#1a1a1a" stroke-width="0.1" text-anchor="end" textLength="10.80" lengthAdjust="spacingAndGlyphs">35</text>
<line x1="449.10" y1="364.00" x2="452.10" y2="364.00" stroke="#333333" stroke-width="0.9"/>
<text x="445.90" y="366.70" font-size="8.8" fill="#1a1a1a" stroke="#1a1a1a" stroke-width="0.1" text-anchor="end" textLength="10.80" lengthAdjust="spacingAndGlyphs">40</text>
<line x1="452.10" y1="589.30" x2="452.10" y2="592.80" stroke="#333333" stroke-width="0.9"/>
<line x1="573.70" y1="589.30" x2="573.70" y2="592.80" stroke="#333333" stroke-width="0.9"/>
<line x1="695.30" y1="589.30" x2="695.30" y2="592.80" stroke="#333333" stroke-width="0.9"/>
<line x1="488.71" y1="589.30" x2="488.71" y2="591.30" stroke="#333333" stroke-width="0.7"/>
<line x1="510.12" y1="589.30" x2="510.12" y2="591.30" stroke="#333333" stroke-width="0.7"/>
<line x1="525.31" y1="589.30" x2="525.31" y2="591.30" stroke="#333333" stroke-width="0.7"/>
<line x1="537.09" y1="589.30" x2="537.09" y2="591.30" stroke="#333333" stroke-width="0.7"/>
<line x1="546.72" y1="589.30" x2="546.72" y2="591.30" stroke="#333333" stroke-width="0.7"/>
<line x1="554.86" y1="589.30" x2="554.86" y2="591.30" stroke="#333333" stroke-width="0.7"/>
<line x1="561.92" y1="589.30" x2="561.92" y2="591.30" stroke="#333333" stroke-width="0.7"/>
<line x1="568.14" y1="589.30" x2="568.14" y2="591.30" stroke="#333333" stroke-width="0.7"/>
<line x1="610.31" y1="589.30" x2="610.31" y2="591.30" stroke="#333333" stroke-width="0.7"/>
<line x1="631.72" y1="589.30" x2="631.72" y2="591.30" stroke="#333333" stroke-width="0.7"/>
<line x1="646.91" y1="589.30" x2="646.91" y2="591.30" stroke="#333333" stroke-width="0.7"/>
<line x1="658.69" y1="589.30" x2="658.69" y2="591.30" stroke="#333333" stroke-width="0.7"/>
<line x1="668.32" y1="589.30" x2="668.32" y2="591.30" stroke="#333333" stroke-width="0.7"/>
<line x1="676.46" y1="589.30" x2="676.46" y2="591.30" stroke="#333333" stroke-width="0.7"/>
<line x1="683.52" y1="589.30" x2="683.52" y2="591.30" stroke="#333333" stroke-width="0.7"/>
<line x1="689.74" y1="589.30" x2="689.74" y2="591.30" stroke="#333333" stroke-width="0.7"/>
<text x="447.80" y="604.70" font-size="8.8" fill="#1a1a1a" stroke="#1a1a1a" stroke-width="0.1" text-anchor="middle" textLength="9.60" lengthAdjust="spacingAndGlyphs">10</text>
<text x="456.70" y="600.50" font-size="6.4" fill="#1a1a1a" stroke="#1a1a1a" stroke-width="0.1" text-anchor="middle" textLength="9.20" lengthAdjust="spacingAndGlyphs">−2</text>
<text x="569.40" y="604.70" font-size="8.8" fill="#1a1a1a" stroke="#1a1a1a" stroke-width="0.1" text-anchor="middle" textLength="9.60" lengthAdjust="spacingAndGlyphs">10</text>
<text x="578.30" y="600.50" font-size="6.4" fill="#1a1a1a" stroke="#1a1a1a" stroke-width="0.1" text-anchor="middle" textLength="9.20" lengthAdjust="spacingAndGlyphs">−1</text>
<text x="693.70" y="604.70" font-size="8.8" fill="#1a1a1a" stroke="#1a1a1a" stroke-width="0.1" text-anchor="middle" textLength="9.60" lengthAdjust="spacingAndGlyphs">10</text>
<text x="700.30" y="600.50" font-size="6.4" fill="#1a1a1a" stroke="#1a1a1a" stroke-width="0.1" text-anchor="middle">0</text>
<text x="573.70" y="617.60" font-size="8.8" fill="#1a1a1a" stroke="#1a1a1a" stroke-width="0.1" text-anchor="middle" textLength="139.60" lengthAdjust="spacingAndGlyphs">Selection intensity coefficient (<tspan font-family="Liberation Serif" font-style="italic">β</tspan>)</text>
<text x="430.20" y="476.70" font-size="8.8" fill="#1a1a1a" stroke="#1a1a1a" stroke-width="0.1" text-anchor="middle" textLength="93.90" lengthAdjust="spacingAndGlyphs" transform="rotate(-90 430.20 476.70)">Reward parameter (R)</text>
<rect x="710.40" y="364.00" width="11.00" height="225.30" fill="url(#cb396)" stroke="#262626" stroke-width="0.9"/>
<line x1="721.40" y1="587.09" x2="724.40" y2="587.09" stroke="#333333" stroke-width="0.9"/>
<text x="727.40" y="589.99" font-size="8.8" fill="#1a1a1a" stroke="#1a1a1a" stroke-width="0.1" textLength="5.40" lengthAdjust="spacingAndGlyphs">2</text>
<line x1="721.40" y1="567.25" x2="724.40" y2="567.25" stroke="#333333" stroke-width="0.9"/>
<text x="727.40" y="570.15" font-size="8.8" fill="#1a1a1a" stroke="#1a1a1a" stroke-width="0.1" textLength="10.80" lengthAdjust="spacingAndGlyphs">10</text>
<line x1="721.40" y1="542.44" x2="724.40" y2="542.44" stroke="#333333" stroke-width="0.9"/>
<text x="727.40" y="545.34" font-size="8.8" fill="#1a1a1a" stroke="#1a1a1a" stroke-width="0.1" textLength="10.80" lengthAdjust="spacingAndGlyphs">20</text>
<line x1="721.40" y1="517.63" x2="724.40" y2="517.63" stroke="#333333" stroke-width="0.9"/>
<text x="727.40" y="520.53" font-size="8.8" fill="#1a1a1a" stroke="#1a1a1a" stroke-width="0.1" textLength="10.80" lengthAdjust="spacingAndGlyphs">30</text>
<line x1="721.40" y1="492.82" x2="724.40" y2="492.82" stroke="#333333" stroke-width="0.9"/>
<text x="727.40" y="495.72" font-size="8.8" fill="#1a1a1a" stroke="#1a1a1a" stroke-width="0.1" textLength="10.80" lengthAdjust="spacingAndGlyphs">40</text>
<line x1="721.40" y1="468.02" x2="724.40" y2="468.02" stroke="#333333" stroke-width="0.9"/>
<text x="727.40" y="470.92" font-size="8.8" fill="#1a1a1a" stroke="#1a1a1a" stroke-width="0.1" textLength="10.80" lengthAdjust="spacingAndGlyphs">50</text>
<line x1="721.40" y1="443.21" x2="724.40" y2="443.21" stroke="#333333" stroke-width="0.9"/>
<text x="727.40" y="446.11" font-size="8.8" fill="#1a1a1a" stroke="#1a1a1a" stroke-width="0.1" textLength="10.80" lengthAdjust="spacingAndGlyphs">60</text>
<line x1="721.40" y1="418.40" x2="724.40" y2="418.40" stroke="#333333" stroke-width="0.9"/>
<text x="727.40" y="421.30" font-size="8.8" fill="#1a1a1a" stroke="#1a1a1a" stroke-width="0.1" textLength="10.80" lengthAdjust="spacingAndGlyphs">70</text>
<line x1="721.40" y1="393.60" x2="724.40" y2="393.60" stroke="#333333" stroke-width="0.9"/>
<text x="727.40" y="396.50" font-size="8.8" fill="#1a1a1a" stroke="#1a1a1a" stroke-width="0.1" textLength="10.80" lengthAdjust="spacingAndGlyphs">80</text>
<line x1="721.40" y1="368.79" x2="724.40" y2="368.79" stroke="#333333" stroke-width="0.9"/>
<text x="727.40" y="371.69" font-size="8.8" fill="#1a1a1a" stroke="#1a1a1a" stroke-width="0.1" textLength="10.80" lengthAdjust="spacingAndGlyphs">90</text>
<text x="746.80" y="476.70" font-size="8.8" fill="#1a1a1a" stroke="#1a1a1a" stroke-width="0.1" text-anchor="middle" textLength="63.80" lengthAdjust="spacingAndGlyphs" transform="rotate(-90 746.80 476.70)">Average payoff</text></svg></body></html>
